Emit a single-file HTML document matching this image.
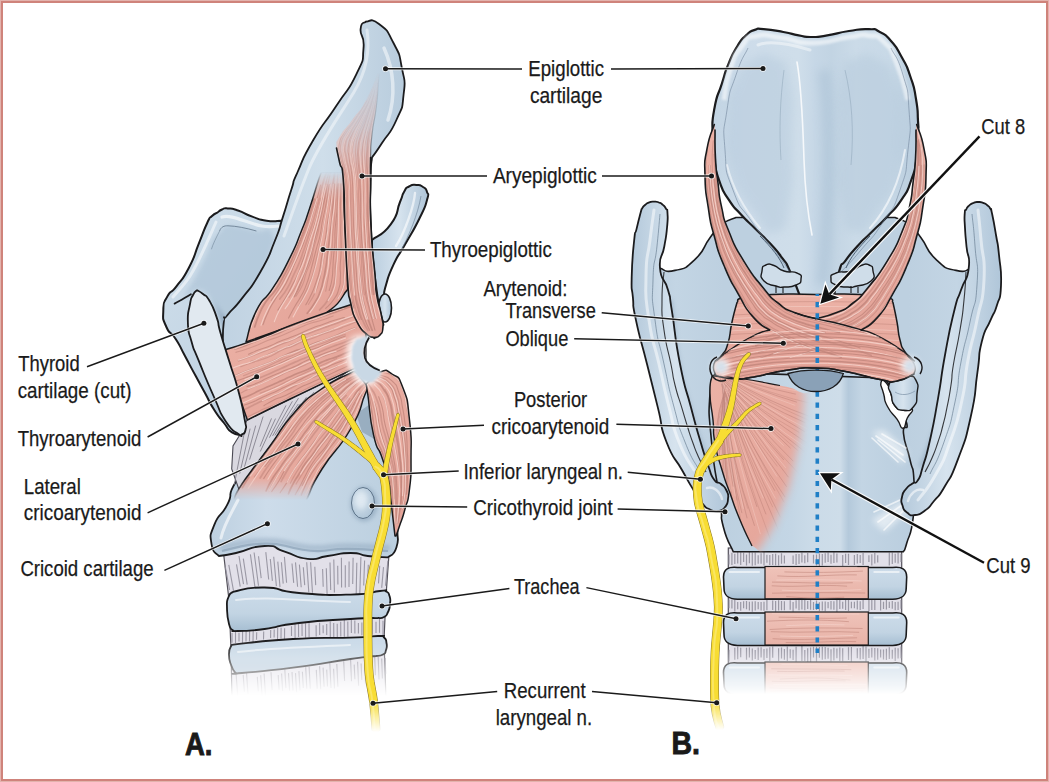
<!DOCTYPE html><html><head><meta charset="utf-8"><title>Larynx</title><style>html,body{margin:0;padding:0;background:#fff}svg{display:block}</style></head><body><svg width="1049" height="782" viewBox="0 0 1049 782">
<defs>
<filter id="blur3" filterUnits="userSpaceOnUse" x="0" y="0" width="1049" height="782"><feGaussianBlur stdDeviation="3"/></filter>
<filter id="blur1" filterUnits="userSpaceOnUse" x="0" y="0" width="1049" height="782"><feGaussianBlur stdDeviation="1"/></filter>
<filter id="blur2" filterUnits="userSpaceOnUse" x="0" y="0" width="1049" height="782"><feGaussianBlur stdDeviation="2"/></filter>
<filter id="blur5" filterUnits="userSpaceOnUse" x="0" y="0" width="1049" height="782"><feGaussianBlur stdDeviation="5"/></filter>
<linearGradient id="gBlue" x1="0" y1="0" x2="1" y2="1"><stop offset="0" stop-color="#cfdeea"/><stop offset="1" stop-color="#b7cbdd"/></linearGradient>
<linearGradient id="gBlueH" x1="0" y1="0" x2="1" y2="0"><stop offset="0" stop-color="#b9cdde"/><stop offset=".5" stop-color="#d6e3ee"/><stop offset="1" stop-color="#afc5d8"/></linearGradient>
<linearGradient id="gRing" x1="0" y1="0" x2="0" y2="1"><stop offset="0" stop-color="#cddcea"/><stop offset=".6" stop-color="#c2d4e3"/><stop offset="1" stop-color="#a6bed2"/></linearGradient>
<linearGradient id="gThyA" x1="0" y1="0" x2="1" y2="1"><stop offset="0" stop-color="#d0dfeb"/><stop offset=".5" stop-color="#c3d5e4"/><stop offset="1" stop-color="#b4c9db"/></linearGradient>
<linearGradient id="gCriA" x1="0" y1="0" x2="1" y2="0"><stop offset="0" stop-color="#bdd0e0"/><stop offset=".3" stop-color="#cddcea"/><stop offset="1" stop-color="#bbcfdf"/></linearGradient>
<linearGradient id="gEpiA" x1="0" y1="0" x2="1" y2="0"><stop offset="0" stop-color="#c0d2e2"/><stop offset=".55" stop-color="#cfdeea"/><stop offset="1" stop-color="#b8ccdd"/></linearGradient>
<radialGradient id="gJoint" cx=".4" cy=".4" r=".7"><stop offset="0" stop-color="#d8e4ee"/><stop offset="1" stop-color="#abc2d5"/></radialGradient>
<linearGradient id="gPink" x1="0" y1="0" x2="1" y2="1"><stop offset="0" stop-color="#ecb2a6"/><stop offset="1" stop-color="#e3a297"/></linearGradient>
<linearGradient id="lgFadeA" x1="0" y1="640" x2="0" y2="696" gradientUnits="userSpaceOnUse"><stop offset="0" stop-color="#fff"/><stop offset="1" stop-color="#000"/></linearGradient>
<mask id="fadeA" maskUnits="userSpaceOnUse" x="150" y="500" width="320" height="260"><rect x="150" y="500" width="320" height="260" fill="url(#lgFadeA)"/></mask>
<linearGradient id="lgFadeTE" x1="0" y1="172" x2="0" y2="200" gradientUnits="userSpaceOnUse"><stop offset="0" stop-color="#000"/><stop offset="1" stop-color="#fff"/></linearGradient>
<mask id="fadeTE" maskUnits="userSpaceOnUse" x="200" y="150" width="220" height="230"><rect x="200" y="150" width="220" height="230" fill="url(#lgFadeTE)"/></mask>
<linearGradient id="lgFadeLC" x1="0" y1="478" x2="0" y2="500" gradientUnits="userSpaceOnUse"><stop offset="0" stop-color="#fff"/><stop offset="1" stop-color="#000"/></linearGradient>
<mask id="fadeLC" maskUnits="userSpaceOnUse" x="200" y="350" width="220" height="200"><rect x="200" y="350" width="220" height="200" fill="url(#lgFadeLC)"/></mask>
<linearGradient id="lgFadeAE" x1="0" y1="72" x2="0" y2="185" gradientUnits="userSpaceOnUse"><stop offset="0" stop-color="#000"/><stop offset=".5" stop-color="#4a4a4a"/><stop offset=".78" stop-color="#b0b0b0"/><stop offset="1" stop-color="#fff"/></linearGradient>
<mask id="fadeAE" maskUnits="userSpaceOnUse" x="300" y="50" width="120" height="320"><rect x="300" y="50" width="120" height="320" fill="url(#lgFadeAE)"/></mask>
<linearGradient id="lgFadeNA" x1="0" y1="700" x2="0" y2="732" gradientUnits="userSpaceOnUse"><stop offset="0" stop-color="#fff"/><stop offset="1" stop-color="#000"/></linearGradient>
<mask id="fadeNA" maskUnits="userSpaceOnUse" x="250" y="300" width="200" height="460"><rect x="250" y="300" width="200" height="460" fill="url(#lgFadeNA)"/></mask>

<linearGradient id="gEpiB" x1="713" y1="0" x2="917" y2="0" gradientUnits="userSpaceOnUse"><stop offset="0" stop-color="#c2d4e3"/><stop offset=".15" stop-color="#cddcea"/><stop offset=".42" stop-color="#cfdeea"/><stop offset=".5" stop-color="#c6d7e6"/><stop offset=".58" stop-color="#c2d4e3"/><stop offset=".7" stop-color="#cbdbe8"/><stop offset=".87" stop-color="#c8d9e7"/><stop offset="1" stop-color="#b8ccdd"/></linearGradient>
<linearGradient id="gLamB" x1="631" y1="0" x2="1001" y2="0" gradientUnits="userSpaceOnUse"><stop offset="0" stop-color="#b3c8da"/><stop offset=".12" stop-color="#c3d5e4"/><stop offset=".25" stop-color="#bdd0e0"/><stop offset=".75" stop-color="#bdd0e0"/><stop offset=".88" stop-color="#c3d5e4"/><stop offset="1" stop-color="#b3c8da"/></linearGradient>
<linearGradient id="gCriB" x1="710" y1="0" x2="915" y2="0" gradientUnits="userSpaceOnUse"><stop offset="0" stop-color="#bbcfdf"/><stop offset=".4" stop-color="#c4d6e5"/><stop offset=".5" stop-color="#cbdbe8"/><stop offset=".635" stop-color="#cedde9"/><stop offset=".675" stop-color="#b4c9db"/><stop offset=".74" stop-color="#c3d5e4"/><stop offset="1" stop-color="#b9cdde"/></linearGradient>
<linearGradient id="gStripL" x1="0" y1="0" x2="1" y2="0"><stop offset="0" stop-color="#b4c9db"/><stop offset=".45" stop-color="#d6e3ee"/><stop offset="1" stop-color="#b0c6d9"/></linearGradient>
<linearGradient id="lgFadeB" x1="0" y1="648" x2="0" y2="694" gradientUnits="userSpaceOnUse"><stop offset="0" stop-color="#fff"/><stop offset="1" stop-color="#000"/></linearGradient>
<mask id="fadeB" maskUnits="userSpaceOnUse" x="650" y="500" width="330" height="260"><rect x="650" y="500" width="330" height="260" fill="url(#lgFadeB)"/></mask>
<linearGradient id="lgFadePC" x1="760" y1="436" x2="800" y2="448" gradientUnits="userSpaceOnUse"><stop offset="0" stop-color="#fff"/><stop offset="1" stop-color="#000"/></linearGradient>
<mask id="fadePC" maskUnits="userSpaceOnUse" x="650" y="340" width="330" height="260"><rect x="650" y="340" width="330" height="260" fill="url(#lgFadePC)"/></mask>
<linearGradient id="lgFadeNB" x1="0" y1="700" x2="0" y2="730" gradientUnits="userSpaceOnUse"><stop offset="0" stop-color="#fff"/><stop offset="1" stop-color="#000"/></linearGradient>
<mask id="fadeNB" maskUnits="userSpaceOnUse" x="650" y="300" width="200" height="460"><rect x="650" y="300" width="200" height="460" fill="url(#lgFadeNB)"/></mask>
<linearGradient id="gPinkT" x1="0" y1="0" x2="0" y2="1"><stop offset="0" stop-color="#efc3b9"/><stop offset="1" stop-color="#e8b2a7"/></linearGradient>
<linearGradient id="gPinkH" x1="0" y1="0" x2="0" y2="1"><stop offset="0" stop-color="#ecb2a6"/><stop offset="1" stop-color="#e3a297"/></linearGradient>

</defs>
<rect x="0" y="0" width="1049" height="782" fill="#fff"/><g mask="url(#fadeA)"><path d="M222 540L390 540L386 596L384 640L386 700L232 700L231 650L229 600Z" fill="#e2e0e9" stroke="#55535c" stroke-width="1.2"/><path d="M225.1 565.9L229.6 590M228.8 564.9L233.5 590.7M236.5 564.3L240.2 586.7M239 556L243.5 584.2M243.3 558.7L247.2 584.7M250.4 554.4L255 587.4M254.1 552.5L258.5 585.8M258.5 556.2L261.2 578.1M265.8 552.1L268.7 579.5M270.3 559L272.4 580.9M273.7 556.7L276.4 586.1M277.8 561.6L280 587.1M281.4 562.3L283.2 583.6M284.4 556.9L286.6 582.8M292 563.5L293.7 582.9M295.5 562.4L297.6 586.8M299.4 564.6L301.2 587.3M303.3 567.3L304.7 585.1M306.7 562.2L308.8 592.2M310.6 562.2L312.5 592.7M314.8 566.7L315.7 585.1M322.6 569L323.2 586.8M326.3 568.2L327.1 594.6M330 562.4L330.7 590.1M333.8 559.4L334.4 592.4M337.7 565.7L337.9 584.4M341.4 557.8L341.6 587.6M345.3 565.3L345.3 587.4M349.1 561.4L349 587M353.1 557.7L352.7 584.1M356.8 562.8L356.2 594.6M360.9 556.9L359.8 594.2M364.6 560.6L363.7 585.5M368.3 564.7L367.3 587.6M372.5 558.2L370.7 592.2M379.7 565.8L378.5 583.4M383.5 567.1L381.7 587.9M387.9 560.8L385.5 585.7" fill="none" stroke="#8e8c99" stroke-width="1.1" opacity="0.85"/><path d="M232 633.1L232 642.7M235.5 630L235.5 643.2M239 632.7L239 641.6M242.6 630.9L242.5 643M246.1 631.3L246 641.6M249.6 630.4L249.5 641.3M253.2 630.6L253 641.9M256.7 632.2L256.5 639.8M263.7 631.6L263.5 639.5M270.7 630.1L270.6 638.1M274.2 629.4L274.1 637.4M277.7 627.9L277.5 639.9M281.1 627.8L281 638.4M284.6 628.2L284.5 639.5M291.5 626.3L291.5 636M295 623.9L295.1 638.3M298.5 623.5L298.6 637.1M302 623.4L302.1 636.1M305.5 623.2L305.6 637.8M309 622L309.1 637.3M316.1 625.2L316.2 636.4M319.6 622.7L319.7 635.1M323.1 625.2L323.2 633.3M326.7 623.9L326.7 635.1M330.2 621.5L330.3 638.1M333.7 623.1L333.8 637.6M337.2 623.7L337.3 637.1M340.7 621.8L340.8 636.5M344.3 619.8L344.3 636.7M347.8 621.5L347.9 636.8M351.3 619L351.4 632.9M354.8 620.4L354.9 633.5M358.4 622.9L358.4 633.4M361.9 622.4L361.9 635.2M365.4 620.3L365.4 634.2M368.9 619.6L368.9 633M372.4 619.1L372.5 634.8M376 621.8L376 632.9M379.5 618.7L379.5 632.8M383 620.8L383 635.6" fill="none" stroke="#8e8c99" stroke-width="1.1" opacity="0.85"/><path d="M236.1 674L237.8 697.2M243.2 674.9L244.4 691.8M246.5 672.4L248 694.5M257.3 676.9L258.3 691.2M260.7 675.3L262.2 697.5M264.1 673.5L265.6 697.4M271 672.2L272.1 690.1M278.2 675.1L279.1 689.8M281.6 673.5L282.6 691M284.8 669.3L285.9 688.1M288.5 673.1L289.6 690.7M292 672.1L293 690.6M295.5 673.1L296.6 692.2M298.9 671.1L300 690.4M302.4 671.7L303.3 688M305.7 667.1L306.8 688.7M309.1 666.8L310.3 688.8M316.3 669.9L317.2 688.7M319.6 666.3L320.7 689.3M323.1 667.6L324.1 686.8M326.7 669.6L327.5 686.5M329.8 662.8L331 688M333.6 668.8L334.5 688.6M336.8 664L337.9 686.8M343.7 661.3L344.6 681.1M350.6 659.8L351.5 681.2M354.2 664.6L354.9 679.3M357.6 661.7L358.6 685.7M361.1 663.4L361.8 679.9M364.4 659.2L365.5 684.6M367.8 657.1L368.6 677.9M371.3 657.1L372.2 679.9M374.7 656.7L375.4 675.2M378.2 656.9L379 679.4M381.7 658.6L382.4 678.4M385.2 657.9L385.7 673.8" fill="none" stroke="#8e8c99" stroke-width="1.1" opacity="0.85"/><path d="M233 591.8C243.5 590.4 242.6 587.1 264.6 587.5C286.6 587.9 270.3 590.6 299 593C327.7 595.4 323.6 595.3 350.6 594.6C377.6 593.9 368.2 592 380 591C391.8 590 382.8 589.8 386 591.5C389.2 593.2 388.2 591.8 389.5 596C390.8 600.2 390.5 598.7 390 604C389.5 609.3 390 607.7 388 612C386 616.3 387.3 615 384 617C380.7 619 380 617.7 378 618C368.9 618.3 376.9 617.3 350.6 619C324.3 620.7 327.7 619.7 299 623C270.3 626.3 284.9 626.3 264.6 629C244.3 631.7 248.5 630.5 238 631C227.5 631.5 234.7 630.7 233 630.5C231.7 628.3 231 631.5 229 624C227 616.5 227.2 617 227 608C226.8 599 226.5 602.4 228.5 597C230.5 591.6 231.5 593.5 233 591.8Z" fill="url(#gRing)" stroke="#1b1b1d" stroke-width="1.8" stroke-linejoin="round" /><path d="M236 600C270 596 300 601 350 602" stroke="#fff" stroke-width="2" opacity=".55" fill="none" stroke-linecap="round"/><path d="M231.7 644.8C252.1 642.9 253.4 641.4 293 639C332.6 636.6 322.3 638.6 350.6 637.6C378.9 636.6 366.9 636 378 636C389.1 636 381.2 635.2 384 637.5C386.8 639.8 385.8 638.8 386.5 643C387.2 647.2 387.2 646.2 386 650C384.8 653.8 386.3 652.5 383 654.5C379.7 656.5 378.3 655.5 376 656C367.5 657 378.3 655.1 350.6 659C322.9 662.9 329.2 663 293 667.7C256.8 672.4 261 671.1 242 673C223 674.9 238 673.3 236 673.4C234.5 670.9 233.8 672.5 231.5 666C229.2 659.5 228.9 661.1 229 654C229.1 646.9 230.8 647.9 231.7 644.8Z" fill="url(#gRing)" stroke="#1b1b1d" stroke-width="1.8" stroke-linejoin="round" /><path d="M238 652C270 648 300 647 350 645" stroke="#fff" stroke-width="2" opacity=".55" fill="none" stroke-linecap="round"/></g><path d="M217.5 212.5C219 211.5 218.6 210.9 222 209.5C225.4 208.1 222.4 208.1 227.7 208.4C233 208.7 229.8 207.8 238 210.5C246.2 213.2 242.8 213.2 252.3 216.6C261.8 220 257 219.3 266.6 220.7C276.2 222.1 276.2 220.7 281 220.7C287.3 227.1 283.7 213.6 300 240C316.3 266.4 330 260 330 300C330 340 326.7 320 300 360C273.3 400 269.4 395.1 250 420C230.6 444.9 244.5 429.7 241.7 434.6C238.5 433.9 237.9 436.3 232 432.4C226.1 428.5 230 430.6 224 423C218 415.4 220.3 419.5 214 409.5C207.7 399.5 211.1 404.2 205 393C198.9 381.8 202.3 388.1 195.6 375.8C188.9 363.5 191.6 368.3 185 356C178.4 343.7 181.9 348.7 175.7 339C169.5 329.3 170.5 336.4 166.4 327C162.3 317.6 163 320.9 163.3 310.7C163.6 300.5 163 304.6 167.4 296.4C171.8 288.2 169.4 295.8 176.6 286.2C183.8 276.6 181.4 282 188.9 267.7C196.4 253.4 192.9 258.2 199 243.2C205.1 228.2 203 231.8 207.3 222.7C211.6 213.6 208.6 219.4 212 216C215.4 212.6 215.7 213.7 217.5 212.5Z" fill="url(#gThyA)" stroke="#1b1b1d" stroke-width="2" stroke-linejoin="round" /><path d="M221 231C225.3 226.3 219.7 227.3 226 226C232.3 224.7 230 225.3 240 227C250 228.7 245.3 229 256 231C266.7 233 268 224 272 233C276 242 274.7 239 268 258C261.3 277 262.7 272 252 290C241.3 308 244.7 300.7 236 312C227.3 323.3 233.3 326.7 226 324C218.7 321.3 222.7 315.3 214 304C205.3 292.7 209.3 292.7 200 290C190.7 287.3 187.3 300.7 186 296C184.7 291.3 189.3 289.3 196 276C202.7 262.7 200.3 268 206 256C211.7 244 208 248.3 213 240C218 231.7 216.7 235.7 221 231Z" fill="#afc5d8" opacity=".7" filter="url(#blur2)"/><path d="M219.6 231C221 227 224 225.6 228 225.8C236 226 246 228 256.4 231" fill="none" stroke="#5f7386" stroke-width=".9" opacity=".85"/><path d="M219.6 231C216 238 213 244 211.4 249.3" fill="none" stroke="#5f7386" stroke-width=".8" opacity=".6"/><path d="M222 217C232 214 246 223 262 226C268 227 274 226.5 279 226" fill="none" stroke="#fff" stroke-width="3.2" opacity=".6" stroke-linecap="round"/><path d="M216 222C208 240 200 260 190 276C185 284 178 291 173 297" fill="none" stroke="#fff" stroke-width="3" opacity=".5" stroke-linecap="round"/><path d="M174.6 303.6C180 301 186 297 190.9 294.3" fill="none" stroke="#1b1b1d" stroke-width="1.8" stroke-linecap="round"/><path d="M212 300C220 316 226 336 232 356L246 340L226 318Z" fill="#8ba2b8" opacity=".8" filter="url(#blur2)"/><path d="M372 240C378.2 234.8 381.4 237.1 390.7 224.4C400 211.7 395.6 212.8 400 202C404.4 191.2 401 197.2 404 192C407 186.8 404.8 188.8 409 186.5C413.2 184.2 411.8 184.8 416.5 185C421.2 185.2 419.5 184.7 423 187C426.5 189.3 425.7 187.7 427 192C428.3 196.3 429.6 191.1 427 200C424.4 208.9 426.6 203.9 419.3 218.7C412 233.5 413.6 229.2 405 244.5C396.4 259.8 399.8 251.1 393.5 264.6C387.2 278.1 389.2 274.5 386 285C382.8 295.5 384.7 292.3 384 296C380 296 376 314.7 372 296C368 277.3 372 258.7 372 240Z" fill="url(#gBlueH)" stroke="#1b1b1d" stroke-width="2" stroke-linejoin="round" /><path d="M415 193C414 206 405 232 396 246" fill="none" stroke="#fff" stroke-width="2.4" opacity=".6" stroke-linecap="round"/><path d="M421 196C418 214 409 236 400 252" fill="none" stroke="#6d8196" stroke-width=".8" opacity=".8"/><ellipse cx="385" cy="308" rx="6.5" ry="14" fill="url(#gBlueH)" stroke="#1b1b1d" stroke-width="1.6"/><path d="M300 400C286.7 416.7 281.3 422.8 260 450C238.7 477.2 246.9 463.4 236 481.5C225.1 499.6 234.6 490.1 227.4 504.4C220.2 518.7 219.8 511 214.5 524.4C209.2 537.8 210.2 534 211.6 544.5C213 555 216.4 552.2 218.8 556C224.5 555 220.7 556.3 236 553C251.3 549.7 248.4 546.4 264.6 546C280.8 545.6 270.4 547.4 284.7 551.7C299 556 293.3 557.4 307.6 558.8C321.9 560.2 313.4 557.9 327.7 556C342 554.1 337.2 553 350.6 553C364 553 355.4 554.5 367.8 556C380.2 557.5 381.1 556.9 387.8 557.4C390.7 554.1 393.2 557.4 396.4 547.4C399.6 537.4 397 543.1 397.5 527.3C398 511.5 398.8 522.4 398 500C397.2 477.6 401 486.7 395 460C389 433.3 390 443.3 380 420C370 396.7 391.7 396.7 365 390C338.3 383.3 321.7 396.7 300 400Z" fill="url(#gCriA)" stroke="#1b1b1d" stroke-width="1.8" stroke-linejoin="round" /><path d="M222 551C238 547 262 540 286 546C300 550 314 553 330 550C348 547 366 550 388 551" fill="none" stroke="#7e95ab" stroke-width="2.2" opacity=".55"/><path d="M238 500C232 512 224 524 221 538" fill="none" stroke="#fff" stroke-width="3" opacity=".6" stroke-linecap="round"/><path d="M220 548C238 544 262 537 286 543C300 547 314 550 330 547C348 544 366 547 390 548" fill="none" stroke="#8aa2b9" stroke-width="5" opacity=".55" filter="url(#blur2)"/><ellipse cx="364" cy="504" rx="13.5" ry="17.5" fill="#8ea6bc" opacity=".7" filter="url(#blur2)"/><ellipse cx="363" cy="503" rx="11.5" ry="15.5" fill="url(#gJoint)" stroke="#5d7389" stroke-width="1"/><ellipse cx="361" cy="500" rx="6" ry="9" fill="#e4edf4" opacity=".7" filter="url(#blur2)"/><path d="M356 414L373 402L376 440L362 432Z" fill="#8fa5b8" opacity=".8"/><path d="M247 420L347.7 371.6L300 405L270 446L238.8 489L231.7 469L233 446L241 433Z" fill="#d9d8e0" stroke="#4a4953" stroke-width="1.1"/><path d="M244.3 432.7L234.3 484.6M250.1 428.7L239.7 473.7M255.7 425.6L243.7 469.8M263.1 416.5L249.6 459.6M271.5 418.4L260 446.6M275.5 418.6L260.3 451.5M286 405.4L269.4 437.7M292.4 401.3L272.6 435.9M298.5 398.1L274.9 435.4M298.3 404L278.9 431.7M306.5 397.2L282 429.1M314.1 392L283 428.6M314.9 394.3L290.3 420.6M326.1 385.7L299.3 411.7M336 381.2L301.8 408.5" fill="none" stroke="#85838e" stroke-width="1" opacity="0.9"/><path d="M366 21.5C370.3 22.3 369.8 16.8 379 24C388.2 31.2 385.8 28.1 393.5 43C401.2 57.9 398.6 51.5 402 68.7C405.4 85.9 405.5 77.4 403.6 94.5C401.7 111.6 403.6 103.8 396.4 120C389.2 136.2 390.1 130.5 382 143C373.9 155.5 375.3 152.7 372 157.5C371.5 165 370.9 156.8 370.6 180C370.3 203.2 369.2 192 371 227C372.8 262 371.8 252.3 376 285C380.2 317.7 381 311.7 383.5 325C355.7 331.7 353.5 336.3 300 345C246.5 353.7 248.7 349 223 351C223.2 341.7 222.1 335.1 223.7 323C225.3 310.9 221.6 323 227.7 314.8C233.8 306.6 231.1 312.7 242 298.4C252.9 284.1 249.6 290.9 260.5 271.8C271.4 252.7 267.3 259.4 274.8 241C282.3 222.6 277.5 233.6 283 216.6C288.5 199.6 286.3 204.9 291.2 190C296.1 175.1 290.2 188.7 297.6 172C305 155.3 300.4 162 313.3 140C326.2 118 321.9 127.9 336.2 106C350.5 84.1 347.2 93.5 356.3 74.4C365.4 55.3 362.1 63.7 363.5 48.6C364.9 33.5 359.8 38 360.6 29C361.4 20 364.2 24 366 21.5Z" fill="url(#gEpiA)" stroke="#1b1b1d" stroke-width="1.8" stroke-linejoin="round" /><path d="M367 30C370 50 366 72 354 92C338 118 322 140 310 166C300 190 292 214 284 236" fill="none" stroke="#fff" stroke-width="3" opacity=".45" stroke-linecap="round"/><path d="M384 48C394 70 396 96 388 120" fill="none" stroke="#fff" stroke-width="3.5" opacity=".5" stroke-linecap="round"/><clipPath id="cTE"><path d="M322 172C321 174.2 323.1 166.5 319 178.6C314.9 190.7 315.5 190.9 309.6 208.4C303.7 225.9 308.3 213.9 301.4 231C294.5 248.1 298.5 240.5 289 259.6C279.5 278.7 283.7 271.2 272.8 288.2C261.9 305.2 265.3 292.8 256.4 310.7C247.5 328.6 249.5 331.6 246 342L325 314C331 308 335.5 309 343 296C350.5 283 346.8 298 347.5 275C348.2 252 346.4 258.5 345 227C343.6 195.5 344.1 198.8 343.4 180.5C342.7 162.2 343.1 174.8 343 172Z"/></clipPath><path d="M322 172C321 174.2 323.1 166.5 319 178.6C314.9 190.7 315.5 190.9 309.6 208.4C303.7 225.9 308.3 213.9 301.4 231C294.5 248.1 298.5 240.5 289 259.6C279.5 278.7 283.7 271.2 272.8 288.2C261.9 305.2 265.3 292.8 256.4 310.7C247.5 328.6 249.5 331.6 246 342L325 314C331 308 335.5 309 343 296C350.5 283 346.8 298 347.5 275C348.2 252 346.4 258.5 345 227C343.6 195.5 344.1 198.8 343.4 180.5C342.7 162.2 343.1 174.8 343 172Z" fill="url(#gPink)" mask="url(#fadeTE)"/><g clip-path="url(#cTE)" fill="none" stroke-linecap="round" mask="url(#fadeTE)"><path d="M314.1 199C312.9 203.5 313.2 203.5 310.3 212.5C307.5 221.5 309 217.1 305.7 226C302.5 234.9 304.2 230.4 300.6 239.3C297.1 248.1 298.8 243.8 295 252.5C291.2 261.1 293.4 256.8 289.3 265.3C285.2 273.7 287.3 269.5 282.7 277.8C278.1 286 280.9 282.1 275.5 290C270 297.8 271.6 293.5 266.3 301.3C261 309.2 263.5 305 259.6 313.6C255.7 322.1 256.3 322.5 254.7 326.9" stroke="#c0847a" stroke-width="1.7" opacity="0.8"/><path d="M315.8 198.8C314.4 203.3 314.6 203.3 311.8 212.3C308.9 221.2 310.4 216.8 307.3 225.7C304.1 234.5 305.7 230.1 302.3 238.9C299 247.7 300.7 243.4 297.2 252C293.7 260.6 295.8 256.3 291.9 264.7C288 273.1 289.9 269 285.5 277.2C281.1 285.4 283.5 281.6 278.7 289.4C273.9 297.1 273.7 296.8 271.2 300.5" stroke="#c0847a" stroke-width="1.1" opacity="0.55"/><path d="M320.6 185.1C319.4 189.6 319.6 189.6 317.1 198.6C314.7 207.6 315.9 203.1 313.3 212C310.7 220.9 312.1 216.5 309.4 225.2C306.7 234 308.3 229.6 305.2 238.3C302.2 247 303.9 242.7 300.3 251.3C296.7 259.9 298.1 255.8 294.5 264.1C290.8 272.5 293.2 268.3 289.3 276.4C285.4 284.6 287.6 280.8 282.8 288.6C278 296.4 279.7 292.1 274.9 299.9C270 307.7 272.2 303.6 268.2 311.9C264.2 320.2 264.7 320.5 262.9 324.8" stroke="#c0847a" stroke-width="1.1" opacity="0.8"/><path d="M326.6 172C325.2 176.3 324.8 176.3 322.4 185C319.9 193.8 321.5 189.5 319.4 198.3C317.2 207.2 318.4 202.8 315.9 211.6C313.5 220.4 314.7 216 312 224.7C309.3 233.4 310.7 229.1 307.9 237.7C305.1 246.3 306.5 242.1 303.6 250.6C300.6 259.1 302.5 254.8 299.1 263.1C295.7 271.5 297.1 267.4 293.3 275.6C289.5 283.8 292.2 279.8 287.7 287.6C283.2 295.4 282.4 295.2 279.8 299" stroke="#c0847a" stroke-width="1.7" opacity="0.55"/><path d="M321.1 198.1C320.1 202.4 320.3 202.5 318.1 211.2C316 219.9 317.1 215.6 314.6 224.2C312.1 232.9 313.3 228.6 310.6 237.1C307.9 245.7 309.3 241.5 306.4 250C303.6 258.4 305 254.3 302 262.5C299 270.8 301 266.6 297.5 274.7C293.9 282.9 295.3 279.1 291.3 286.9C287.3 294.7 289.9 290.3 285.4 298.1C281 305.8 280.4 306.1 277.9 310.1" stroke="#c0847a" stroke-width="1.1" opacity="0.8"/><path d="M328.9 172C327.8 176.3 327.6 176.2 325.5 184.8C323.5 193.4 324.6 189.2 322.8 197.9C320.9 206.6 322 202.2 320 210.9C318 219.5 319.1 215.2 316.8 223.8C314.5 232.4 315.6 228.1 313.1 236.6C310.6 245.1 311.9 241 309.4 249.3C306.9 257.7 308.2 253.6 305.6 261.8C303 269.9 304.7 265.8 301.5 273.9C298.4 282 300.3 278.1 296.1 286C291.9 293.8 291.3 293.6 289 297.5" stroke="#c0847a" stroke-width="1.1" opacity="0.55"/><path d="M326.7 184.7C326 189 326.2 189 324.5 197.6C322.7 206.3 323.3 202 321.5 210.6C319.6 219.2 320.9 214.9 318.9 223.4C316.9 231.9 317.7 227.7 315.5 236.1C313.2 244.6 314.3 240.4 312.1 248.7C310 257 311.7 252.8 309 261C306.3 269.2 307.2 265.3 304.1 273.4C301 281.5 303.1 277.5 299.8 285.3C296.6 293 296.1 292.8 294.3 296.5" stroke="#c0847a" stroke-width="1.7" opacity="0.8"/><path d="M330.6 172C329.7 176.2 329.6 176.1 327.8 184.6C326 193.2 326.8 189 325.1 197.6C323.5 206.1 324.5 201.8 322.8 210.4C321.1 218.9 321.8 214.7 319.9 223.2C318.1 231.6 319.4 227.3 317.3 235.7C315.2 244.1 315.8 240.1 313.7 248.4C311.7 256.7 313.6 252.4 311.1 260.6C308.6 268.8 309.1 264.9 306.2 272.9C303.4 281 306 277 302.6 284.7C299.1 292.5 298.1 292.4 295.9 296.3" stroke="#c0847a" stroke-width="1.1" opacity="0.55"/><path d="M329.1 184.6C328.4 188.8 328.6 188.8 327.2 197.3C325.7 205.8 326.5 201.6 324.8 210C323.1 218.5 323.7 214.4 322.1 222.7C320.6 231.1 321.9 226.8 320.1 235.1C318.3 243.5 318.9 239.4 316.7 247.7C314.5 256 315.6 251.9 313.5 260C311.4 268.2 312.6 264.1 310.3 272.1C308 280.1 309.5 276.2 306.6 284C303.7 291.7 305.5 287.6 301.5 295.3C297.4 303 298.8 299.4 294.5 307C290.2 314.6 290.6 314.4 288.6 318.1" stroke="#c0847a" stroke-width="1.1" opacity="0.8"/><path d="M330.5 184.5C329.9 188.7 330 188.7 328.7 197.1C327.4 205.5 328 201.3 326.6 209.7C325.3 218.1 326.1 213.9 324.5 222.2C323 230.6 323.8 226.4 322.1 234.7C320.4 243 321.3 238.9 319.5 247.1C317.6 255.4 318.3 251.3 316.5 259.4C314.6 267.5 316.1 263.4 313.8 271.4C311.6 279.4 312.8 275.6 309.7 283.4C306.6 291.2 308.1 287.2 304.5 294.8C300.9 302.4 300.8 302.3 298.9 306.1" stroke="#c0847a" stroke-width="1.7" opacity="0.55"/><path d="M334.5 172C333.9 176.1 333.9 176 332.7 184.3C331.6 192.6 332 188.5 331 196.8C330.1 205.1 331 200.9 329.9 209.2C328.8 217.4 329 213.4 327.7 221.6C326.4 229.9 327.3 225.7 326.1 233.9C324.8 242 325.6 238 324 246.1C322.5 254.3 323 250.3 321.5 258.3C320 266.3 321.4 262.3 319.6 270.2C317.8 278.1 318.7 274.3 316.1 282.1C313.4 289.9 315.1 286 311.7 293.5C308.3 301.1 307.8 301 305.8 304.8" stroke="#c0847a" stroke-width="1.1" opacity="0.8"/><path d="M335.1 172C334.6 176.1 334.6 176 333.6 184.2C332.7 192.5 333.2 188.4 332.3 196.6C331.3 204.9 332 200.7 330.9 209C329.7 217.2 330 213.2 328.8 221.4C327.6 229.6 328.4 225.5 327.2 233.6C326.1 241.8 326.5 237.8 325.3 245.9C324.2 253.9 325 249.9 323.7 257.9C322.5 265.8 323.1 261.9 321.5 269.8C319.9 277.7 321.2 273.8 319 281.6C316.7 289.3 318.3 285.4 314.9 293C311.4 300.6 310.6 300.5 308.5 304.3" stroke="#c0847a" stroke-width="1.1" opacity="0.55"/><path d="M334.9 184.2C334.6 188.2 334.8 188.2 334 196.4C333.3 204.6 333.4 200.5 332.7 208.7C331.9 216.8 332.7 212.7 331.8 220.8C330.9 228.9 331.2 224.9 330.1 233C329.1 241.1 329.6 237.1 328.7 245.1C327.7 253.2 328.3 249.2 327.2 257.1C326.2 265 326.9 261.1 325.5 269C324.1 276.9 325 273 323.1 280.8C321.3 288.5 322.9 284.6 320 292.1C317.1 299.6 318.6 296.1 314.4 303.2C310.1 310.2 309.6 309.9 307.2 313.3" stroke="#c0847a" stroke-width="1.7" opacity="0.8"/><path d="M337.9 172C337.6 176 337.5 176 336.9 184C336.3 192.1 336.6 188.1 336 196.2C335.4 204.2 335.7 200.2 335.2 208.3C334.6 216.3 335 212.3 334.3 220.3C333.5 228.4 333.6 224.4 332.9 232.4C332.2 240.4 332.8 236.4 332.3 244.3C331.8 252.3 332.2 248.3 331.4 256.2C330.5 264.1 330.9 260.2 329.7 268.1C328.5 276 329.1 272.2 327.8 279.9C326.4 287.5 326.4 287.4 325.7 291.1" stroke="#c0847a" stroke-width="1.1" opacity="0.55"/><path d="M338 183.9C337.8 188 337.6 188 337.3 196C336.9 204 337.5 199.9 337 207.9C336.6 215.9 336.7 212 336 220C335.3 228 335.3 224.1 335 232C334.6 239.9 335.3 235.9 334.9 243.8C334.4 251.7 334.3 247.8 333.6 255.7C333 263.6 333.4 259.7 332.9 267.5C332.3 275.2 333.2 271.3 332 279C330.8 286.7 330.1 286.7 329.2 290.5" stroke="#c0847a" stroke-width="1.1" opacity="0.8"/><path d="M339.1 183.9C338.9 187.9 338.8 187.9 338.5 195.8C338.2 203.8 338.6 199.8 338.3 207.7C337.9 215.7 337.9 211.7 337.5 219.7C337.1 227.6 337.3 223.6 337.1 231.5C336.9 239.4 336.8 235.5 336.8 243.4C336.7 251.2 337.4 247.2 336.9 255C336.5 262.9 336 259.1 335.4 266.9C334.8 274.7 336.2 270.7 335 278.5C333.9 286.2 334.6 282.6 332 290.1C329.4 297.5 331.4 294.1 327.3 300.7C323.2 307.4 322.2 306.9 319.6 310" stroke="#c0847a" stroke-width="1.7" opacity="0.55"/><path d="M340.8 183.7C340.8 187.7 340.8 187.7 340.7 195.5C340.6 203.4 340.5 199.5 340.5 207.3C340.6 215.2 340.9 211.2 340.9 219C341 226.8 340.7 223 340.7 230.8C340.8 238.6 341 234.6 341.1 242.4C341.2 250.2 341.3 246.3 341 254.1C340.7 262 340.5 258.2 340.2 265.9C340 273.7 340.8 269.8 340.4 277.4C339.9 285.1 341 281.5 338.8 288.9C336.6 296.2 338 293 333.7 299.5C329.3 306 328.4 305.5 325.7 308.4" stroke="#c0847a" stroke-width="1.1" opacity="0.8"/><path d="M342.2 183.7C342.3 187.5 342.3 187.5 342.5 195.3C342.6 203.1 342.4 199.2 342.6 207C342.8 214.7 342.9 210.8 343.1 218.6C343.3 226.3 343 222.5 343.2 230.2C343.5 238 343.5 234.1 343.8 241.8C344.1 249.6 344.1 245.7 344.2 253.4C344.3 261.2 344.2 257.4 344 265.2C343.8 272.9 344.1 269.1 343.7 276.8C343.2 284.5 344.7 280.9 342.6 288.2C340.5 295.6 339.1 295.3 337.4 298.8" stroke="#c0847a" stroke-width="1.1" opacity="0.55"/><path d="M322.2 172C320.5 176.5 320.3 176.3 317.2 185.4C314.1 194.4 315.7 190 312.7 199.2C309.8 208.3 311.5 203.8 308.4 212.8C305.3 221.9 306.7 217.5 303.5 226.4C300.2 235.4 302.3 230.8 298.7 239.7C295.1 248.5 296.9 244.2 292.7 253C288.5 261.7 290.7 257.4 286.2 265.9C281.7 274.4 284 270.3 279.3 278.5C274.7 286.7 277.8 282.8 272.3 290.6C266.7 298.4 268.1 294.1 262.7 302C257.4 309.8 260.1 305.6 256.1 314.2C252.2 322.9 252.6 323.4 250.9 327.9" stroke="#f6d6ce" stroke-width="1.1" opacity="0.8"/><path d="M317 198.6C315.6 203.1 315.6 203.2 312.9 212.1C310.2 221 311.9 216.5 309 225.3C306.1 234.1 307.5 229.8 304.2 238.5C300.9 247.3 302.6 243 299 251.6C295.5 260.2 297.4 255.9 293.5 264.3C289.7 272.7 291.7 268.6 287.5 276.8C283.3 285 285.7 281.1 280.9 288.9C276.1 296.7 277.9 292.4 273 300.2C268.1 308 270.2 304 266.2 312.3C262.2 320.7 262.7 321 261 325.3" stroke="#f6d6ce" stroke-width="1.1" opacity="0.8"/><path d="M324.3 184.9C323.4 189.3 323.5 189.3 321.6 198C319.7 206.8 320.5 202.4 318.5 211.1C316.4 219.8 317.8 215.4 315.3 224.1C312.9 232.7 313.8 228.5 311.1 237C308.4 245.6 309.7 241.4 307.2 249.8C304.7 258.2 306.6 253.9 303.5 262.2C300.5 270.5 301.4 266.5 298 274.6C294.7 282.7 297.1 278.8 293.4 286.5C289.6 294.2 291.4 290.1 286.8 297.8C282.2 305.6 283.8 301.8 279.6 309.8C275.4 317.8 276 317.8 274.3 321.8" stroke="#f6d6ce" stroke-width="1.1" opacity="0.8"/><path d="M326.4 184.7C325.4 189.1 325.3 189.1 323.5 197.8C321.8 206.4 322.9 202.1 321.1 210.7C319.3 219.3 320.2 215 318 223.5C315.9 232.1 316.7 227.9 314.6 236.3C312.5 244.7 313.9 240.5 311.7 248.8C309.4 257.2 310.7 253 307.9 261.2C305.2 269.5 306.8 265.4 303.5 273.5C300.1 281.6 301.4 277.9 297.9 285.6C294.3 293.4 297.1 289.1 292.8 296.8C288.6 304.5 287.7 304.8 285.1 308.7" stroke="#f6d6ce" stroke-width="1.1" opacity="0.8"/><path d="M330.6 184.5C329.9 188.7 329.9 188.7 328.6 197.1C327.3 205.5 328.1 201.3 326.7 209.7C325.3 218.1 325.9 214 324.5 222.3C323.1 230.6 324 226.4 322.5 234.6C321 242.9 321.6 238.8 320 247C318.3 255.2 319.3 251.1 317.5 259.2C315.6 267.3 316.7 263.3 314.4 271.3C312.1 279.3 313.4 275.4 310.5 283.2C307.6 291 309.6 286.9 305.7 294.6C301.9 302.2 303.3 298.6 299.1 306.1C294.9 313.5 295.1 313.3 293.1 316.9" stroke="#f6d6ce" stroke-width="1.1" opacity="0.8"/><path d="M333.2 184.3C332.8 188.4 332.9 188.4 332 196.7C331.1 204.9 331.6 200.8 330.4 209.1C329.3 217.3 329.7 213.3 328.7 221.4C327.6 229.6 328.5 225.4 327.4 233.6C326.2 241.8 326.6 237.8 325.2 245.9C323.8 254 324.4 250 323.2 258C321.9 265.9 323.1 261.9 321.4 269.8C319.7 277.7 320.2 274 318 281.7C315.8 289.5 315.9 289.2 314.9 293" stroke="#f6d6ce" stroke-width="1.1" opacity="0.8"/><path d="M336.9 172C336.6 176 336.4 176 335.8 184.1C335.1 192.2 335.5 188.2 334.9 196.3C334.4 204.4 334.9 200.3 334.1 208.4C333.2 216.6 333.2 212.6 332.3 220.7C331.4 228.8 332 224.7 331.3 232.8C330.7 240.8 331.3 236.7 330.5 244.7C329.6 252.7 329.7 248.8 328.8 256.8C327.9 264.7 329.1 260.6 327.9 268.5C326.6 276.4 327.1 272.6 325.1 280.4C323.1 288.1 324.7 284.3 321.8 291.8C319 299.3 320.5 295.9 316.5 302.8C312.5 309.7 312.1 309.3 309.9 312.6" stroke="#f6d6ce" stroke-width="1.1" opacity="0.8"/><path d="M339.9 172C339.7 176 339.6 175.9 339.3 183.9C339 191.8 339.2 187.8 338.9 195.8C338.6 203.7 338.6 199.8 338.5 207.7C338.3 215.6 338.5 211.6 338.4 219.5C338.3 227.4 338.4 223.4 338.1 231.3C337.8 239.2 337.7 235.3 337.6 243.2C337.4 251 338 247 337.6 254.9C337.3 262.7 337.2 258.9 336.6 266.7C335.9 274.5 336.7 270.6 335.8 278.3C334.8 286 336.3 282.3 333.8 289.7C331.3 297.2 330.1 296.9 328.2 300.5" stroke="#f6d6ce" stroke-width="1.1" opacity="0.8"/><path d="M342.3 172C342.4 175.9 342.4 175.9 342.6 183.6C342.8 191.4 342.8 187.5 342.8 195.3C342.9 203 342.5 199.2 342.7 207C342.8 214.7 343 210.8 343.3 218.5C343.5 226.3 343.1 222.5 343.4 230.2C343.6 237.9 343.7 234 344 241.8C344.4 249.5 344.1 245.7 344.5 253.4C345 261.1 345.3 257.1 345.3 264.9C345.3 272.6 345.2 268.9 344.5 276.6C343.8 284.4 345.3 280.8 343.1 288.1C340.9 295.5 339.6 295.2 337.9 298.7" stroke="#f6d6ce" stroke-width="1.1" opacity="0.8"/></g><path d="M322 172C321 174.2 323.1 166.5 319 178.6C314.9 190.7 315.5 190.9 309.6 208.4C303.7 225.9 308.3 213.9 301.4 231C294.5 248.1 298.5 240.5 289 259.6C279.5 278.7 283.7 271.2 272.8 288.2C261.9 305.2 265.3 292.8 256.4 310.7C247.5 328.6 249.5 331.6 246 342L325 314C331 308 335.5 309 343 296C350.5 283 346.8 298 347.5 275C348.2 252 346.4 258.5 345 227C343.6 195.5 344.1 198.8 343.4 180.5C342.7 162.2 343.1 174.8 343 172Z" fill="none" stroke="#1b1b1d" stroke-width="1.5" stroke-linejoin="round" mask="url(#fadeTE)"/><clipPath id="cTA"><path d="M223 350.5C235.3 346.3 234.3 347.5 260 338C285.7 328.5 269.8 333.1 300 322C330.2 310.9 328.6 312 350.6 304.7C372.6 297.4 360.9 301.6 366 300L366 364C359.9 366.5 373 359.9 347.7 371.6C322.4 383.3 323.4 382.9 290 399C256.6 415.1 261.6 413 247.4 420Z"/></clipPath><path d="M223 350.5C235.3 346.3 234.3 347.5 260 338C285.7 328.5 269.8 333.1 300 322C330.2 310.9 328.6 312 350.6 304.7C372.6 297.4 360.9 301.6 366 300L366 364C359.9 366.5 373 359.9 347.7 371.6C322.4 383.3 323.4 382.9 290 399C256.6 415.1 261.6 413 247.4 420Z" fill="url(#gPink)" /><g clip-path="url(#cTA)" fill="none" stroke-linecap="round" ><path d="M234.8 349C238.5 347.8 238.5 348.1 245.8 345.4C253.1 342.7 249.4 343.8 256.6 340.9C263.8 338.1 260.2 339.3 267.5 336.7C274.8 334.2 271.2 336.1 278.4 333.2C285.6 330.3 281.9 331.2 289 328.1C296.2 325 292.6 326.3 299.9 323.9C307.2 321.4 303.6 323.3 310.9 320.7C318.2 318.2 314.5 319 321.8 316.4C329.1 313.8 325.5 315.5 332.9 313C340.2 310.5 336.5 311.4 343.8 308.9C351.2 306.4 351.2 306.6 354.9 305.4" stroke="#c0847a" stroke-width="1.7" opacity="0.8"/><path d="M235.9 352.4C239.6 351.3 239.6 351.4 246.9 348.9C254.2 346.5 250.6 347.9 257.7 345C264.9 342.1 261.2 343 268.3 340.2C275.5 337.4 272 339.3 279.2 336.5C286.3 333.7 282.7 334.9 289.8 331.9C296.9 328.8 293.3 330.3 300.5 327.3C307.6 324.4 304 325.5 311.3 323.1C318.5 320.7 315 322.5 322.3 320.1C329.5 317.7 329.5 317.3 333.1 315.9" stroke="#c0847a" stroke-width="1.1" opacity="0.55"/><path d="M248.5 354.3C252 352.8 251.9 352.5 259 349.8C266.1 347 262.7 348.9 269.8 346C276.8 343.2 273.2 344.1 280.2 341.2C287.2 338.3 283.8 340.1 290.8 337.3C297.9 334.6 294.4 336.1 301.4 333C308.5 330 304.9 331.1 312 328.2C319.1 325.3 315.6 326.9 322.7 324.4C329.9 321.8 326.3 322.9 333.5 320.6C340.7 318.4 340.7 318.6 344.3 317.6" stroke="#c0847a" stroke-width="1.1" opacity="0.8"/><path d="M238.6 360.6C242.1 359.3 242.1 359.3 249.2 356.6C256.3 354 252.7 355.3 259.8 352.7C266.9 350 263.4 351.5 270.4 348.7C277.5 345.9 273.9 347.1 280.9 344.3C287.9 341.4 284.4 343 291.4 340.2C298.4 337.3 294.8 338.5 301.9 335.7C308.9 333 305.4 334.5 312.5 332C319.6 329.4 316 330.5 323.1 328C330.2 325.4 326.7 326.9 333.8 324.3C340.9 321.6 337.4 322.9 344.5 320.1C351.6 317.3 351.6 317.3 355.2 315.8" stroke="#c0847a" stroke-width="1.7" opacity="0.55"/><path d="M250.7 361.6C254.2 360.3 254.3 360.6 261.2 357.8C268.1 354.9 264.6 355.8 271.5 353C278.4 350.2 275.1 352.1 282 349.2C288.9 346.4 285.4 347.6 292.2 344.5C299.1 341.5 295.7 342.9 302.6 340C309.5 337 306 338.2 313 335.7C320.1 333.2 316.6 334.9 323.7 332.6C330.7 330.3 330.7 330.1 334.2 328.8" stroke="#c0847a" stroke-width="1.1" opacity="0.8"/><path d="M240.6 366.7C244.1 365.5 244.1 365.4 251.1 363C258.1 360.6 254.7 362 261.7 359.5C268.7 357 265.2 358.5 272.1 355.4C278.9 352.2 275.3 353.1 282.2 350.1C289 347 285.7 349.1 292.6 346.2C299.5 343.4 295.9 344.1 302.8 341.4C309.8 338.7 306.4 340.6 313.4 338.1C320.4 335.5 316.8 336.2 323.8 333.7C330.8 331.1 327.3 332.7 334.3 330.4C341.4 328 337.8 329.3 344.8 326.6C351.8 323.9 351.8 323.7 355.3 322.3" stroke="#c0847a" stroke-width="1.1" opacity="0.55"/><path d="M232.4 377.3C235.8 375.7 235.7 375.5 242.5 372.7C249.3 369.9 246 371.4 252.9 368.9C259.8 366.3 256.3 367.7 263.2 365C270.1 362.4 266.7 364 273.5 361C280.2 358 276.8 359.3 283.5 356.1C290.2 353 286.8 354.2 293.6 351.6C300.4 348.9 297.1 350.9 304 348.2C310.8 345.5 307.3 346.2 314.2 343.5C321 340.8 317.6 342.6 324.5 340.2C331.4 337.7 328 339 334.8 336.2C341.7 333.3 338.2 334.4 345.1 331.7C352 329 352 329.2 355.5 328" stroke="#c0847a" stroke-width="1.7" opacity="0.8"/><path d="M243.5 375.7C246.9 374.4 246.9 374.3 253.7 371.8C260.6 369.2 257.3 370.9 264 368C270.8 365.2 267.3 366.4 274 363.3C280.7 360.2 277.4 361.7 284.1 358.8C290.8 355.9 287.5 357.7 294.2 354.7C301 351.7 297.5 352.9 304.3 349.9C311 347 307.6 348.3 314.5 345.9C321.3 343.4 318 345.2 324.8 342.6C331.6 340 328.2 340.9 335 338.1C341.8 335.3 341.8 335.5 345.3 334.2" stroke="#c0847a" stroke-width="1.1" opacity="0.55"/><path d="M233.9 381.5C237.4 380.4 237.4 380.6 244.3 378.2C251.1 375.7 247.7 377.1 254.4 374.2C261.1 371.2 257.7 372.2 264.4 369.4C271.1 366.6 267.9 368.5 274.6 365.8C281.4 363 277.9 364.1 284.6 361.2C291.3 358.3 288 359.9 294.7 357C301.4 354.1 298 355.2 304.7 352.4C311.4 349.6 308.1 351.2 314.9 348.6C321.7 346 318.3 347.5 325 344.6C331.8 341.7 328.4 342.8 335.1 339.9C341.9 337 342 337.3 345.4 336" stroke="#c0847a" stroke-width="1.1" opacity="0.8"/><path d="M256 379.3C259.3 378 259.4 378.2 266 375.3C272.6 372.5 269.3 373.7 275.9 370.7C282.4 367.8 279.2 369.3 285.8 366.4C292.3 363.4 289 364.8 295.6 361.9C302.2 359 298.9 360.4 305.6 357.7C312.2 355 308.9 356.5 315.6 353.8C322.3 351 318.9 352.2 325.6 349.4C332.3 346.6 328.9 347.9 335.6 345.4C342.3 342.9 339 344.6 345.7 341.8C352.4 339.1 352.4 338.7 355.7 337.2" stroke="#c0847a" stroke-width="1.7" opacity="0.55"/><path d="M247 386.6C250.4 385.5 250.5 385.9 257.1 383.1C263.7 380.3 260.3 381.4 266.8 378.3C273.3 375.3 270.1 376.8 276.6 374C283.2 371.1 279.9 372.6 286.5 369.8C293.1 367 289.8 368.7 296.4 365.7C302.9 362.7 299.5 363.7 306.1 360.7C312.7 357.8 309.4 359.5 316 356.8C322.7 354.1 319.3 355.3 326 352.7C332.6 350.2 329.3 351.8 335.9 349.2C342.6 346.5 339.2 347.4 345.9 344.7C352.5 342.1 352.5 342.4 355.9 341.2" stroke="#c0847a" stroke-width="1.1" opacity="0.8"/><path d="M238.3 394.2C241.6 392.7 241.5 392.6 248 389.6C254.5 386.5 251.2 388.1 257.7 385.1C264.2 382.2 260.9 383.5 267.5 380.8C274.1 378.1 270.9 379.8 277.4 376.9C283.9 374 280.5 375 287 372.1C293.5 369.3 290.4 371.1 296.9 368.4C303.4 365.7 300.2 367.2 306.7 364.1C313.2 361.1 309.9 362.2 316.4 359.3C322.9 356.3 319.7 357.7 326.2 355.2C332.8 352.7 329.6 354.3 336.2 351.7C342.7 349.1 342.7 348.9 346 347.5" stroke="#c0847a" stroke-width="1.1" opacity="0.55"/><path d="M240 399C243.3 397.8 243.4 398.1 249.9 395.3C256.3 392.5 253 393.5 259.3 390.5C265.7 387.5 262.6 389.1 269 386.3C275.4 383.5 272.2 384.9 278.6 382C285.1 379.1 281.8 380.6 288.2 377.6C294.6 374.7 291.4 375.9 297.8 373.2C304.3 370.5 301.1 372.4 307.6 369.5C314 366.5 310.7 367.5 317.1 364.4C323.5 361.3 320.3 362.6 326.8 360.1C333.3 357.6 330.1 359.4 336.6 356.9C343.1 354.5 339.8 355.5 346.3 352.8C352.8 350.1 352.8 350.2 356.1 348.9" stroke="#c0847a" stroke-width="1.7" opacity="0.8"/><path d="M260.1 393.2C263.4 391.9 263.4 392.1 269.9 389.4C276.3 386.8 273.1 388.1 279.4 385.2C285.8 382.2 282.6 383.6 288.9 380.6C295.2 377.5 292 379.1 298.4 376C304.7 373 301.5 374.4 307.9 371.5C314.3 368.5 311.1 370.1 317.5 367.3C323.9 364.4 320.7 365.8 327.1 363C333.5 360.1 333.5 360.1 336.7 358.6" stroke="#c0847a" stroke-width="1.1" opacity="0.55"/><path d="M242.4 405.7C245.6 404.5 245.8 404.9 252.1 402.3C258.5 399.7 255.2 400.6 261.5 397.7C267.8 394.9 264.7 396.5 271 393.6C277.3 390.8 274.1 392.2 280.4 389.2C286.7 386.3 283.6 387.9 289.8 384.8C296.1 381.8 292.9 383.3 299.2 380.1C305.4 376.9 302.2 378 308.5 375.2C314.9 372.4 311.8 374.5 318.1 371.7C324.5 368.9 321.2 369.8 327.6 366.9C333.9 363.9 330.7 365.4 337.1 362.8C343.5 360.2 343.5 360.3 346.7 359" stroke="#c0847a" stroke-width="1.1" opacity="0.8"/><path d="M243.8 409.9C246.9 408.3 246.9 408.3 253.1 405.2C259.3 402.2 256.1 403.5 262.4 400.8C268.7 398 265.7 399.9 271.9 397C278.2 394.2 274.9 395.2 281.2 392.2C287.4 389.3 284.3 391.1 290.6 388.2C296.8 385.2 293.6 386.4 299.8 383.3C306 380.2 302.9 381.6 309.2 378.8C315.4 376 312.3 377.5 318.6 374.9C324.9 372.3 321.8 373.9 328 370.9C334.3 368 334.3 367.7 337.4 366" stroke="#c0847a" stroke-width="1.7" opacity="0.55"/><path d="M263.9 405.7C266.9 404 266.7 403.5 272.9 400.4C279 397.4 276 399.3 282.3 396.7C288.5 394.1 285.4 395.7 291.5 392.5C297.6 389.4 294.5 390.4 300.6 387.3C306.7 384.2 303.7 386 309.9 383.2C316.1 380.4 313 381.7 319.2 378.9C325.4 376.1 322.3 377.7 328.5 374.9C334.7 372.1 331.6 373.4 337.8 370.5C344 367.7 344 367.7 347.1 366.3" stroke="#c0847a" stroke-width="1.1" opacity="0.8"/><path d="M246.5 417.5C249.6 416 249.6 416.1 255.6 413.1C261.7 410.1 258.6 411.2 264.7 408.6C270.9 405.9 268 407.8 274.1 405.1C280.3 402.4 277.2 403.8 283.2 400.5C289.2 397.3 286.1 398.3 292.1 395.3C298.2 392.2 295.3 394.2 301.4 391.4C307.5 388.5 304.4 389.8 310.5 386.8C316.6 383.9 313.6 385.4 319.7 382.5C325.8 379.6 322.7 381 328.9 378.2C335 375.5 331.9 377 338.1 374.2C344.2 371.5 341.1 372.8 347.3 369.9C353.4 367.1 353.4 367.1 356.5 365.6" stroke="#c0847a" stroke-width="1.1" opacity="0.55"/><path d="M234.7 348.8C238.3 347.4 238.3 347.2 245.6 344.5C252.9 341.9 249.3 343.5 256.6 340.9C263.9 338.2 260.2 339.4 267.4 336.6C274.7 333.7 271 335.1 278.2 332.3C285.4 329.5 281.8 330.9 289.1 328.2C296.3 325.5 292.7 326.8 299.9 324.1C307.2 321.4 303.5 322.7 310.8 320.1C318.1 317.5 314.5 319.1 321.8 316.3C329.1 313.5 325.4 314.4 332.7 311.6C340.1 308.9 340.1 309.3 343.8 308.1" stroke="#f6d6ce" stroke-width="1.1" opacity="0.8"/><path d="M238.4 360.1C242 358.9 242.1 359.3 249.2 356.6C256.3 353.9 252.6 354.8 259.6 351.9C266.6 349 263.2 350.8 270.2 347.9C277.2 345 273.6 346 280.7 343.2C287.7 340.5 284.3 342.5 291.3 339.7C298.3 336.8 294.7 337.6 301.7 334.6C308.7 331.6 305.2 333.3 312.3 330.6C319.4 328 315.9 329.2 323 326.6C330.1 323.9 326.6 325.3 333.7 322.7C340.8 320.2 337.2 321.4 344.4 318.8C351.5 316.3 351.6 316.3 355.1 315.1" stroke="#f6d6ce" stroke-width="1.1" opacity="0.8"/><path d="M229.7 369.5C233.2 368.1 233.1 367.9 240.1 365.3C247.1 362.8 243.8 364.6 250.8 361.9C257.8 359.3 254.2 360.2 261.1 357.4C268.1 354.6 264.7 356.3 271.6 353.4C278.5 350.6 275 351.8 281.9 348.9C288.8 346 285.4 347.7 292.3 344.9C299.2 342 295.7 343.2 302.6 340.3C309.6 337.4 306.1 338.6 313.1 336.1C320.1 333.6 316.7 335.2 323.7 332.8C330.7 330.4 327.2 331.5 334.2 328.8C341.2 326 337.7 327 344.7 324.5C351.7 321.9 351.8 322.2 355.3 321" stroke="#f6d6ce" stroke-width="1.1" opacity="0.8"/><path d="M232.5 377.5C235.8 375.9 235.7 375.7 242.5 372.8C249.3 369.9 246 371.4 252.8 368.8C259.7 366.2 256.3 367.6 263.2 365C270.1 362.4 266.7 364 273.5 361C280.2 358 276.7 358.8 283.5 356.1C290.3 353.3 287 355.2 293.8 352.7C300.7 350.1 297.2 351.3 304 348.4C310.8 345.6 307.4 346.9 314.2 344.1C321.1 341.4 317.7 342.8 324.5 340.2C331.4 337.6 328 338.9 334.8 336.3C341.7 333.7 338.3 335.1 345.2 332.3C352 329.5 352 329.4 355.5 328" stroke="#f6d6ce" stroke-width="1.1" opacity="0.8"/><path d="M244.8 379.7C248.1 378.3 248.2 378.5 254.8 375.5C261.5 372.5 258.1 373.7 264.7 370.7C271.4 367.6 268.1 369.2 274.8 366.5C281.5 363.7 278.2 365.2 284.9 362.3C291.5 359.4 288.1 360.7 294.8 357.8C301.5 354.8 298.1 356.2 304.9 353.6C311.6 350.9 308.3 352.6 315.1 349.9C321.8 347.3 318.4 348.3 325.1 345.6C331.9 342.9 328.5 344.2 335.3 341.7C342.1 339.2 342.1 339.3 345.5 338.1" stroke="#f6d6ce" stroke-width="1.1" opacity="0.8"/><path d="M247.8 388.9C251.1 387.6 251.1 387.8 257.7 385C264.3 382.3 261 383.8 267.5 380.8C274 377.8 270.7 379.2 277.2 376.1C283.6 373 280.4 374.4 286.9 371.5C293.4 368.6 290.2 370.3 296.7 367.4C303.2 364.5 299.9 365.7 306.5 362.8C313 359.9 309.8 361.6 316.3 358.8C322.9 355.9 319.5 356.8 326.1 354.2C332.7 351.7 332.8 352.2 336.1 351.2" stroke="#f6d6ce" stroke-width="1.1" opacity="0.8"/><path d="M241.6 403.5C244.8 402.1 244.8 402.1 251.2 399.3C257.5 396.4 254.3 397.8 260.7 395C267 392.1 263.8 393.5 270.2 390.7C276.6 387.9 273.5 389.6 279.8 386.6C286.1 383.6 282.9 384.8 289.1 381.7C295.4 378.6 292.3 380 298.6 377.3C305 374.6 301.9 376.4 308.3 373.6C314.6 370.8 311.4 371.6 317.7 368.8C324.1 366 321 368 327.4 365.2C333.8 362.4 330.5 363.1 336.9 360.4C343.3 357.7 340.1 359.9 346.6 357.1C353 354.4 353 353.9 356.2 352.2" stroke="#f6d6ce" stroke-width="1.1" opacity="0.8"/><path d="M262.4 400.6C265.5 399.2 265.5 399.1 271.7 396.2C277.9 393.3 274.9 395.1 281.1 392C287.3 388.9 284 389.8 290.3 386.8C296.5 383.9 293.5 385.8 299.8 383.2C306.1 380.5 303 382.1 309.2 378.9C315.4 375.8 312.2 376.7 318.4 373.7C324.7 370.8 321.6 372.6 327.9 370C334.2 367.5 331.1 368.8 337.4 366.1C343.7 363.4 343.7 363.3 346.8 361.9" stroke="#f6d6ce" stroke-width="1.1" opacity="0.8"/><path d="M247.1 419.1C250.1 417.6 250.1 417.4 256.2 414.6C262.3 411.9 259.4 413.8 265.4 410.8C271.4 407.8 268.3 408.8 274.3 405.6C280.3 402.4 277.3 404 283.4 401.3C289.5 398.5 286.5 400.2 292.6 397.4C298.7 394.6 295.6 395.8 301.7 392.8C307.7 389.8 304.7 391.2 310.8 388.4C316.9 385.5 313.8 387 319.9 384.3C326 381.6 323 383.2 329.1 380.2C335.2 377.2 332.1 378.3 338.2 375.3C344.2 372.3 344.3 372.6 347.3 371.2" stroke="#f6d6ce" stroke-width="1.1" opacity="0.8"/></g><path d="M223 350.5C235.3 346.3 234.3 347.5 260 338C285.7 328.5 269.8 333.1 300 322C330.2 310.9 328.6 312 350.6 304.7C372.6 297.4 360.9 301.6 366 300L366 364C359.9 366.5 373 359.9 347.7 371.6C322.4 383.3 323.4 382.9 290 399C256.6 415.1 261.6 413 247.4 420Z" fill="none" stroke="#1b1b1d" stroke-width="1.5" stroke-linejoin="round" /><clipPath id="cLC"><path d="M356 372C353.2 372.8 359.7 368.4 347.7 374.4C335.7 380.4 337.6 377.5 320 390C302.4 402.5 311.7 393.3 295 412C278.3 430.7 284.3 426.7 270 446C255.7 465.3 262.4 455.7 252 470C241.6 484.3 244.8 479 238.8 489C232.8 499 235.6 496.3 234 500L304 506C305.2 503.2 301.6 509.9 307.6 497.6C313.6 485.3 307.7 491.9 322 469C336.3 446.1 336.3 453.8 350.6 429C364.9 404.2 358.9 408.2 365 394.5C371.1 380.8 367.7 390.2 369 388Z"/></clipPath><path d="M356 372C353.2 372.8 359.7 368.4 347.7 374.4C335.7 380.4 337.6 377.5 320 390C302.4 402.5 311.7 393.3 295 412C278.3 430.7 284.3 426.7 270 446C255.7 465.3 262.4 455.7 252 470C241.6 484.3 244.8 479 238.8 489C232.8 499 235.6 496.3 234 500L304 506C305.2 503.2 301.6 509.9 307.6 497.6C313.6 485.3 307.7 491.9 322 469C336.3 446.1 336.3 453.8 350.6 429C364.9 404.2 358.9 408.2 365 394.5C371.1 380.8 367.7 390.2 369 388Z" fill="url(#gPink)" mask="url(#fadeLC)"/><g clip-path="url(#cLC)" fill="none" stroke-linecap="round" mask="url(#fadeLC)"><path d="M356.3 372.4C352.1 374 351.8 373.4 343.5 377.2C335.3 381.1 339.3 379.1 331.6 384C323.8 388.8 327.7 386.3 320.3 391.7C313 397.1 316.4 394.2 309.5 400.3C302.6 406.3 306 403.2 299.5 409.8C293.1 416.4 295.9 412.9 290.2 420.2C284.4 427.4 287.7 424 282.3 431.5C277 439 279.6 435.3 274.1 442.8C268.6 450.2 271.4 446.5 265.8 453.9C260.2 461.3 262.9 457.5 257.4 464.9C251.9 472.4 254.4 468.6 249.4 476.2C244.4 483.8 244.7 483.9 242.3 487.7" stroke="#c0847a" stroke-width="1.7" opacity="0.8"/><path d="M345.2 378.8C341.4 381.1 341.2 380.8 333.8 385.7C326.4 390.6 330 388 323 393.6C316.1 399.1 319.4 396.2 312.8 402.3C306.3 408.4 309.4 405.2 303.3 411.8C297.3 418.5 300.5 415.2 294.7 422.2C288.9 429.3 291.4 425.6 286 432.9C280.7 440.3 283.8 436.8 278.7 444.2C273.6 451.6 276.1 447.9 270.7 455.2C265.3 462.4 268 458.7 262.5 466C257 473.3 257 473.3 254.3 477" stroke="#c0847a" stroke-width="1.1" opacity="0.55"/><path d="M358 374.4C354 376.2 353.8 375.7 346.1 379.7C338.5 383.8 342.1 381.7 335 386.7C327.9 391.7 331.6 389.2 324.7 394.7C317.9 400.3 321 397.2 314.5 403.3C308.1 409.3 311.3 406.3 305.4 412.9C299.4 419.5 302.4 416.2 296.8 423.2C291.2 430.2 293.9 426.7 288.6 433.9C283.3 441.2 286 437.6 280.8 444.9C275.6 452.2 278.3 448.5 273 455.7C267.7 463 267.6 462.9 264.9 466.5" stroke="#c0847a" stroke-width="1.1" opacity="0.8"/><path d="M358.4 374.9C354.5 376.8 354.2 376.1 346.8 380.4C339.5 384.7 343.4 382.8 336.4 387.8C329.4 392.8 332.6 390 326 395.5C319.3 401.1 322.7 398.3 316.4 404.4C310.1 410.5 313 407.3 307.1 413.8C301.2 420.4 303.8 417 298.6 424C293.3 431.1 296.5 427.8 291.3 435C286.1 442.2 288.3 438.5 282.9 445.6C277.6 452.7 280.5 449.2 275.3 456.3C270 463.5 272.3 459.8 267.3 467C262.2 474.2 262.5 474.3 260.1 478" stroke="#c0847a" stroke-width="1.7" opacity="0.55"/><path d="M359.2 375.9C355.5 377.9 355.2 377.3 348.2 381.8C341.3 386.2 345 384.2 338.3 389.3C331.5 394.3 334.6 391.5 328.1 397C321.5 402.5 324.7 399.7 318.6 405.7C312.5 411.8 315.3 408.6 309.8 415.3C304.2 421.9 307.2 418.6 301.9 425.6C296.7 432.5 299.4 429.1 294.1 436.1C288.9 443.1 291.4 439.6 286.2 446.6C281 453.7 283.7 450.1 278.6 457.2C273.4 464.3 275.7 460.6 270.8 467.8C265.9 474.9 266.1 475 263.7 478.6" stroke="#c0847a" stroke-width="1.1" opacity="0.8"/><path d="M349.3 382.8C346.1 385.3 345.9 385 339.5 390.3C333.2 395.5 336.6 392.9 330.3 398.5C324 404.1 326.7 401 320.6 406.9C314.5 412.9 317.4 409.9 312.1 416.5C306.7 423.1 309.6 419.9 304.5 426.7C299.3 433.6 301.9 430.2 296.7 437.1C291.5 444 293.9 440.5 288.9 447.5C283.9 454.5 286.7 451 281.8 458C276.8 465 276.6 465 274 468.5" stroke="#c0847a" stroke-width="1.1" opacity="0.55"/><path d="M360.9 378C357.5 380.1 357.1 379.6 350.8 384.3C344.4 389 347.6 386.6 341.8 392.1C336.1 397.6 339.2 394.9 333.4 400.7C327.7 406.4 330.4 403.3 324.5 409.3C318.7 415.2 321.4 412.1 315.9 418.5C310.4 424.9 313.1 421.7 308 428.4C303 435.1 305.4 431.7 300.7 438.6C295.9 445.5 298.7 442.2 293.9 449.1C289 455.9 291.1 452.3 286.1 459.1C281 466 283.6 462.5 278.8 469.5C274 476.4 275.9 472.9 271.7 480C267.5 487.1 268 487.2 266.1 490.9" stroke="#c0847a" stroke-width="1.7" opacity="0.8"/><path d="M361.3 378.5C358.1 380.7 357.7 380.2 351.6 385.1C345.6 389.9 348.9 387.7 343.1 393.1C337.4 398.6 340.1 395.6 334.4 401.3C328.7 407 331.4 404.1 326.1 410.2C320.7 416.3 323.5 413.3 318.2 419.7C313 426.1 315.2 422.7 310.2 429.4C305.3 436 308.4 433 303.5 439.7C298.6 446.4 300.5 442.9 295.4 449.6C290.4 456.3 293.1 452.9 288.5 459.8C283.9 466.6 286.3 463.2 281.6 470.1C277 477 278.9 473.4 274.6 480.5C270.3 487.5 270.7 487.6 268.8 491.2" stroke="#c0847a" stroke-width="1.1" opacity="0.55"/><path d="M362 379.4C359 381.7 358.7 381.3 352.9 386.3C347.1 391.2 349.9 388.7 344.6 394.3C339.3 399.9 342.1 397.2 337 403.1C331.8 409 334.4 406 329.1 412.1C323.8 418.1 326.4 415 321 421.2C315.6 427.4 318 424.2 313 430.6C308 437.1 310.6 434 305.9 440.6C301.1 447.3 303.5 443.9 298.7 450.6C293.9 457.2 296.2 453.8 291.4 460.5C286.7 467.2 288.8 463.8 284.5 470.7C280.3 477.6 283 474.2 278.7 481.2C274.4 488.1 274 488.1 271.7 491.6" stroke="#c0847a" stroke-width="1.1" opacity="0.8"/><path d="M346.1 395.5C343.4 398.3 343.2 398 338.1 403.9C333 409.7 335.9 407 330.8 413.1C325.8 419.2 328 416 323 422.2C317.9 428.5 320.5 425.4 315.6 431.8C310.7 438.3 313.2 435.1 308.3 441.6C303.5 448.1 305.9 444.8 301 451.3C296.1 457.8 298.3 454.5 293.5 461.1C288.8 467.7 291 464.3 286.8 471.2C282.7 478 283 478.1 281.1 481.6" stroke="#c0847a" stroke-width="1.7" opacity="0.55"/><path d="M348.5 397.4C346.2 400.3 346.3 400.3 341.6 406.2C336.9 412.2 339.2 409.2 334.5 415.3C329.7 421.4 332.2 418.4 327.3 424.5C322.5 430.7 324.7 427.5 319.9 433.8C315.1 440 317.5 437 312.9 443.3C308.3 449.7 310.7 446.6 306 452.9C301.2 459.3 303.1 455.9 298.7 462.4C294.3 468.9 296.8 465.7 292.8 472.4C288.8 479.2 291 475.8 286.8 482.6C282.6 489.3 282.3 489.3 280.1 492.7" stroke="#c0847a" stroke-width="1.1" opacity="0.8"/><path d="M349.9 398.5C347.9 401.6 348.2 401.7 343.8 407.8C339.4 413.8 341.1 410.5 336.6 416.6C332.1 422.7 334.8 419.9 330.2 426.1C325.7 432.3 327.8 429.1 322.9 435.2C318 441.3 320.2 438.1 315.5 444.3C310.7 450.5 313 447.4 308.7 453.8C304.3 460.1 306.6 456.9 302.3 463.4C298.1 469.8 300 466.5 295.9 473.1C291.9 479.7 292.2 479.8 290.3 483.2" stroke="#c0847a" stroke-width="1.1" opacity="0.55"/><path d="M365.3 383.4C362.7 385.9 362.1 385.3 357.6 390.9C353.2 396.4 355.9 394.1 351.8 400C347.7 406 349.4 402.7 345.3 408.8C341.2 414.9 343.6 412.1 339.4 418.3C335.2 424.5 337.2 421.3 332.7 427.4C328.1 433.5 330.5 430.5 325.8 436.5C321.2 442.6 323.2 439.5 318.7 445.6C314.2 451.7 316.8 448.7 312.2 454.9C307.6 461.1 309.3 457.8 305 464.1C300.6 470.4 303.1 467.3 299.2 473.8C295.3 480.3 296.8 477 293.2 483.7C289.6 490.3 290 490.4 288.5 493.8" stroke="#c0847a" stroke-width="1.7" opacity="0.8"/><path d="M358.7 391.9C356.7 394.9 356.6 394.7 352.9 400.8C349.1 407 351.3 404 347.4 410.2C343.6 416.4 345.4 413.3 341.3 419.4C337.2 425.6 339.5 422.6 335.1 428.7C330.7 434.7 332.8 431.6 328.1 437.6C323.4 443.5 325.5 440.4 321 446.5C316.4 452.5 318.7 449.5 314.4 455.6C310.2 461.8 312.4 458.7 308.3 464.9C304.1 471.2 306.1 468 302 474.4C298 480.8 298 480.9 296 484.1" stroke="#c0847a" stroke-width="1.1" opacity="0.55"/><path d="M360 393.2C358.2 396.2 358.2 396.1 354.7 402.3C351.3 408.5 353.3 405.6 349.7 411.8C346 417.9 347.8 414.8 343.7 420.8C339.6 426.9 341.6 423.9 337.4 429.9C333.1 435.9 335.2 432.9 331 438.9C326.7 444.9 329.2 442 324.7 447.9C320.2 453.8 321.9 450.6 317.3 456.5C312.8 462.4 314.9 459.4 310.9 465.6C307 471.8 309 468.7 305.6 475.2C302.1 481.6 304 478.4 300.6 484.9C297.1 491.4 297 491.5 295.2 494.7" stroke="#c0847a" stroke-width="1.1" opacity="0.8"/><path d="M355.7 403.1C354.2 406.3 354.6 406.6 351.2 412.8C347.7 419 349.3 415.8 345.4 421.8C341.4 427.9 343.4 424.9 339.3 430.9C335.3 436.9 337.6 434.1 333.3 439.9C328.9 445.8 330.7 442.7 326.3 448.5C322 454.4 324.5 451.5 320.1 457.4C315.8 463.3 317.2 460.1 313.2 466.2C309.3 472.3 311.8 469.4 308.2 475.7C304.6 482.1 304.3 482.1 302.4 485.2" stroke="#c0847a" stroke-width="1.7" opacity="0.55"/><path d="M361.7 394.8C360.3 398 360.4 398.1 357.4 404.4C354.4 410.8 356.1 407.7 352.7 413.8C349.3 420 350.9 416.8 347.1 422.9C343.4 429 345.4 426.1 341.5 432C337.5 438 339.5 435 335.3 440.9C331 446.7 333 443.7 328.7 449.5C324.5 455.2 326.7 452.3 322.5 458.2C318.2 464 320.2 461 316 467C311.9 472.9 313.7 469.9 310.1 476.1C306.5 482.4 308.2 479.2 305.2 485.7C302.3 492.2 302.5 492.3 301.2 495.5" stroke="#c0847a" stroke-width="1.1" opacity="0.8"/><path d="M363.1 396.1C361.7 399.4 361.8 399.4 359.1 405.8C356.4 412.2 358 409.1 355 415.4C352 421.7 353.4 418.5 350.1 424.7C346.8 430.9 348.9 428 345 433.9C341.1 439.8 342.6 436.6 338.4 442.3C334.2 448 336.7 445.3 332.4 450.9C328.1 456.5 329.7 453.5 325.5 459.2C321.4 464.9 323.6 462 320 468C316.3 473.9 316.4 474 314.6 477.1" stroke="#c0847a" stroke-width="1.1" opacity="0.55"/><path d="M343.8 377.5C339.9 379.8 339.9 379.7 332.1 384.4C324.2 389.1 327.7 386.3 320.3 391.7C312.8 397 316.5 394.2 309.7 400.4C303 406.5 306.3 403.4 300 410.1C293.8 416.8 296.6 413.3 291 420.6C285.4 427.8 288.6 424.4 283.2 431.8C277.8 439.3 280.3 435.5 274.7 443C269.2 450.4 272.1 446.7 266.6 454.1C261.1 461.5 263.8 457.7 258.2 465.1C252.7 472.5 252.7 472.6 250 476.3" stroke="#f6d6ce" stroke-width="1.1" opacity="0.8"/><path d="M345.6 379.2C341.9 381.6 341.8 381.3 334.5 386.3C327.3 391.3 330.8 388.6 323.8 394.1C316.8 399.5 320.2 396.7 313.5 402.7C306.8 408.6 309.8 405.4 303.6 412C297.5 418.6 300.4 415.2 295 422.4C289.6 429.6 292.8 426.2 287.5 433.5C282.2 440.8 284.4 437.1 279.2 444.4C273.9 451.7 277 448.1 271.7 455.4C266.3 462.7 268.5 458.9 263.1 466.1C257.7 473.4 260.5 469.8 255.5 477.2C250.5 484.7 250.6 484.7 248.1 488.5" stroke="#f6d6ce" stroke-width="1.1" opacity="0.8"/><path d="M349.4 382.9C346.2 385.4 346 385.1 339.8 390.4C333.5 395.8 336.8 393.1 330.7 398.8C324.7 404.5 327.5 401.5 321.6 407.5C315.7 413.6 318.8 410.6 313.1 417C307.3 423.4 309.9 420 304.5 426.7C299 433.4 301.8 430.1 296.8 437.1C291.9 444.1 294.6 440.7 289.7 447.7C284.7 454.7 287 451.1 282 458.1C276.9 465 279.2 461.5 274.5 468.6C269.8 475.6 270.1 475.7 267.9 479.3" stroke="#f6d6ce" stroke-width="1.1" opacity="0.8"/><path d="M361.4 378.6C358.2 380.8 357.7 380.3 351.7 385.1C345.6 390 348.9 387.8 343.3 393.2C337.6 398.7 340.1 395.7 334.7 401.5C329.2 407.3 332.4 404.7 326.8 410.7C321.3 416.7 323.4 413.3 318 419.6C312.6 425.9 315.7 422.9 310.6 429.6C305.6 436.2 307.7 432.7 302.9 439.5C298.1 446.2 301.1 443 296.3 449.8C291.5 456.6 293.5 453.1 288.5 459.8C283.5 466.5 285.8 463.1 281.3 470C276.8 476.9 279.1 473.5 274.9 480.5C270.8 487.6 270.9 487.7 268.8 491.2" stroke="#f6d6ce" stroke-width="1.1" opacity="0.8"/><path d="M362 379.4C358.8 381.6 358.3 381 352.5 386C346.8 390.9 349.9 388.7 344.6 394.3C339.3 399.9 342 397.1 336.6 402.8C331.2 408.6 333.8 405.6 328.3 411.6C322.9 417.6 325.5 414.5 320.2 420.8C314.9 427 317.2 423.8 312.4 430.4C307.6 437 310.3 433.8 305.7 440.6C301.1 447.3 303.3 443.9 298.5 450.5C293.7 457.2 296 453.8 291.3 460.5C286.5 467.2 286.6 467.3 284.3 470.6" stroke="#f6d6ce" stroke-width="1.1" opacity="0.8"/><path d="M363.9 381.7C361.2 384.1 360.7 383.7 355.6 389C350.6 394.2 353.3 391.7 348.6 397.5C343.9 403.2 346.2 400.2 341.6 406.3C337 412.3 339.5 409.4 334.9 415.5C330.3 421.7 332.7 418.7 327.8 424.8C322.8 430.9 324.7 427.6 320 433.9C315.3 440.1 318.1 437.2 313.5 443.6C309 450 311.2 446.7 306.5 453.1C301.7 459.4 303.8 456.1 299.2 462.6C294.6 469 296.7 465.7 292.6 472.4C288.5 479.1 288.8 479.2 287 482.6" stroke="#f6d6ce" stroke-width="1.1" opacity="0.8"/><path d="M358.5 391.8C356.6 394.7 356.6 394.6 352.6 400.6C348.6 406.6 350.7 403.6 346.6 409.7C342.5 415.7 344.6 412.7 340.2 418.7C335.8 424.8 337.8 421.7 333.5 427.8C329.1 433.9 331.7 431.1 327.2 437.2C322.7 443.2 324.5 440 320 446.1C315.4 452.1 318 449.2 313.6 455.3C309.2 461.5 311 458.3 306.7 464.5C302.3 470.8 302.5 470.9 300.5 474.1" stroke="#f6d6ce" stroke-width="1.1" opacity="0.8"/><path d="M367.3 385.9C365.2 388.6 364.7 388.3 361 394.1C357.3 400 359.3 397.2 356.2 403.5C353 409.8 355 406.8 351.5 413C348.1 419.3 349.6 416 345.8 422.1C342.1 428.2 344.4 425.4 340.2 431.4C336.1 437.3 337.7 434.1 333.3 440C328.9 445.8 331.4 443 327.2 448.9C322.9 454.7 325.1 451.8 320.7 457.6C316.2 463.4 317.9 460.3 313.8 466.4C309.7 472.4 311.7 469.4 308.4 475.8C305 482.1 307 479 303.7 485.5C300.5 491.9 300.3 491.9 298.6 495.2" stroke="#f6d6ce" stroke-width="1.1" opacity="0.8"/><path d="M368.5 387.4C366.7 390.3 366.3 390.1 363.2 396.2C360 402.4 361.8 399.3 359 405.7C356.3 412.1 358 409.1 355 415.4C352 421.7 353.3 418.5 350 424.6C346.6 430.8 348.8 428 345 433.9C341.2 439.8 342.8 436.7 338.6 442.4C334.3 448 336.4 445.2 332.3 450.8C328.1 456.5 330.3 453.6 326 459.3C321.7 465 323.3 461.9 319.4 467.8C315.6 473.7 317.8 470.8 314.5 477C311.2 483.3 312.7 480.1 309.5 486.4C306.3 492.8 306.4 492.8 304.8 496" stroke="#f6d6ce" stroke-width="1.1" opacity="0.8"/></g><path d="M356 372C353.2 372.8 359.7 368.4 347.7 374.4C335.7 380.4 337.6 377.5 320 390C302.4 402.5 311.7 393.3 295 412C278.3 430.7 284.3 426.7 270 446C255.7 465.3 262.4 455.7 252 470C241.6 484.3 244.8 479 238.8 489C232.8 499 235.6 496.3 234 500L304 506C305.2 503.2 301.6 509.9 307.6 497.6C313.6 485.3 307.7 491.9 322 469C336.3 446.1 336.3 453.8 350.6 429C364.9 404.2 358.9 408.2 365 394.5C371.1 380.8 367.7 390.2 369 388Z" fill="none" stroke="#1b1b1d" stroke-width="1.5" stroke-linejoin="round" mask="url(#fadeLC)"/><clipPath id="cPC"><path d="M366 384C366.6 387.5 365.3 377.6 367.8 394.5C370.3 411.4 368.8 413.6 373.5 434.6C378.2 455.6 377.2 443 382 457.5C386.8 472 385.1 464.5 388 478C390.9 491.5 389 485.3 390.6 498C392.2 510.7 391.2 503.3 392.7 516C394.2 528.7 394.2 529.3 395 536L396 536C397.2 532.7 396.5 535 399.5 526C402.5 517 401.7 521.3 405 509C408.3 496.7 407.5 506.2 409.5 489C411.5 471.8 411 480.5 411 457.5C411 434.5 412.2 443.2 409.5 420C406.8 396.8 408.8 403.3 403 388C397.2 372.7 399.7 379.3 392 374C384.3 368.7 387.3 370 380 372C372.7 374 373.3 377.3 370 380Z"/></clipPath><path d="M366 384C366.6 387.5 365.3 377.6 367.8 394.5C370.3 411.4 368.8 413.6 373.5 434.6C378.2 455.6 377.2 443 382 457.5C386.8 472 385.1 464.5 388 478C390.9 491.5 389 485.3 390.6 498C392.2 510.7 391.2 503.3 392.7 516C394.2 528.7 394.2 529.3 395 536L396 536C397.2 532.7 396.5 535 399.5 526C402.5 517 401.7 521.3 405 509C408.3 496.7 407.5 506.2 409.5 489C411.5 471.8 411 480.5 411 457.5C411 434.5 412.2 443.2 409.5 420C406.8 396.8 408.8 403.3 403 388C397.2 372.7 399.7 379.3 392 374C384.3 368.7 387.3 370 380 372C372.7 374 373.3 377.3 370 380Z" fill="url(#gPink)" /><g clip-path="url(#cPC)" fill="none" stroke-linecap="round" ><path d="M368.7 394.5C369.4 398.3 369.5 398.3 370.8 406.1C372.1 413.9 371.6 409.8 372.7 417.9C373.9 425.9 372.6 422.3 374.2 430.2C375.8 438.2 374.8 434.2 377.5 441.7C380.2 449.2 379.5 445.2 382.2 452.7C385 460.3 383.6 456.6 385.8 464.3C388.1 472.1 387.4 468 389 476C390.5 483.9 389.5 480 390.4 488.1C391.4 496.1 390.9 492 391.7 500C392.5 508 392.5 508 392.8 512" stroke="#c0847a" stroke-width="1.7" opacity="0.8"/><path d="M369.7 392.8C370.7 396.5 370.8 396.3 372.7 403.9C374.5 411.4 373.8 407.5 375.3 415.5C376.8 423.4 375.7 419.6 377.3 427.7C378.9 435.9 377.6 432.1 380 439.9C382.4 447.7 382 443.4 384.5 451.2C387.1 458.9 385.6 455.2 387.7 463.1C389.7 471.1 389.2 466.9 390.7 475C392.1 483 391.3 479.1 392.1 487.2C392.9 495.4 392.4 491.4 393 499.5C393.7 507.6 393.5 503.5 394 511.6C394.5 519.7 394.3 519.8 394.5 523.8" stroke="#c0847a" stroke-width="1.1" opacity="0.55"/><path d="M374.3 401.9C375.4 405.7 375.7 405.5 377.4 413.5C379.1 421.6 377.7 417.8 379.4 426C381 434.3 380.1 430.1 382.4 438.1C384.7 446.1 383.7 442.2 386.2 450C388.6 457.9 387.7 453.8 389.7 461.8C391.7 469.8 390.9 465.9 392.2 474.1C393.5 482.3 393 478.2 393.7 486.4C394.4 494.7 394.2 494.8 394.4 498.9" stroke="#c0847a" stroke-width="1.1" opacity="0.8"/><path d="M367.1 382.9C368.7 385 368.6 383.8 371.8 389.2C375 394.6 373.9 391.9 376.7 399.1C379.4 406.4 378.3 402.8 380.1 411C381.9 419.2 380.4 415.5 382.1 423.8C383.9 432.2 383.1 427.9 385.4 436C387.6 444.1 386.7 440 388.9 448.2C391 456.4 390 452.3 391.8 460.5C393.6 468.7 393.1 464.5 394.3 472.9C395.5 481.2 394.9 477.1 395.4 485.6C395.9 494.1 395.7 489.9 395.9 498.4C396 506.8 396 502.6 395.9 511C395.9 519.3 395.8 519.3 395.7 523.5" stroke="#c0847a" stroke-width="1.7" opacity="0.55"/><path d="M378.6 396.7C379.9 400.8 380.5 400.4 382.5 408.8C384.4 417.2 382.8 413.4 384.5 421.9C386.3 430.4 385.6 426 387.7 434.2C389.9 442.5 389 438.4 391 446.8C393 455.1 392.2 450.8 393.8 459.3C395.3 467.7 394.7 463.5 395.6 472.1C396.6 480.7 396.2 476.4 396.7 485C397.2 493.6 397 489.3 397.1 497.9C397.2 506.4 397.3 502.1 396.9 510.6C396.6 519.1 396.4 519.1 396.1 523.3" stroke="#c0847a" stroke-width="1.1" opacity="0.8"/><path d="M381.7 393.1C383.2 397.1 383.8 396.9 386.3 405.2C388.7 413.6 387.2 409.6 389 418.2C390.9 426.9 390 422.5 391.9 431.2C393.7 439.9 392.8 435.7 394.6 444.3C396.3 452.9 395.7 448.5 397.1 457.1C398.5 465.8 398 461.5 398.8 470.3C399.6 479.1 399.4 474.7 399.6 483.6C399.7 492.5 399.4 492.5 399.3 497" stroke="#c0847a" stroke-width="1.1" opacity="0.55"/><path d="M368.3 381.7C370.9 381.8 370.7 379.1 376 381.9C381.3 384.7 379.6 383.4 384.2 390.2C388.7 396.9 386.9 393.6 389.6 402.1C392.3 410.6 390.6 406.6 392.3 415.6C394 424.6 393.1 420.2 394.8 429.1C396.5 438 396 433.4 397.5 442.3C399.1 451.2 398.3 446.7 399.4 455.7C400.5 464.6 400.1 460.1 400.8 469.2C401.4 478.2 401.2 473.7 401.3 482.7C401.4 491.7 401.7 487.3 401.2 496.2C400.7 505.2 401 500.7 399.8 509.6C398.7 518.5 398.4 518.4 397.7 522.9" stroke="#c0847a" stroke-width="1.7" opacity="0.8"/><path d="M385 389.2C386.8 393.3 387.5 393 390.3 401.5C393.1 410 391.4 405.9 393.4 414.7C395.3 423.6 394.4 419.2 396.1 428.1C397.8 437.1 397.1 432.6 398.5 441.6C399.9 450.6 399.3 446 400.3 455.1C401.3 464.1 400.8 459.7 401.5 468.7C402.1 477.8 402.2 473.2 402.2 482.3C402.2 491.4 402.3 487 401.6 496.1C400.9 505.1 400.6 505 400.1 509.5" stroke="#c0847a" stroke-width="1.1" opacity="0.55"/><path d="M368.9 381.1C372 380.1 371.7 376.8 378.2 378.1C384.8 379.4 383.2 378.5 388.6 385C394 391.5 391.4 388.9 394.4 397.6C397.5 406.4 395.9 402 397.7 411.2C399.6 420.4 398.5 416 400.1 425.2C401.7 434.4 401.4 429.6 402.6 438.8C403.8 448.1 403 443.6 403.7 452.9C404.4 462.3 404.2 457.6 404.6 466.9C405 476.2 405.1 471.5 404.9 480.9C404.8 490.3 405.1 485.7 404.1 495C403.1 504.3 402.7 504.2 401.9 508.8" stroke="#c0847a" stroke-width="1.1" opacity="0.8"/><path d="M379 376.7C382.7 378.9 384.1 377 389.9 383.3C395.8 389.6 393.3 386.8 396.6 395.6C399.8 404.4 397.8 400.3 399.7 409.7C401.6 419 400.6 414.4 402.2 423.6C403.8 432.9 403.4 428.2 404.5 437.5C405.6 446.9 405 442.2 405.6 451.7C406.1 461.2 406 456.5 406.1 466.1C406.3 475.6 406.4 470.8 406 480.4C405.7 489.9 406.3 485.2 405.1 494.6C403.9 504.1 403.4 504 402.5 508.6" stroke="#c0847a" stroke-width="1.7" opacity="0.55"/><path d="M380 375C384 376.9 385.7 374.7 392 380.8C398.4 386.9 395.7 384.4 399.1 393.2C402.6 402.1 400.6 397.9 402.5 407.4C404.4 416.9 403.5 412.2 404.8 421.7C406.2 431.3 405.7 426.5 406.6 436.1C407.4 445.7 406.8 441 407.3 450.7C407.7 460.3 407.8 455.4 407.8 465.1C407.9 474.7 408 470 407.5 479.7C407 489.3 406.8 489.3 406.4 494.1" stroke="#c0847a" stroke-width="1.1" opacity="0.8"/><path d="M381.8 372C386.1 373.8 387.9 371.4 394.9 377.4C401.9 383.4 399 380.8 402.7 389.9C406.4 399 404 394.9 406 404.6C407.9 414.3 407.3 409.3 408.5 419C409.8 428.8 409.1 424.1 409.7 434C410.3 443.8 410.2 438.8 410.4 448.7C410.6 458.6 410.5 453.7 410.4 463.6C410.3 473.5 410.6 468.5 410 478.4C409.4 488.3 410.2 483.5 408.5 493.2C406.9 503 407.7 498.1 405.1 507.7C402.5 517.3 402.2 517.2 400.7 521.9" stroke="#c0847a" stroke-width="1.1" opacity="0.55"/><path d="M368.2 395.4C368.8 399.3 368.8 399.3 369.9 407.2C370.9 415.1 370.3 411.1 371.5 419.1C372.6 427 371.7 423.1 373.3 431C374.8 438.9 373.5 435.2 376.1 442.7C378.7 450.3 378.2 446.1 381.1 453.5C384 460.9 382.5 457.3 384.7 465C387 472.7 386.3 468.7 388 476.5C389.6 484.3 388.6 480.5 389.7 488.4C390.7 496.4 390.1 492.4 391 500.3C392 508.2 392 508.2 392.5 512.2" stroke="#f6d6ce" stroke-width="1.1" opacity="0.8"/><path d="M366.7 383.3C367.9 386.1 368 385.2 370.4 391.5C372.9 397.9 372 394.6 374 402.2C376.1 409.8 375 406.2 376.5 414.3C378 422.5 376.8 418.6 378.6 426.7C380.3 434.8 379.3 430.8 381.7 438.6C384.1 446.5 383.3 442.5 385.8 450.3C388.3 458.2 387.2 454.2 389.2 462.2C391.2 470.2 390.4 466.2 391.8 474.3C393.2 482.5 392.6 478.4 393.3 486.6C394.1 494.9 393.6 490.8 394 499.1C394.5 507.4 394.2 503.2 394.5 511.4C394.8 519.6 394.8 519.6 394.9 523.7" stroke="#f6d6ce" stroke-width="1.1" opacity="0.8"/><path d="M374.4 384.7C376.8 387.6 377.7 386.3 381.6 393.2C385.6 400.1 383.9 396.8 386.2 405.3C388.4 413.8 386.8 409.9 388.5 418.7C390.1 427.5 389.3 423.1 391.2 431.7C393 440.4 392.4 436 394.2 444.6C395.9 453.2 395.2 448.8 396.5 457.5C397.9 466.2 397.3 461.9 398.3 470.6C399.2 479.3 399 474.9 399.3 483.7C399.7 492.5 399.7 488.1 399.3 497C399 505.8 399.1 501.4 398.3 510.1C397.5 518.8 397.4 518.8 396.9 523.1" stroke="#f6d6ce" stroke-width="1.1" opacity="0.8"/><path d="M377 380.3C380.1 382.7 381.4 381 386.4 387.5C391.5 394 389.2 391.2 392.1 399.8C395 408.4 393.2 404.3 395 413.4C396.9 422.5 395.9 418 397.6 427C399.2 436.1 398.7 431.5 400 440.6C401.4 449.7 400.6 445.2 401.6 454.3C402.5 463.4 402.4 458.7 402.9 467.9C403.3 477.1 403 472.7 402.9 481.9C402.8 491.2 402.6 491.1 402.5 495.7" stroke="#f6d6ce" stroke-width="1.1" opacity="0.8"/><path d="M378.5 377.6C382.1 379.8 383.5 377.9 389.2 384.2C394.9 390.5 392.4 387.8 395.6 396.5C398.8 405.3 396.8 401.1 398.8 410.4C400.7 419.7 399.8 415 401.3 424.3C402.9 433.6 402.3 428.9 403.4 438.2C404.5 447.6 404 442.9 404.6 452.3C405.3 461.8 405.1 457 405.4 466.5C405.6 476 405.6 471.3 405.4 480.7C405.1 490.1 405.7 485.5 404.7 494.8C403.7 504.1 403.1 504.1 402.3 508.7" stroke="#f6d6ce" stroke-width="1.1" opacity="0.8"/><path d="M369.9 380.1C373.8 377.4 373.3 373.1 381.7 372.2C390 371.3 387.9 371.5 395 377.3C402 383.2 399 380.8 402.8 389.8C406.5 398.8 404.2 394.7 406.2 404.4C408.3 414 407.6 409 408.9 418.8C410.2 428.6 409.7 423.7 410.2 433.6C410.7 443.6 410.3 438.7 410.4 448.7C410.4 458.7 410.5 453.7 410.4 463.6C410.3 473.5 410.5 468.6 409.9 478.5C409.4 488.3 410.3 483.4 408.6 493.2C407 503 407.7 498.1 405.1 507.7C402.5 517.3 402.2 517.2 400.8 521.9" stroke="#f6d6ce" stroke-width="1.1" opacity="0.8"/></g><path d="M366 384C366.6 387.5 365.3 377.6 367.8 394.5C370.3 411.4 368.8 413.6 373.5 434.6C378.2 455.6 377.2 443 382 457.5C386.8 472 385.1 464.5 388 478C390.9 491.5 389 485.3 390.6 498C392.2 510.7 391.2 503.3 392.7 516C394.2 528.7 394.2 529.3 395 536L396 536C397.2 532.7 396.5 535 399.5 526C402.5 517 401.7 521.3 405 509C408.3 496.7 407.5 506.2 409.5 489C411.5 471.8 411 480.5 411 457.5C411 434.5 412.2 443.2 409.5 420C406.8 396.8 408.8 403.3 403 388C397.2 372.7 399.7 379.3 392 374C384.3 368.7 387.3 370 380 372C372.7 374 373.3 377.3 370 380Z" fill="none" stroke="#1b1b1d" stroke-width="1.5" stroke-linejoin="round" /><clipPath id="cAE"><path d="M380 66C375.7 76.7 376.3 80 367 98C357.7 116 361 107.3 352 120C343 132.7 345.2 126.7 340 136C334.8 145.3 336.7 139.3 336.5 148C336.3 156.7 337.2 151.2 339.5 162C341.8 172.8 341.6 158.8 343.4 180.5C345.2 202.2 343.6 193.8 345 227C346.4 260.2 345.7 254.7 347.6 280C349.5 305.3 347.6 289.2 350.7 303C353.8 316.8 351.7 311.2 356.8 321.4C361.9 331.6 360.4 328.3 366 333.7C371.6 339.1 371.1 336.2 373.7 337.5L374.5 337.6C376.3 336.8 377 338.5 379.8 335.2C382.6 331.9 382.4 334.2 382.9 327.6C383.4 321 383.4 326.1 381.4 315.3C379.4 304.5 378.9 308.7 376.8 295.3C374.7 281.9 376.9 297.8 375 275C373.1 252.2 372.5 258.5 371 227C369.5 195.5 370.7 203.7 370.6 180.5C370.5 157.3 370.1 172.8 370.6 157.5C371.1 142.2 370.1 151.8 372 134.6C373.9 117.4 374.1 125.2 376.4 106C378.7 86.8 377.5 90.3 379 77C380.5 63.7 380.3 69.7 381 66Z"/></clipPath><path d="M380 66C375.7 76.7 376.3 80 367 98C357.7 116 361 107.3 352 120C343 132.7 345.2 126.7 340 136C334.8 145.3 336.7 139.3 336.5 148C336.3 156.7 337.2 151.2 339.5 162C341.8 172.8 341.6 158.8 343.4 180.5C345.2 202.2 343.6 193.8 345 227C346.4 260.2 345.7 254.7 347.6 280C349.5 305.3 347.6 289.2 350.7 303C353.8 316.8 351.7 311.2 356.8 321.4C361.9 331.6 360.4 328.3 366 333.7C371.6 339.1 371.1 336.2 373.7 337.5L374.5 337.6C376.3 336.8 377 338.5 379.8 335.2C382.6 331.9 382.4 334.2 382.9 327.6C383.4 321 383.4 326.1 381.4 315.3C379.4 304.5 378.9 308.7 376.8 295.3C374.7 281.9 376.9 297.8 375 275C373.1 252.2 372.5 258.5 371 227C369.5 195.5 370.7 203.7 370.6 180.5C370.5 157.3 370.1 172.8 370.6 157.5C371.1 142.2 370.1 151.8 372 134.6C373.9 117.4 374.1 125.2 376.4 106C378.7 86.8 377.5 90.3 379 77C380.5 63.7 380.3 69.7 381 66Z" fill="url(#gPink)" mask="url(#fadeAE)"/><g clip-path="url(#cAE)" fill="none" stroke-linecap="round" mask="url(#fadeAE)"><path d="M365.8 101.3C363.5 104.9 363.5 104.9 358.9 111.9C354.2 118.9 356.7 115.5 351.8 122.3C346.9 129.1 348.4 125.2 344.1 132.4C339.9 139.6 340.5 135.9 339 143.9C337.5 151.8 338.3 148.1 339.7 156.4C341 164.6 341.3 160.4 343 168.7C344.7 177 343.9 172.8 344.8 181.2C345.7 189.6 345.3 185.5 345.6 193.9C346 202.4 345.8 198.2 345.9 206.7C346.1 215.1 345.9 210.9 346.1 219.4C346.4 227.8 346.3 223.6 346.7 232.1C347 240.6 346.9 236.3 347.3 244.8C347.6 253.3 347.3 249 347.7 257.5C348.1 266 347.9 261.7 348.5 270.2C349.1 278.7 348.8 274.4 349.5 282.9C350.2 291.3 349.3 287.2 350.6 295.6C352 303.9 352.6 303.8 353.6 308" stroke="#c0847a" stroke-width="1.7" opacity="0.8"/><path d="M366.5 101.3C364.4 104.9 364.6 105 360.2 112.1C355.8 119.2 358 115.7 353.3 122.6C348.6 129.4 350.2 125.6 346 132.8C341.9 140 342.3 136.2 340.8 144.2C339.4 152.2 340.3 148.4 341.7 156.7C343 165 343.2 160.8 344.9 169C346.5 177.3 345.7 173.1 346.6 181.5C347.5 189.9 347.1 185.8 347.4 194.2C347.8 202.7 347.5 198.4 347.6 206.9C347.7 215.3 347.4 211.1 347.7 219.5C348 228 348 223.8 348.4 232.2C348.8 240.7 348.4 236.4 348.9 244.9C349.3 253.3 349.2 249.1 349.8 257.6C350.3 266 350 261.8 350.5 270.2C350.9 278.6 350.5 274.4 351.2 282.9C351.9 291.3 351.2 287.1 352.6 295.5C354 303.8 353 299.7 355.3 307.8C357.6 316 358 315.8 359.4 319.8" stroke="#c0847a" stroke-width="1.1" opacity="0.55"/><path d="M380.2 66C378.9 70 378.8 70 376.2 77.9C373.5 85.9 375.1 82 372.2 89.8C369.3 97.6 371 93.9 367.5 101.4C364 108.9 365.8 105.1 361.7 112.3C357.6 119.4 359.6 115.9 355.1 122.9C350.7 129.8 352.1 125.9 348.4 133.2C344.6 140.5 345.3 136.8 344 144.8C342.7 152.8 343.5 149 344.5 157.2C345.6 165.5 345.7 161.2 347.2 169.5C348.6 177.7 348.3 173.6 349 182C349.7 190.3 349.1 186.1 349.3 194.5C349.6 202.9 349.4 198.7 349.6 207.2C349.9 215.6 349.9 211.4 350.2 219.8C350.6 228.2 350.4 224 350.7 232.4C350.9 240.8 350.6 236.6 351 245C351.4 253.4 351.5 249.2 352 257.6C352.5 266 351.9 261.8 352.4 270.2C352.9 278.6 352.6 274.4 353.4 282.8C354.3 291.2 353.6 287 355 295.3C356.4 303.6 355.5 299.6 357.6 307.7C359.7 315.8 360.1 315.7 361.4 319.6" stroke="#c0847a" stroke-width="1.1" opacity="0.8"/><path d="M376.3 77.9C375 81.9 375.2 82 372.5 89.8C369.7 97.7 371.4 93.9 368.1 101.4C364.7 108.9 366.4 105.2 362.4 112.4C358.4 119.5 360.2 115.9 356 123C351.9 130.1 353.6 126.2 350 133.5C346.3 140.9 346.4 137 345.2 145C343.9 153 345 149.3 346.2 157.5C347.4 165.8 347.4 161.5 348.7 169.8C350 178 349.5 173.8 350.2 182.2C350.9 190.5 350.5 186.4 350.8 194.8C351 203.2 350.6 198.9 350.8 207.3C351 215.7 351 211.5 351.3 219.9C351.6 228.3 351.4 224.1 351.8 232.5C352.1 240.9 351.9 236.7 352.3 245.1C352.7 253.5 352.5 249.3 353 257.6C353.5 266 353.3 261.8 353.9 270.2C354.4 278.6 354 274.4 354.6 282.8C355.3 291.1 354.4 287 355.8 295.3C357.2 303.6 356.6 299.5 358.8 307.6C361 315.7 359.4 311.9 362.4 319.6C365.5 327.2 366.1 326.8 367.9 330.5" stroke="#c0847a" stroke-width="1.7" opacity="0.55"/><path d="M380.3 66C379.1 70 379 70 376.6 77.9C374.2 85.9 375.7 82 373.1 89.8C370.6 97.7 372.2 93.9 369.1 101.5C366 109.1 367.4 105.2 363.9 112.5C360.3 119.8 362.2 116.2 358.3 123.4C354.4 130.5 355.6 126.6 352.3 134C348.9 141.4 349.4 137.6 348.4 145.6C347.3 153.6 348.2 149.8 349.1 158C350.1 166.3 350.1 162.1 351.2 170.2C352.3 178.4 351.9 174.3 352.5 182.6C353.1 190.9 352.7 186.8 353 195.1C353.2 203.5 353.1 199.3 353.2 207.7C353.3 216 353.1 211.8 353.4 220.2C353.6 228.5 353.6 224.4 354 232.7C354.4 241 354.1 236.9 354.6 245.2C355.2 253.5 355.1 249.4 355.6 257.7C356.1 266.1 355.7 261.9 356.2 270.2C356.8 278.5 356.4 274.4 357.2 282.7C358.1 291 357.3 286.9 358.7 295.2C360 303.4 359.3 299.3 361.3 307.4C363.4 315.4 362 311.7 364.8 319.3C367.6 327 368.1 326.7 369.7 330.4" stroke="#c0847a" stroke-width="1.1" opacity="0.8"/><path d="M376.8 77.9C375.7 81.9 375.9 82 373.6 89.8C371.2 97.7 372.6 93.9 369.6 101.5C366.6 109.1 368 105.3 364.6 112.6C361.1 119.9 362.9 116.3 359.2 123.5C355.6 130.7 356.7 126.8 353.6 134.2C350.4 141.7 350.7 137.8 349.8 145.9C348.8 153.9 349.8 150.1 350.6 158.3C351.5 166.5 351.3 162.3 352.4 170.5C353.5 178.7 353.4 174.6 354 182.9C354.6 191.2 354 187 354.2 195.3C354.4 203.7 354.4 199.5 354.7 207.9C354.9 216.2 354.8 212 354.9 220.3C355.1 228.7 354.8 224.5 355.1 232.8C355.4 241.1 355.2 237 355.9 245.3C356.5 253.6 356.4 249.4 357 257.8C357.6 266.1 357.1 261.9 357.6 270.2C358.2 278.5 357.7 274.4 358.5 282.7C359.2 291 358.5 286.9 359.9 295.1C361.3 303.3 361.7 303.2 362.6 307.3" stroke="#c0847a" stroke-width="1.1" opacity="0.55"/><path d="M377.1 77.9C376 81.9 376.2 82 374 89.8C371.9 97.7 373.3 93.9 370.6 101.6C368 109.2 369.3 105.4 366.1 112.8C362.8 120.2 364.2 116.5 360.9 123.8C357.6 131.1 358.9 127.2 356.1 134.7C353.3 142.3 353.6 138.4 352.5 146.4C351.4 154.3 352 150.5 352.9 158.7C353.7 166.9 353.9 162.8 354.9 170.9C356 179.1 355.5 175 356 183.3C356.6 191.5 356.3 187.4 356.5 195.7C356.7 204 356.5 199.8 356.6 208.1C356.7 216.4 356.7 212.3 356.9 220.6C357.1 228.8 356.8 224.7 357.2 233C357.7 241.3 357.7 237.1 358.2 245.4C358.7 253.7 358.2 249.5 358.7 257.8C359.3 266.1 359.1 261.9 359.8 270.2C360.6 278.5 360.1 274.4 360.9 282.6C361.6 290.9 360.8 286.8 362.1 295C363.4 303.2 362.8 299.1 364.8 307.1C366.7 315.1 365.6 311.3 368.1 319C370.6 326.8 370.8 326.5 372.2 330.3" stroke="#c0847a" stroke-width="1.7" opacity="0.8"/><path d="M380.6 66C379.5 70 379.3 69.9 377.4 77.9C375.4 85.8 376.6 81.9 374.7 89.8C372.8 97.8 374 93.9 371.6 101.6C369.2 109.3 370.3 105.5 367.5 113C364.6 120.5 366.1 116.7 363.1 124.1C360 131.5 360.8 127.5 358.4 135.2C355.9 142.8 356.5 138.9 355.8 147C355 155 355.6 151.1 356.1 159.3C356.6 167.4 356.5 163.2 357.3 171.4C358.1 179.5 358.2 175.5 358.6 183.7C359 191.9 358.3 187.8 358.5 196C358.6 204.3 358.8 200.2 358.9 208.5C359.1 216.7 358.7 212.6 359 220.8C359.3 229 359.4 224.9 359.8 233.2C360.3 241.4 359.8 237.3 360.3 245.5C360.9 253.8 360.9 249.6 361.4 257.9C361.9 266.1 361.4 262 361.9 270.2C362.4 278.4 362.1 274.3 362.9 282.6C363.7 290.8 363.9 290.8 364.4 294.9" stroke="#c0847a" stroke-width="1.1" opacity="0.55"/><path d="M375.1 89.9C374.2 93.8 374.5 93.9 372.3 101.7C370.1 109.4 371.1 105.5 368.5 113.1C365.9 120.6 367.3 116.9 364.6 124.4C362 131.9 362.7 127.9 360.5 135.6C358.3 143.2 358.8 139.4 358 147.4C357.2 155.4 357.6 151.5 358 159.6C358.4 167.7 358.5 163.6 359.2 171.7C359.8 179.9 359.5 175.8 359.9 184C360.3 192.2 360.3 188.1 360.4 196.3C360.5 204.6 360.2 200.4 360.3 208.6C360.4 216.9 360.4 212.8 360.7 221C361.1 229.2 360.8 225.1 361.3 233.3C361.7 241.5 361.5 237.4 362 245.6C362.5 253.8 362.2 249.7 362.8 257.9C363.3 266.1 363 262 363.7 270.2C364.4 278.4 364.1 274.3 364.8 282.5C365.5 290.7 364.6 286.7 365.8 294.8C367.1 302.9 366.7 298.9 368.7 306.8C370.6 314.8 369.7 310.9 371.8 318.7C373.9 326.5 373.9 326.3 375 330.1" stroke="#c0847a" stroke-width="1.1" opacity="0.8"/><path d="M375.4 89.9C374.6 93.8 374.8 93.9 372.8 101.7C370.8 109.5 371.8 105.6 369.4 113.2C367 120.8 368.2 117 365.7 124.5C363.1 132.1 363.9 128.1 361.7 135.8C359.6 143.5 359.9 139.6 359.1 147.6C358.3 155.6 358.9 151.7 359.3 159.8C359.8 168 359.8 163.8 360.5 172C361.2 180.1 361 176 361.4 184.2C361.8 192.4 361.6 188.4 361.7 196.5C361.8 204.7 361.7 200.6 361.7 208.8C361.7 217 361.6 212.9 361.8 221.1C362 229.3 361.9 225.2 362.4 233.4C362.9 241.6 362.7 237.5 363.2 245.7C363.8 253.9 363.5 249.8 364.2 258C364.8 266.1 364.4 262 365.1 270.2C365.9 278.4 365.6 274.3 366.3 282.5C367.1 290.6 366.1 286.6 367.3 294.7C368.5 302.8 368 298.8 370 306.7C371.9 314.7 372.1 314.6 373.2 318.6" stroke="#c0847a" stroke-width="1.7" opacity="0.55"/><path d="M374 101.8C373.1 105.6 373.3 105.7 371.2 113.4C369 121.1 369.8 117.2 367.6 124.8C365.4 132.5 366.3 128.6 364.6 136.4C362.9 144.1 363.3 140.2 362.5 148.2C361.7 156.2 362.1 152.3 362.3 160.4C362.5 168.5 362.6 164.4 363.2 172.5C363.7 180.6 363.8 176.6 364.1 184.7C364.3 192.9 363.8 188.8 363.9 196.9C364 205.1 364.1 201 364.3 209.2C364.4 217.3 364 213.2 364.2 221.4C364.5 229.5 364.5 225.5 364.9 233.6C365.4 241.8 365 237.7 365.6 245.8C366.2 254 366 249.9 366.8 258C367.6 266.2 367.3 262.1 367.9 270.2C368.5 278.3 368 274.3 368.6 282.4C369.3 290.5 368.6 286.6 369.9 294.6C371.3 302.6 370.8 298.6 372.7 306.5C374.5 314.5 374.6 314.4 375.5 318.4" stroke="#c0847a" stroke-width="1.1" opacity="0.8"/><path d="M376.5 89.9C375.9 93.8 376.3 93.9 374.7 101.8C373.2 109.7 373.9 105.7 372 113.5C370.1 121.2 370.8 117.3 369 125.1C367.1 132.8 368.1 128.9 366.6 136.7C365.1 144.6 365 140.5 364.4 148.6C363.8 156.6 364.5 152.7 364.8 160.8C365.1 168.9 365 164.8 365.3 172.9C365.6 181 365.5 176.9 365.7 185C365.9 193.1 365.8 189.1 365.8 197.2C365.9 205.3 365.8 201.3 365.9 209.4C365.9 217.5 365.7 213.5 365.9 221.6C366.2 229.7 366.1 225.7 366.6 233.8C367.1 241.9 366.7 237.8 367.3 245.9C368 254 367.9 250 368.6 258.1C369.4 266.2 369 262.1 369.6 270.2C370.3 278.3 370 274.3 370.6 282.4C371.2 290.5 371.2 290.5 371.5 294.5" stroke="#c0847a" stroke-width="1.1" opacity="0.55"/><path d="M378.6 77.9C378.1 81.9 378.2 81.9 377.2 89.9C376.2 97.9 376.9 93.9 375.7 101.8C374.4 109.8 375.1 105.8 373.5 113.7C371.9 121.5 372.6 117.6 370.9 125.4C369.2 133.2 369.6 129.2 368.4 137.1C367.2 145 367.8 141.1 367.3 149.1C366.8 157.1 366.8 153.1 366.8 161.2C366.8 169.2 367.1 165.2 367.4 173.3C367.6 181.3 367.4 177.3 367.6 185.4C367.7 193.5 367.9 189.5 367.9 197.6C368 205.7 367.5 201.6 367.6 209.7C367.7 217.7 367.8 213.7 368.2 221.8C368.6 229.9 368.4 225.9 368.8 234C369.2 242 368.9 238 369.5 246C370.1 254.1 370 250.1 370.7 258.1C371.3 266.2 370.9 262.2 371.4 270.2C372 278.3 371.8 274.3 372.4 282.3C373.1 290.4 373.2 290.4 373.5 294.4" stroke="#c0847a" stroke-width="1.7" opacity="0.8"/><path d="M380.9 66C380.2 70 379.9 69.9 378.7 77.9C377.5 85.8 378.3 81.9 377.4 89.9C376.5 97.9 377.1 93.9 376.1 101.9C375 109.8 375.6 105.9 374.2 113.7C372.8 121.6 373.1 117.6 371.8 125.5C370.4 133.4 371.1 129.5 370.1 137.4C369.1 145.4 369.2 141.3 368.7 149.4C368.2 157.4 368.5 153.4 368.6 161.5C368.6 169.5 368.6 165.5 368.8 173.5C368.9 181.6 368.9 177.6 369 185.6C369 193.7 369 189.7 368.9 197.7C368.9 205.8 368.8 201.8 368.9 209.8C368.9 217.9 368.7 213.9 369.1 221.9C369.4 230 369.5 226 370 234C370.5 242.1 370 238.1 370.6 246.1C371.2 254.1 370.9 250.1 371.7 258.2C372.6 266.2 372.3 262.2 373 270.2C373.7 278.3 373.2 274.3 373.9 282.3C374.6 290.3 374.7 290.3 375.2 294.3" stroke="#c0847a" stroke-width="1.1" opacity="0.55"/><path d="M365.6 101.3C363.3 104.8 363.4 104.9 358.6 111.9C353.9 118.9 356.4 115.5 351.4 122.3C346.4 129 348 125.2 343.6 132.3C339.2 139.5 339.6 135.7 338.2 143.7C336.8 151.7 338.1 148 339.4 156.3C340.7 164.6 340.6 160.3 342.2 168.6C343.9 176.8 343.4 172.7 344.4 181.1C345.3 189.5 344.6 185.3 345 193.8C345.4 202.3 345.3 198.1 345.6 206.6C345.8 215.1 345.5 210.8 345.7 219.3C346 227.8 345.9 223.6 346.3 232C346.7 240.5 346.6 236.3 347 244.8C347.3 253.3 346.9 249 347.3 257.5C347.6 266 347.5 261.7 348 270.2C348.5 278.7 348 274.5 348.8 282.9C349.6 291.4 349.1 287.2 350.4 295.6C351.8 303.9 350.5 299.9 352.8 308C355.1 316.2 353.6 312.5 357.3 320C361 327.6 361.7 327.1 363.9 330.7" stroke="#f6d6ce" stroke-width="1.1" opacity="0.8"/><path d="M380.2 66C378.9 70 378.8 70 376.2 77.9C373.5 85.9 375.1 82 372.2 89.8C369.4 97.6 371.1 93.9 367.6 101.4C364 108.9 365.7 105.1 361.5 112.3C357.3 119.4 359.2 115.8 355 122.8C350.7 129.8 352.3 126 348.6 133.3C344.9 140.6 345.3 136.8 343.9 144.8C342.6 152.8 343.5 149 344.6 157.2C345.7 165.5 345.7 161.2 347.2 169.5C348.7 177.7 348.4 173.6 349.1 182C349.8 190.3 349.1 186.1 349.2 194.5C349.4 202.9 349.3 198.7 349.6 207.2C349.9 215.6 349.8 211.4 350.1 219.8C350.4 228.2 350.2 224 350.5 232.4C350.9 240.8 350.7 236.6 351.2 245C351.6 253.4 351.4 249.2 351.8 257.6C352.3 266 352 261.8 352.5 270.2C353 278.6 352.7 274.4 353.4 282.8C354.2 291.2 354.3 291.2 354.7 295.3" stroke="#f6d6ce" stroke-width="1.1" opacity="0.8"/><path d="M376.8 77.9C375.7 81.9 375.9 82 373.5 89.8C371.2 97.7 372.7 93.9 369.8 101.5C366.9 109.1 368.4 105.3 364.9 112.6C361.4 120 363 116.3 359.3 123.5C355.7 130.7 356.9 126.8 353.9 134.3C351 141.8 351.6 138 350.6 146C349.5 154 349.9 150.1 350.7 158.3C351.5 166.5 351.8 162.4 352.9 170.6C354.1 178.8 353.6 174.6 354.1 182.9C354.6 191.2 354.1 187 354.4 195.4C354.6 203.7 354.7 199.6 354.9 207.9C355.2 216.2 354.9 212.1 355.1 220.4C355.2 228.7 355 224.5 355.4 232.8C355.8 241.1 355.8 237 356.3 245.3C356.8 253.6 356.4 249.4 356.9 257.8C357.5 266.1 357.5 261.9 358 270.2C358.5 278.5 357.9 274.4 358.6 282.7C359.2 291 358.6 286.9 360 295.1C361.4 303.3 360.6 299.2 362.8 307.3C364.9 315.3 365.2 315.2 366.4 319.2" stroke="#f6d6ce" stroke-width="1.1" opacity="0.8"/><path d="M380.5 66C379.3 70 379.2 70 377 77.9C374.9 85.8 376.2 82 374 89.8C371.8 97.7 373.1 93.9 370.5 101.6C367.8 109.2 369.2 105.4 366 112.8C362.8 120.2 364.2 116.5 360.9 123.8C357.6 131.1 359 127.2 356.1 134.7C353.2 142.2 353.3 138.3 352.2 146.3C351.2 154.3 352.1 150.5 352.9 158.7C353.7 166.9 353.7 162.7 354.7 170.9C355.7 179.1 355.4 175 355.8 183.2C356.3 191.5 355.8 187.3 356 195.6C356.2 203.9 356.1 199.8 356.3 208.1C356.5 216.4 356.3 212.2 356.6 220.5C356.8 228.8 356.6 224.7 357.1 233C357.5 241.2 357.6 237.1 358.1 245.4C358.6 253.7 358.1 249.5 358.5 257.8C359 266.1 358.7 261.9 359.4 270.2C360.1 278.5 359.8 274.4 360.7 282.6C361.5 290.9 360.7 286.8 362 295C363.2 303.2 362.5 299.1 364.5 307.1C366.5 315.2 366.8 315.1 367.9 319.1" stroke="#f6d6ce" stroke-width="1.1" opacity="0.8"/><path d="M380.7 66C379.7 70 379.5 69.9 377.8 77.9C376.1 85.8 377.2 81.9 375.6 89.9C374.1 97.8 375.1 93.9 373.1 101.7C371.1 109.5 372 105.6 369.6 113.2C367.2 120.8 368.3 117 365.9 124.6C363.5 132.2 364.4 128.2 362.4 135.9C360.4 143.7 360.7 139.7 360 147.7C359.2 155.8 359.8 151.9 360.2 160C360.6 168.1 360.7 164 361.2 172.1C361.8 180.2 361.5 176.1 361.8 184.3C362.1 192.5 362 188.4 362.2 196.6C362.3 204.8 362.2 200.7 362.3 208.9C362.3 217.1 362.1 213 362.3 221.2C362.5 229.3 362.4 225.3 362.8 233.4C363.2 241.6 362.9 237.5 363.6 245.7C364.2 253.9 364 249.8 364.7 258C365.5 266.1 365.2 262.1 365.8 270.2C366.4 278.4 365.9 274.3 366.6 282.5C367.3 290.6 366.7 286.6 368 294.7C369.2 302.8 368.5 298.8 370.3 306.7C372.1 314.7 372.4 314.6 373.4 318.6" stroke="#f6d6ce" stroke-width="1.1" opacity="0.8"/><path d="M376.4 89.9C375.8 93.8 375.9 93.9 374.4 101.8C372.8 109.6 373.7 105.7 371.8 113.5C369.8 121.2 370.6 117.3 368.6 125C366.5 132.7 367.1 128.7 365.6 136.5C364.1 144.4 364.6 140.5 364 148.5C363.4 156.5 363.6 152.5 363.8 160.6C364 168.7 364.2 164.7 364.6 172.8C365.1 180.9 365 176.8 365.1 184.9C365.3 193 365.1 189 365.1 197.1C365.1 205.2 365 201.2 365.1 209.3C365.1 217.4 364.9 213.4 365.3 221.5C365.6 229.6 365.6 225.6 366.1 233.7C366.6 241.9 366.1 237.8 366.7 245.9C367.3 254 367.3 249.9 368 258.1C368.6 266.2 368.1 262.1 368.7 270.2C369.3 278.3 368.8 274.3 369.6 282.4C370.4 290.5 369.8 286.5 371.1 294.5C372.4 302.6 371.8 298.5 373.6 306.5C375.3 314.4 375.4 314.4 376.4 318.3" stroke="#f6d6ce" stroke-width="1.1" opacity="0.8"/><path d="M381 66C380.2 70 379.9 69.9 378.8 77.9C377.6 85.8 378.4 81.9 377.6 89.9C376.8 97.9 377.5 93.9 376.4 101.9C375.4 109.8 375.9 105.9 374.5 113.8C373 121.7 373.5 117.7 372.2 125.6C370.9 133.5 371.5 129.5 370.6 137.5C369.7 145.5 369.8 141.5 369.4 149.5C368.9 157.5 369.3 153.5 369.2 161.6C369.1 169.6 369 165.6 369.1 173.6C369.1 181.6 369.2 177.6 369.3 185.7C369.3 193.8 369.2 189.7 369.3 197.8C369.3 205.9 369.3 201.8 369.4 209.9C369.5 218 369.3 213.9 369.6 222C370 230.1 369.9 226 370.4 234.1C370.9 242.1 370.7 238.1 371.3 246.1C371.9 254.2 371.5 250.2 372.2 258.2C373 266.2 372.8 262.2 373.5 270.2C374.3 278.3 373.8 274.2 374.5 282.3C375.2 290.3 374.5 286.3 375.6 294.3C376.7 302.3 376.2 298.3 377.8 306.1C379.5 314 379.7 314 380.7 317.9" stroke="#f6d6ce" stroke-width="1.1" opacity="0.8"/></g><path d="M336.5 148C337.5 152.7 337.2 151.2 339.5 162C341.8 172.8 341.6 158.8 343.4 180.5C345.2 202.2 343.6 193.8 345 227C346.4 260.2 345.7 254.7 347.6 280C349.5 305.3 347.6 289.2 350.7 303C353.8 316.8 351.7 311.2 356.8 321.4C361.9 331.6 360.4 328.3 366 333.7C371.6 339.1 370.9 336.2 373.7 337.5C376.5 338.8 372.5 338.4 374.5 337.6C376.5 336.8 377 338.5 379.8 335.2C382.6 331.9 382.4 334.2 382.9 327.6C383.4 321 383.4 326.1 381.4 315.3C379.4 304.5 378.9 308.7 376.8 295.3C374.7 281.9 376.9 297.8 375 275C373.1 252.2 372.5 258.5 371 227C369.5 195.5 370.7 203.7 370.6 180.5C370.5 157.3 370.6 165.2 370.6 157.5" fill="none" stroke="#1b1b1d" stroke-width="1.6" stroke-linejoin="round" stroke-linecap="round"/><path d="M381 66C380.3 69.7 380.5 63.7 379 77C377.5 90.3 378.7 86.8 376.4 106C374.1 125.2 373.9 117.4 372 134.6C370.1 151.8 371.1 142.2 370.6 157.5C370.1 172.8 370.6 172.8 370.6 180.5" fill="none" stroke="#1b1b1d" stroke-width="1.2" opacity=".8" mask="url(#fadeAE)"/><path d="M358 336C364 335.2 366.9 333.7 369.1 337.5C371.3 341.3 366 341.1 364.5 347.5C363 353.9 363 351.1 364.5 356.7C366 362.3 364 359.8 369.1 364.4C374.2 369 377.2 365.3 379.8 370.5C382.4 375.7 381.1 375.2 377 380C372.9 384.8 374.8 385.3 367.6 385C360.4 384.7 361.7 385.3 355.3 379C348.9 372.7 351.3 375 348.5 366C345.7 357 346.2 360.7 347 352C347.8 343.3 347.3 345.3 351 340C354.7 334.7 352 336.8 358 336Z" fill="#fff" opacity=".9" filter="url(#blur3)"/><path d="M360 338.5C364.7 337 367.6 334.5 369.1 337.5C370.6 340.5 366 341.1 364.5 347.5C363 353.9 363 351.1 364.5 356.7C366 362.3 364 359.8 369.1 364.4C374.2 369 377.3 365.8 379.8 370.5C382.3 375.2 380.6 374.7 376.5 378.5C372.4 382.3 373.8 382.8 367.6 382C361.4 381.2 362.9 381.7 358 376C353.1 370.3 355 373 353 365C351 357 351.3 359.7 352 352C352.7 344.3 352.3 346.5 355 342C357.7 337.5 355.3 340 360 338.5Z" fill="#c9d8e5" filter="url(#blur1)"/><path d="M369.1 337.5C365 344 363.6 352 365 358C367 365 373 368 379.8 370.5" fill="none" stroke="#1b1b1d" stroke-width="1.8"/><path d="M197 290.3C199 291.5 198.9 290.6 203 294C207.1 297.4 204.8 292.9 209.3 300.5C213.8 308.1 212.7 306 216.5 316.9C220.3 327.8 216.4 318.6 220.6 333.2C224.8 347.8 223.1 341.3 229 360.6C234.9 379.9 233.2 371.7 238.4 391C243.6 410.3 242.1 405.6 244.5 418.6C246.9 431.6 246.4 424.7 245.5 430C244.6 435.3 243 433.1 241.7 434.6C240.6 434.4 243.6 438.3 238.4 434C233.2 429.7 234.1 434 226 421.7C217.9 409.4 223.1 417.4 214 397C204.9 376.6 206.2 379.1 198.7 360.6C191.2 342.1 195.1 353.9 191.5 341.4C187.9 328.9 188.4 335.3 187.9 323C187.4 310.7 188.2 313.9 189.9 304.6C191.6 295.3 190.6 299.8 193 295C195.4 290.2 195.7 291.9 197 290.3Z" fill="#e1e9f0" stroke="#1b1b1d" stroke-width="1.8" stroke-linejoin="round" /><g mask="url(#fadeNA)"><path d="M379.9 729.7L379.4 722.8L378.8 715.9L378.2 709L377.5 702L376.5 695L375.2 688.1L374 681.4L373.1 674.8L372.6 668.1L372.3 661.2L372 654.4L371.9 647.5L371.8 640.6L371.7 633.8L371.7 626.9L371.7 620L371.7 613.1L371.9 606.3L372.2 599.5L372.8 592.8L373.8 586.2L375 579.5L376.5 572.9L378.1 566.2L379.7 559.5L381.3 552.8L383 546.1L384.8 539.5L386.5 532.7L388.1 525.8L389.4 518.8L390.2 511.7L390.4 504.5L390.3 497.4L389.8 490.4L389 483.2L387.6 475.8L384 468.6L378.8 463.2L373.2 463.2L373.2 468.8L377.7 473.2L380.2 478.3L381.3 484.4L382 491L382.5 497.8L382.6 504.5L382.4 511.1L381.7 517.7L380.5 524.3L379 530.8L377.2 537.5L375.5 544.2L373.7 550.9L372.1 557.6L370.5 564.4L368.9 571.1L367.4 578L366.1 584.9L365.1 591.9L364.5 599L364.1 606L363.9 613L363.9 620L363.9 626.9L363.9 633.8L364 640.7L364.1 647.7L364.2 654.6L364.5 661.6L364.8 668.6L365.4 675.6L366.3 682.7L367.6 689.6L368.8 696.3L369.8 702.9L370.5 709.7L371.1 716.5L371.6 723.4L372.1 730.3L376.3 733.9Z" fill="#f8dd33" stroke="#8d7a2a" stroke-width="1.1" stroke-linejoin="round"/><path d="M386 473.6L383.3 470.8L381.1 467.8L378.9 464.4L376.9 460.8L374.8 457.3L372.8 453.6L370.8 450L368.8 446.3L366.8 442.7L364.8 439L362.8 435.4L360.7 431.8L358.6 428.1L356.5 424.5L354.4 420.9L352.2 417.3L349.9 413.8L347.6 410.3L345.2 406.9L342.8 403.4L340.4 400L338 396.6L335.6 393.2L333.2 389.8L330.8 386.4L328.5 383L326.2 379.6L324 376.1L321.8 372.6L319.8 369L317.8 365.4L315.9 361.8L314 358.1L312.2 354.4L310.5 350.6L308.7 346.9L307.1 343.1L305.8 339.3L304.5 335.3L302.5 334.3L301.5 336.3L302.6 340.3L303.9 344.3L305.5 348.3L307.2 352.1L308.9 355.9L310.6 359.7L312.4 363.5L314.3 367.3L316.2 371L318.2 374.7L320.3 378.3L322.5 381.9L324.8 385.5L327.1 389L329.4 392.5L331.7 395.9L334 399.4L336.3 402.8L338.6 406.3L340.9 409.7L343.2 413.2L345.4 416.7L347.5 420.2L349.6 423.7L351.6 427.3L353.6 430.9L355.6 434.6L357.6 438.2L359.5 441.9L361.4 445.6L363.3 449.3L365.3 453L367.2 456.7L369.1 460.4L371.1 464.1L373.2 467.8L375.4 471.5L378 475.2L381 478.4L385.9 478.5Z" fill="#f8dd33" stroke="#8d7a2a" stroke-width="1.1" stroke-linejoin="round"/><path d="M377.2 464.4L376.5 462.2L374.8 460.4L373.2 459.1L371.7 457.9L370.3 456.7L368.8 455.6L367.3 454.4L365.8 453.2L364.3 452L362.8 450.9L361.3 449.7L359.7 448.6L358.2 447.4L356.7 446.3L355.2 445.1L353.6 444L352.1 442.9L350.6 441.8L349 440.6L347.4 439.5L345.9 438.5L344.3 437.4L342.7 436.3L341.1 435.3L339.5 434.3L337.9 433.3L336.2 432.3L334.6 431.3L333 430.3L331.4 429.3L329.7 428.3L328.1 427.4L326.5 426.4L324.8 425.4L323.2 424.5L321.6 423.5L319.9 422.5L318.3 421.6L316.7 420.6L314.9 421L315.3 422.8L316.9 423.8L318.5 424.8L320.1 425.9L321.7 426.9L323.3 427.9L324.9 428.9L326.5 429.9L328.1 430.9L329.7 431.9L331.3 432.9L332.9 434L334.5 435L336.1 436L337.7 437.1L339.2 438.1L340.8 439.2L342.3 440.3L343.9 441.3L345.4 442.5L346.9 443.6L348.4 444.7L349.9 445.9L351.4 447L352.9 448.2L354.3 449.3L355.8 450.5L357.3 451.7L358.8 452.9L360.2 454.1L361.7 455.3L363.1 456.5L364.6 457.7L366.1 458.9L367.5 460.1L368.9 461.3L370.4 462.5L371.7 463.7L372.6 464.6L372.8 465.6L375.6 467.2Z" fill="#f8dd33" stroke="#8d7a2a" stroke-width="1.1" stroke-linejoin="round"/><path d="M386.5 480.3L386.7 478.6L386.9 476.9L387 475.2L387.2 473.5L387.4 471.8L387.7 470.1L387.9 468.5L388.1 466.8L388.4 465.1L388.7 463.4L389 461.7L389.3 460.1L389.6 458.4L389.9 456.7L390.2 455L390.5 453.3L390.8 451.6L391.1 450L391.5 448.3L391.8 446.6L392.2 444.9L392.5 443.3L392.9 441.6L393.2 439.9L393.6 438.3L394 436.6L394.4 434.9L394.8 433.3L395.2 431.6L395.6 429.9L396 428.3L396.4 426.6L396.8 424.9L397.2 423.3L397.6 421.6L398 419.9L398.4 418.3L398.9 416.6L399.3 414.9L398.3 413.3L396.7 414.3L396.3 415.9L395.8 417.6L395.3 419.2L394.9 420.9L394.4 422.5L393.9 424.2L393.5 425.8L393 427.5L392.5 429.1L392.1 430.8L391.6 432.5L391.2 434.1L390.7 435.8L390.3 437.4L389.8 439.1L389.4 440.8L389 442.4L388.5 444.1L388.1 445.8L387.7 447.5L387.3 449.2L386.9 450.8L386.6 452.5L386.2 454.2L385.8 455.9L385.4 457.6L385.1 459.3L384.7 460.9L384.4 462.6L384 464.3L383.7 466L383.4 467.7L383.1 469.4L382.8 471.2L382.5 472.9L382.3 474.6L382 476.3L381.8 478L381.5 479.7L383.7 482.5Z" fill="#f8dd33" stroke="#8d7a2a" stroke-width="1.1" stroke-linejoin="round"/><path d="M379.9 729.7L379.4 722.8L378.8 715.9L378.2 709L377.5 702L376.5 695L375.2 688.1L374 681.4L373.1 674.8L372.6 668.1L372.3 661.2L372 654.4L371.9 647.5L371.8 640.6L371.7 633.8L371.7 626.9L371.7 620L371.7 613.1L371.9 606.3L372.2 599.5L372.8 592.8L373.8 586.2L375 579.5L376.5 572.9L378.1 566.2L379.7 559.5L381.3 552.8L383 546.1L384.8 539.5L386.5 532.7L388.1 525.8L389.4 518.8L390.2 511.7L390.4 504.5L390.3 497.4L389.8 490.4L389 483.2L387.6 475.8L384 468.6L378.8 463.2L373.2 463.2L373.2 468.8L377.7 473.2L380.2 478.3L381.3 484.4L382 491L382.5 497.8L382.6 504.5L382.4 511.1L381.7 517.7L380.5 524.3L379 530.8L377.2 537.5L375.5 544.2L373.7 550.9L372.1 557.6L370.5 564.4L368.9 571.1L367.4 578L366.1 584.9L365.1 591.9L364.5 599L364.1 606L363.9 613L363.9 620L363.9 626.9L363.9 633.8L364 640.7L364.1 647.7L364.2 654.6L364.5 661.6L364.8 668.6L365.4 675.6L366.3 682.7L367.6 689.6L368.8 696.3L369.8 702.9L370.5 709.7L371.1 716.5L371.6 723.4L372.1 730.3L376.3 733.9Z" fill="#f8dd33"/><path d="M386 473.6L383.3 470.8L381.1 467.8L378.9 464.4L376.9 460.8L374.8 457.3L372.8 453.6L370.8 450L368.8 446.3L366.8 442.7L364.8 439L362.8 435.4L360.7 431.8L358.6 428.1L356.5 424.5L354.4 420.9L352.2 417.3L349.9 413.8L347.6 410.3L345.2 406.9L342.8 403.4L340.4 400L338 396.6L335.6 393.2L333.2 389.8L330.8 386.4L328.5 383L326.2 379.6L324 376.1L321.8 372.6L319.8 369L317.8 365.4L315.9 361.8L314 358.1L312.2 354.4L310.5 350.6L308.7 346.9L307.1 343.1L305.8 339.3L304.5 335.3L302.5 334.3L301.5 336.3L302.6 340.3L303.9 344.3L305.5 348.3L307.2 352.1L308.9 355.9L310.6 359.7L312.4 363.5L314.3 367.3L316.2 371L318.2 374.7L320.3 378.3L322.5 381.9L324.8 385.5L327.1 389L329.4 392.5L331.7 395.9L334 399.4L336.3 402.8L338.6 406.3L340.9 409.7L343.2 413.2L345.4 416.7L347.5 420.2L349.6 423.7L351.6 427.3L353.6 430.9L355.6 434.6L357.6 438.2L359.5 441.9L361.4 445.6L363.3 449.3L365.3 453L367.2 456.7L369.1 460.4L371.1 464.1L373.2 467.8L375.4 471.5L378 475.2L381 478.4L385.9 478.5Z" fill="#f8dd33"/><path d="M377.2 464.4L376.5 462.2L374.8 460.4L373.2 459.1L371.7 457.9L370.3 456.7L368.8 455.6L367.3 454.4L365.8 453.2L364.3 452L362.8 450.9L361.3 449.7L359.7 448.6L358.2 447.4L356.7 446.3L355.2 445.1L353.6 444L352.1 442.9L350.6 441.8L349 440.6L347.4 439.5L345.9 438.5L344.3 437.4L342.7 436.3L341.1 435.3L339.5 434.3L337.9 433.3L336.2 432.3L334.6 431.3L333 430.3L331.4 429.3L329.7 428.3L328.1 427.4L326.5 426.4L324.8 425.4L323.2 424.5L321.6 423.5L319.9 422.5L318.3 421.6L316.7 420.6L314.9 421L315.3 422.8L316.9 423.8L318.5 424.8L320.1 425.9L321.7 426.9L323.3 427.9L324.9 428.9L326.5 429.9L328.1 430.9L329.7 431.9L331.3 432.9L332.9 434L334.5 435L336.1 436L337.7 437.1L339.2 438.1L340.8 439.2L342.3 440.3L343.9 441.3L345.4 442.5L346.9 443.6L348.4 444.7L349.9 445.9L351.4 447L352.9 448.2L354.3 449.3L355.8 450.5L357.3 451.7L358.8 452.9L360.2 454.1L361.7 455.3L363.1 456.5L364.6 457.7L366.1 458.9L367.5 460.1L368.9 461.3L370.4 462.5L371.7 463.7L372.6 464.6L372.8 465.6L375.6 467.2Z" fill="#f8dd33"/><path d="M386.5 480.3L386.7 478.6L386.9 476.9L387 475.2L387.2 473.5L387.4 471.8L387.7 470.1L387.9 468.5L388.1 466.8L388.4 465.1L388.7 463.4L389 461.7L389.3 460.1L389.6 458.4L389.9 456.7L390.2 455L390.5 453.3L390.8 451.6L391.1 450L391.5 448.3L391.8 446.6L392.2 444.9L392.5 443.3L392.9 441.6L393.2 439.9L393.6 438.3L394 436.6L394.4 434.9L394.8 433.3L395.2 431.6L395.6 429.9L396 428.3L396.4 426.6L396.8 424.9L397.2 423.3L397.6 421.6L398 419.9L398.4 418.3L398.9 416.6L399.3 414.9L398.3 413.3L396.7 414.3L396.3 415.9L395.8 417.6L395.3 419.2L394.9 420.9L394.4 422.5L393.9 424.2L393.5 425.8L393 427.5L392.5 429.1L392.1 430.8L391.6 432.5L391.2 434.1L390.7 435.8L390.3 437.4L389.8 439.1L389.4 440.8L389 442.4L388.5 444.1L388.1 445.8L387.7 447.5L387.3 449.2L386.9 450.8L386.6 452.5L386.2 454.2L385.8 455.9L385.4 457.6L385.1 459.3L384.7 460.9L384.4 462.6L384 464.3L383.7 466L383.4 467.7L383.1 469.4L382.8 471.2L382.5 472.9L382.3 474.6L382 476.3L381.8 478L381.5 479.7L383.7 482.5Z" fill="#f8dd33"/><path d="M374.8 730C374 720.3 374.6 720.1 372.3 701C370 681.9 369.7 696.4 367.8 672.6C365.9 648.8 366.6 656.5 366.6 629.6C366.6 602.7 365.1 615.9 367.8 592C370.5 568.1 369.5 581.5 374.8 558C380.1 534.5 380.3 541.4 383.8 521.6C387.3 501.8 385.7 514 385.2 498.7C384.7 483.4 385.8 486.6 382.3 475.7C378.8 464.8 377.3 469.2 374.8 466" fill="none" stroke="#fbe978" stroke-width="2" opacity=".7"/></g><g mask="url(#fadeB)"><rect x="728.3" y="548" width="173.4" height="150" fill="#e2e0e9" stroke="#55535c" stroke-width="1.2"/><path d="M729 554.4L729 564.5M731.9 552.8L731.9 565.1M734.8 553.8L734.8 563.9M737.7 552L737.7 563.4M740.7 552.2L740.7 565.1M743.6 552.8L743.6 562M746.5 554.6L746.5 565.5M749.4 552.1L749.4 563.2M752.3 552.4L752.3 565.8M755.2 552.5L755.2 565.2M758.2 555.2L758.2 563.7M761.1 553.2L761.1 563.8M764 552.1L764 565.4M766.9 554.7L766.9 562.7M769.8 555.1L769.8 565M772.7 554L772.7 564.9M775.6 553.7L775.6 565.3M778.6 555.2L778.6 565.5M781.5 553.3L781.5 563.7M784.4 555.5L784.4 563.4M793.1 555.5L793.1 563.9M796.1 553.9L796.1 564.9M799 554.1L799 564.1M801.9 552.6L801.9 562.5M804.8 555.2L804.8 563.3M807.7 553.1L807.7 562.2M813.5 554.7L813.5 563.4M816.5 554.4L816.5 565.6M819.4 553.4L819.4 566M822.3 554.1L822.3 565.5M825.2 553.3L825.2 562.8M828.1 552.6L828.1 562.1M831 554.7L831 563.8M833.9 552.2L833.9 562.9M836.9 553.5L836.9 562.5M842.7 555.1L842.7 565.9M845.6 553.7L845.6 562.9M848.5 553.8L848.5 564.9M854.4 554.9L854.4 565.1M857.3 554.1L857.3 563.6M860.2 555L860.2 563.1M863.1 553L863.1 565M868.9 555.3L868.9 561.9M871.8 554.3L871.8 565.4M874.8 552.9L874.8 563.5M877.7 555.2L877.7 562.4M889.3 552.5L889.3 565.4M892.3 552.4L892.3 564.1M895.2 553.7L895.2 562.7M898.1 552.6L898.1 563.4M901 553.9L901 562" fill="none" stroke="#8e8c99" stroke-width="1.2" opacity="0.85"/><path d="M729 599.5L729 608.2M731.9 599.6L731.9 608.6M734.8 600.1L734.8 611.6M737.7 602.1L737.7 609.3M740.7 602L740.7 610.8M743.6 601.3L743.6 608.3M746.5 600.9L746.5 609.3M749.4 601.8L749.4 610.4M752.3 601.5L752.3 611.8M755.2 601.3L755.2 610.5M758.2 602.1L758.2 609.3M761.1 602.1L761.1 610.6M764 601.7L764 610.7M766.9 599.2L766.9 610.2M772.7 600.6L772.7 610.1M775.6 601.1L775.6 611.7M778.6 600.2L778.6 610.4M781.5 600.9L781.5 610.2M784.4 601.2L784.4 610.2M790.2 600.2L790.2 609.8M793.1 602L793.1 611.8M796.1 600.3L796.1 608.5M799 599.6L799 610.2M801.9 600.1L801.9 609.5M804.8 599.1L804.8 610.2M807.7 601.1L807.7 608.9M810.6 599.2L810.6 609.7M813.5 602L813.5 609.9M816.5 600.6L816.5 610.1M819.4 602.2L819.4 611M822.3 601.4L822.3 610.6M825.2 601.5L825.2 611.3M828.1 602.1L828.1 608.2M831 601.1L831 609.4M833.9 601.2L833.9 609.8M836.9 599.1L836.9 611.9M839.8 599.4L839.8 608.9M842.7 601.8L842.7 608.8M845.6 599.3L845.6 609.9M848.5 600.1L848.5 611M851.4 601.7L851.4 608.2M854.4 601.8L854.4 608.2M857.3 600.6L857.3 609.6M860.2 601.3L860.2 609.9M863.1 599.7L863.1 609.1M868.9 599.5L868.9 611.6M871.8 599.2L871.8 610M874.8 599.1L874.8 610M880.6 599L880.6 610.6M883.5 601.8L883.5 609M886.4 599.5L886.4 609.4M889.3 601.7L889.3 608.1M892.3 601.1L892.3 608.8M895.2 601.9L895.2 610.3M898.1 601.8L898.1 610.1M901 599.9L901 608.7" fill="none" stroke="#8e8c99" stroke-width="1.2" opacity="0.85"/><path d="M729 649.8L729 661.5M734.8 647.7L734.8 659.7M737.7 646.8L737.7 659.3M740.7 647.8L740.7 657.3M746.5 647.7L746.5 659.7M749.4 647.4L749.4 657.5M752.3 648.4L752.3 660.4M755.2 649.9L755.2 658.9M758.2 647.5L758.2 659.9M761.1 647.3L761.1 657.6M764 648.9L764 660M766.9 648.6L766.9 658.1M769.8 647.3L769.8 661.1M772.7 646.5L772.7 657.7M778.6 648.3L778.6 661.1M781.5 647.5L781.5 658.6M784.4 649.1L784.4 659.8M787.3 646.4L787.3 661M790.2 649.3L790.2 658.3M793.1 649.7L793.1 660M796.1 646.7L796.1 661.9M801.9 646.1L801.9 661.1M804.8 649.9L804.8 661.1M807.7 648.2L807.7 661.9M810.6 647.4L810.6 661.9M813.5 646.8L813.5 657.6M816.5 646.8L816.5 661.7M819.4 646.9L819.4 657.7M822.3 646.7L822.3 659.8M825.2 647L825.2 659.2M828.1 647.8L828.1 658.8M831 649.3L831 661.5M833.9 647.7L833.9 660.5M836.9 648.6L836.9 658.3M839.8 647.6L839.8 660.9M842.7 648.2L842.7 661.2M848.5 647.3L848.5 659.9M851.4 647L851.4 661.8M857.3 648.2L857.3 658.3M860.2 647.9L860.2 659.4M863.1 646L863.1 659M866 646.6L866 661.4M868.9 648.7L868.9 658M871.8 647.7L871.8 657.6M874.8 647.9L874.8 660.5M877.7 648.2L877.7 659.7M880.6 649.6L880.6 657.6M883.5 649.5L883.5 659.6M886.4 648.7L886.4 660.1M889.3 647.3L889.3 658.9M892.3 649.8L892.3 658.8M895.2 647.7L895.2 661.1M898.1 648.2L898.1 658.4M901 646.4L901 658.2" fill="none" stroke="#8e8c99" stroke-width="1.2" opacity="0.85"/><path d="M737.5 567.5C728.5 566.5 723.5 569 723.5 577L724 588.3C724 595.3 727.5 598.8 737.5 599.3L892.7 599.3C902.7 598.8 906.2 595.3 906.2 588.3L906.7 577C906.7 569 901.7 566.5 892.7 567.5Z" fill="url(#gRing)" stroke="#1b1b1d" stroke-width="1.6" stroke-linejoin="round" /><rect x="765" y="566.5" width="103.3" height="32.3" fill="url(#gPinkT)" stroke="#1b1b1d" stroke-width="1.2"/><path d="M769.6 568C799.6 568.8 827.3 566.6 857.3 567.2" fill="none" stroke="#f6d6ce" stroke-width=".8" opacity=".7"/><path d="M784.4 571.9C814.4 572.8 832.9 572.5 862.9 571.1" fill="none" stroke="#c0847a" stroke-width=".8" opacity=".7"/><path d="M777.3 575.9C807.3 577.9 826.8 574.3 856.8 574.9" fill="none" stroke="#c0847a" stroke-width=".8" opacity=".7"/><path d="M776.3 580.1C806.3 579.4 831.7 579.6 861.7 581" fill="none" stroke="#f6d6ce" stroke-width=".8" opacity=".7"/><path d="M772 582.1C802 582.3 822.8 583.9 852.8 582.7" fill="none" stroke="#c0847a" stroke-width=".8" opacity=".7"/><path d="M771.7 585.8C801.7 587.7 817.1 583.9 847.1 586.2" fill="none" stroke="#c0847a" stroke-width=".8" opacity=".7"/><path d="M782 590.2C812 591.4 831.3 591.1 861.3 589.6" fill="none" stroke="#f6d6ce" stroke-width=".8" opacity=".7"/><path d="M772 593.2C802 592.5 835.3 592.5 865.3 593" fill="none" stroke="#c0847a" stroke-width=".8" opacity=".7"/><path d="M786.2 596.6C816.2 598.5 814.2 598.6 844.2 597.2" fill="none" stroke="#c0847a" stroke-width=".8" opacity=".7"/><path d="M729.5 572L759 572" stroke="#fff" stroke-width="2" opacity=".6" stroke-linecap="round"/><path d="M874.3 572L898.7 572" stroke="#fff" stroke-width="2" opacity=".6" stroke-linecap="round"/><path d="M737.5 613C728.5 612 723.5 614.5 723.5 622.5L724 634.5C724 641.5 727.5 645 737.5 645.5L892.7 645.5C902.7 645 906.2 641.5 906.2 634.5L906.7 622.5C906.7 614.5 901.7 612 892.7 613Z" fill="url(#gRing)" stroke="#1b1b1d" stroke-width="1.6" stroke-linejoin="round" /><rect x="765" y="612" width="103.3" height="33" fill="url(#gPinkT)" stroke="#1b1b1d" stroke-width="1.2"/><path d="M771.9 613.7C801.9 615.3 829.3 613.6 859.3 614.1" fill="none" stroke="#f6d6ce" stroke-width=".8" opacity=".7"/><path d="M778.7 617.2C808.7 617.3 816.9 619 846.9 618" fill="none" stroke="#c0847a" stroke-width=".8" opacity=".7"/><path d="M767 621.2C797 619.7 818.9 619.3 848.9 621.7" fill="none" stroke="#c0847a" stroke-width=".8" opacity=".7"/><path d="M786.2 625.7C816.2 624.5 814.4 624 844.4 624.9" fill="none" stroke="#f6d6ce" stroke-width=".8" opacity=".7"/><path d="M769.6 629.5C799.6 627.5 832.6 627.7 862.6 628.5" fill="none" stroke="#c0847a" stroke-width=".8" opacity=".7"/><path d="M770.8 631.7C800.8 633.4 829.2 630.4 859.2 632.3" fill="none" stroke="#c0847a" stroke-width=".8" opacity=".7"/><path d="M780.1 636C810.1 637.1 823.1 636.3 853.1 635.4" fill="none" stroke="#f6d6ce" stroke-width=".8" opacity=".7"/><path d="M772.6 638.7C802.6 640.6 827.1 638.4 857.1 637.8" fill="none" stroke="#c0847a" stroke-width=".8" opacity=".7"/><path d="M785.7 642.5C815.7 643.3 826.1 640.8 856.1 641.6" fill="none" stroke="#c0847a" stroke-width=".8" opacity=".7"/><path d="M729.5 617.5L759 617.5" stroke="#fff" stroke-width="2" opacity=".6" stroke-linecap="round"/><path d="M874.3 617.5L898.7 617.5" stroke="#fff" stroke-width="2" opacity=".6" stroke-linecap="round"/><path d="M737.5 663C728.5 662 723.5 664.5 723.5 672.5L724 684C724 691 727.5 694.5 737.5 695L892.7 695C902.7 694.5 906.2 691 906.2 684L906.7 672.5C906.7 664.5 901.7 662 892.7 663Z" fill="url(#gRing)" stroke="#1b1b1d" stroke-width="1.6" stroke-linejoin="round" /><rect x="765" y="662" width="103.3" height="32.5" fill="url(#gPinkT)" stroke="#1b1b1d" stroke-width="1.2"/><path d="M781.5 664.6C811.5 663.7 817.5 665.2 847.5 665.4" fill="none" stroke="#f6d6ce" stroke-width=".8" opacity=".7"/><path d="M771.3 668.8C801.3 669.2 821.3 668.8 851.3 669.7" fill="none" stroke="#c0847a" stroke-width=".8" opacity=".7"/><path d="M777.2 671.4C807.2 672 814.6 670.6 844.6 671.1" fill="none" stroke="#c0847a" stroke-width=".8" opacity=".7"/><path d="M768.2 674.8C798.2 675.7 822.3 674.5 852.3 675.5" fill="none" stroke="#f6d6ce" stroke-width=".8" opacity=".7"/><path d="M779.8 679.1C809.8 677.6 820.6 677.3 850.6 680.1" fill="none" stroke="#c0847a" stroke-width=".8" opacity=".7"/><path d="M771.9 681.3C801.9 682.3 815.7 679.7 845.7 680.9" fill="none" stroke="#c0847a" stroke-width=".8" opacity=".7"/><path d="M773.3 684.6C803.3 684.7 836.2 683.8 866.2 684.4" fill="none" stroke="#f6d6ce" stroke-width=".8" opacity=".7"/><path d="M769.5 687.9C799.5 689.4 835.5 688.9 865.5 688.1" fill="none" stroke="#c0847a" stroke-width=".8" opacity=".7"/><path d="M770.4 691.2C800.4 690.5 833.5 689.5 863.5 690.8" fill="none" stroke="#c0847a" stroke-width=".8" opacity=".7"/><path d="M729.5 667.5L759 667.5" stroke="#fff" stroke-width="2" opacity=".6" stroke-linecap="round"/><path d="M874.3 667.5L898.7 667.5" stroke="#fff" stroke-width="2" opacity=".6" stroke-linecap="round"/></g><path d="M660 268.3C665 269 663.4 273.3 675 270.4C686.6 267.5 683.1 270.5 694.8 259.6C706.5 248.7 701.3 249.4 710 237.8C718.7 226.2 712.3 231.6 721 224.8C729.7 218 731 219.9 736 217.5L895 217.5C900 219.9 901.3 218 910 224.8C918.7 231.6 912.3 226.2 921 237.8C929.7 249.4 924.5 248.7 936.2 259.6C947.9 270.5 944.4 267.5 956 270.4C967.6 273.3 966 269 971 268.3C970.3 282.8 972.6 279.8 969 311.7C965.4 343.6 966.7 332.1 960.1 364C953.5 395.9 956.5 381.4 949.3 407.4C942.1 433.4 945.7 421.8 938.4 442C931.1 462.2 934.6 448.7 927.5 468C920.4 487.3 920.5 489.3 917 500L714 500C710.5 489.3 710.6 487.3 703.5 468C696.4 448.7 699.9 462.2 692.6 442C685.3 421.8 688.9 433.4 681.7 407.4C674.5 381.4 677.5 395.9 670.9 364C664.3 332.1 665.6 343.6 662 311.7C658.4 279.8 660.7 282.8 660 268.3Z" fill="url(#gLamB)" stroke="#1b1b1d" stroke-width="1.6" stroke-linejoin="round" /><path d="M668 300C670.7 321.3 669.7 328.3 676 364C682.3 399.7 679.7 381 687 407C694.3 433 690.7 421.7 698 442C705.3 462.3 705.3 459.3 709 468" fill="none" stroke="#8ea6bb" stroke-width="9" opacity=".5" filter="url(#blur2)"/><path d="M963 300C960.3 321.3 961.3 328.3 955 364C948.7 399.7 951.3 381 944 407C936.7 433 940.3 421.7 933 442C925.7 462.3 925.7 459.3 922 468" fill="none" stroke="#8ea6bb" stroke-width="9" opacity=".5" filter="url(#blur2)"/><path d="M716 372C714 379.1 711.4 369.5 710 393.3C708.6 417.1 708.4 407.7 711.7 443.3C715 478.9 716.1 472.2 720 500C723.9 527.8 718.9 509.5 723.3 526.7C727.7 543.9 730 543.4 733.3 551.7L903.3 551.7C904.4 548.9 903.4 555 906.7 543.3C910 531.6 910.9 537.5 913.3 516.7C915.7 495.9 915.1 500 914 481C912.9 462 913.5 475.4 910 459.6C906.5 443.8 904.6 445.6 903.5 433.5C902.4 421.4 908.9 432.8 906.7 423.3C904.5 413.8 902.6 417.2 897 405C891.4 392.8 894.3 395.7 890 386.7C885.7 377.7 886 380.9 884 378Z" fill="url(#gCriB)" stroke="#1b1b1d" stroke-width="1.6" stroke-linejoin="round" /><path d="M881 382.2C882.1 378.8 883.4 379.2 886.8 383.5C890.2 387.8 888.7 387.8 891.3 395C893.9 402.2 890.4 400.1 894.5 405.2C898.6 410.3 897.5 408.8 903.5 410.3C909.5 411.8 911.1 407 912.4 409.6C913.7 412.2 910.4 411.8 907.3 418C904.2 424.2 906.4 427.8 903 428.2C899.6 428.6 902.2 426.4 897 419.2C891.8 412 892 415 887.5 406.5C883 398 885.8 401.8 883.6 393.7C881.4 385.6 879.9 385.6 881 382.2Z" fill="#fff" stroke="#1b1b1d" stroke-width="1.4" stroke-linejoin="round"/><path d="M872 432L884 430L908 452L902 464Z" fill="#fff" opacity=".55" filter="url(#blur3)"/><path d="M904 500L908 512L884 532L872 520Z" fill="#fff" opacity=".55" filter="url(#blur3)"/><path d="M876 436L903 455" stroke="#fff" stroke-width="1.6" opacity=".65" stroke-linecap="round"/><path d="M878 440L905 462" stroke="#fff" stroke-width="1.6" opacity=".65" stroke-linecap="round"/><path d="M882 434L906 448" stroke="#fff" stroke-width="1.6" opacity=".65" stroke-linecap="round"/><path d="M872 438L898 462" stroke="#fff" stroke-width="1.6" opacity=".65" stroke-linecap="round"/><path d="M902 505L878 522" stroke="#fff" stroke-width="1.6" opacity=".65" stroke-linecap="round"/><path d="M904 510L884 530" stroke="#fff" stroke-width="1.6" opacity=".65" stroke-linecap="round"/><path d="M900 500L874 512" stroke="#fff" stroke-width="1.6" opacity=".65" stroke-linecap="round"/><path d="M889 384.7C890.9 379.4 890.7 381.9 897 379C903.3 376.1 901.6 375.4 908 376C914.4 376.6 913.2 375 916.2 380.9C919.2 386.8 917.8 385.2 917 393.7C916.2 402.2 918.2 401 913.7 406.5C909.2 412 909.9 410.7 903.5 410.3C897.1 409.9 898.6 410.3 894.5 405.2C890.4 400.1 893.1 401.8 891.3 395C889.5 388.2 887.1 390 889 384.7Z" fill="url(#gBlueH)" stroke="#1b1b1d" stroke-width="1.4" stroke-linejoin="round" /><path d="M895 392C901 396 909 395 915 391" fill="none" stroke="#7d93a8" stroke-width="1" opacity=".7"/><path d="M654 201.6C650.9 201.6 652.3 201.4 649.3 202.4C646.4 203.5 647.6 202.8 645.3 204.8C642.9 206.8 643.8 205.7 642.2 208.4C640.7 211.1 642.4 206.2 640.6 212.8C638.8 219.5 638.9 218.7 636.7 228.4C634.5 238.1 635.7 225.8 634 242C632.3 258.2 632.1 258.5 631.7 277C631.3 295.5 631.5 282.9 632.9 297.4C634.3 311.9 631.3 298.2 636 320.4C640.7 342.6 639.7 335 647 364C654.3 393 651.3 381.4 657.8 407.4C664.3 433.4 658.4 421.1 666.5 442C674.6 462.9 673 454 682 470C691 486 686.8 479 693.5 490C700.2 501 696.5 496.5 702 503C707.5 509.5 704.5 506.8 710 509.5C715.5 512.2 713.5 511.8 718.5 511C723.5 510.2 721.8 511 725 507C728.2 503 727.5 504.5 728 499C728.5 493.5 728.8 495.5 726.5 490.5C724.2 485.5 725.2 487.7 721 484C716.8 480.3 718.3 485.8 714 479.5C709.7 473.2 712.7 478.2 708 465C703.3 451.8 705.7 459.2 700 440C694.3 420.8 697.7 432.7 691 407.4C684.3 382.1 686.3 395.9 680 364C673.7 332.1 676 336.4 672 311.7C668 287 672 304.5 668 290C664 275.5 661.2 282.8 660 268.3C658.8 253.8 662 259.9 664.3 246.5C666.6 233.1 665.9 239.1 667 228C668.1 216.9 667.8 219.7 667.5 213.3C667.1 206.9 667.5 211.5 666 208.7C664.4 205.9 665.3 207 662.9 204.9C660.5 202.9 661.7 203.6 658.8 202.5C655.8 201.3 657.1 201.6 654 201.6Z" fill="url(#gStripL)" stroke="#1b1b1d" stroke-width="1.8" stroke-linejoin="round" /><path d="M978.4 202C981.6 202 980.2 201.8 983.1 202.8C986.1 203.9 984.9 203.2 987.3 205.2C989.7 207.3 988.8 206.2 990.4 208.9C991.9 211.6 990.1 204.7 992 213.4C993.9 222.1 993.7 221.1 996 235C998.3 248.9 997.3 238.1 999 255C1000.7 271.9 1001.7 268.9 1001 285.6C1000.3 302.3 1000.5 293.4 997 305C993.5 316.6 995.5 308.1 990.4 320.4C985.3 332.7 986 324.6 981.7 342C977.4 359.4 981 347.9 977.4 372.6C973.8 397.3 977.4 387 970.9 416C964.4 445 966.4 436.3 957.8 459.6C949.2 482.9 952.9 472.2 945 486C937.1 499.8 940.7 492.8 934 501C927.3 509.2 931.3 505.8 925 510.5C918.7 515.2 921 514.3 915 515C909 515.7 911.2 515.7 907 512.5C902.8 509.3 904.2 510.7 902.5 505.5C900.8 500.3 900.8 502.5 902 497C903.2 491.5 902.5 493.5 906 489C909.5 484.5 908.5 486.5 912.5 483.5C916.5 480.5 914.5 485.8 918 480C921.5 474.2 919 479.3 923 466C927 452.7 925 462.4 930 440C935 417.6 933 427 938 398.7C943 370.4 939.7 384 945 355C950.3 326 948.7 333.4 954 311.7C959.3 290 956.1 304.5 961 290C965.9 275.5 966.9 282.8 968.7 268.3C970.5 253.8 967.7 259.9 966.5 246.5C965.3 233.1 965.6 238.9 965 228C964.4 217.1 964.3 220.1 964.7 213.9C965.2 207.6 964.7 212 966.3 209.2C967.8 206.4 966.9 207.5 969.3 205.4C971.8 203.3 970.5 204 973.6 202.9C976.6 201.7 975.2 202 978.4 202Z" fill="url(#gStripL)" stroke="#1b1b1d" stroke-width="1.8" stroke-linejoin="round" /><path d="M707 488C713 486 720 491 722 499" fill="none" stroke="#fff" stroke-width="2.5" opacity=".55" stroke-linecap="round"/><path d="M923 490C916 488 910 494 908 501" fill="none" stroke="#fff" stroke-width="2.5" opacity=".55" stroke-linecap="round"/><path d="M664 272C663.3 281.3 662 280.7 662 300C662 319.3 661 308.7 664 330C667 351.3 667.2 345.7 670.9 364C674.6 382.3 671.4 370.5 675 385C678.6 399.5 677.7 394.1 681.7 407.4C685.7 420.7 683.4 413.5 687 425C690.6 436.5 688.6 431 692.6 442C696.6 453 694.5 448 699 458C703.5 468 703.7 467.3 706 472" fill="none" stroke="#1b1b1d" stroke-width="1.1" opacity=".85"/><path d="M966 272C965.3 281.3 966 280.7 964 300C962 319.3 963.5 308.7 960 330C956.5 351.3 956.5 345.7 953.5 364C950.5 382.3 953.2 370.5 951 385C948.8 399.5 949.7 394.1 947 407.4C944.3 420.7 946 413.5 943 425C940 436.5 941.7 431 938 442C934.3 453 936.3 448 932 458C927.7 468 927.3 467.3 925 472" fill="none" stroke="#1b1b1d" stroke-width="1.1" opacity=".85"/><path d="M654 210C652.7 220 652.7 217.7 650 240C647.3 262.3 646.3 250.3 646 277C645.7 303.7 644.7 291 649 320C653.3 349 652.3 335 659 364C665.7 393 662.3 381 669 407C675.7 433 670.7 421 679 442C687.3 463 689 460.7 694 470" fill="none" stroke="#fff" stroke-width="3" opacity=".5" stroke-linecap="round"/><path d="M978 210C979 220 979 216.7 981 240C983 263.3 985.3 253.3 984 280C982.7 306.7 982.3 293.3 977 320C971.7 346.7 973 333.3 968 360C963 386.7 968 372.7 962 400C956 427.3 958.7 417.3 950 442C941.3 466.7 946.7 454.7 936 474C925.3 493.3 924 491.3 918 500" fill="none" stroke="#fff" stroke-width="3" opacity=".5" stroke-linecap="round"/><path d="M660 214C659 224.7 659.3 224 657 246C654.7 268 653.7 255.3 653 280C652.3 304.7 651.3 292 655 320C658.7 348 657.7 335 664 364C670.3 393 667 381 674 407C681 433 676.7 421 685 442C693.3 463 694.3 460.7 699 470" fill="none" stroke="#61778c" stroke-width=".8" opacity=".8"/><path d="M972 214C973 224.7 973.3 222.3 975 246C976.7 269.7 978.7 259.7 977 285C975.3 310.3 975.3 296.3 970 322C964.7 347.7 966 335.3 961 362C956 388.7 960.7 375.3 955 402C949.3 428.7 952.3 418 944 442C935.7 466 934.7 463.3 930 474" fill="none" stroke="#61778c" stroke-width=".8" opacity=".8"/><path d="M800 296C796.5 287.5 795.5 283 789.6 270.4C783.7 257.8 788.8 267.1 782.3 258.2C775.8 249.3 779.1 253.3 770.2 243.6C761.3 233.9 765.3 238.7 755.6 229C745.9 219.3 749.9 224.2 741 214.5C732.1 204.8 736.2 211.2 728.9 199.9C721.6 188.6 724.1 194.3 719.2 180.5C714.3 166.7 716.5 174 714.3 158.6C712.1 143.2 712.4 151.2 712.5 134.3C712.6 117.4 711.4 124.9 714.5 108C717.6 91.1 717.2 98.3 721.9 83.6C726.6 68.9 723.4 76.3 728.5 63.9C733.6 51.5 731.5 55.8 737.3 46.3C743.1 36.8 740.2 40.9 746 35.4C751.8 29.9 748.9 32 754.8 29.9C760.7 27.8 754.1 28.5 763.6 29.2C773.1 29.9 771.6 29.9 783.3 32C795 34.1 789.2 33.7 798.7 35.4C808.2 37.1 802.3 37 811.8 37C821.3 37 814.8 37.4 827.2 35.4C839.6 33.4 835.1 33.1 849 31C862.9 28.9 858.6 28.9 868.9 29.2C879.2 29.5 872.5 28.1 879.8 32C887.1 35.9 883.5 32.4 890.8 40.8C898.1 49.2 895.2 45.2 901.8 57.3C908.4 69.4 905.8 63.1 910.5 77C915.2 90.9 913.5 84.4 916 99C918.5 113.6 917.3 109.1 918 120.9C918.7 132.7 918.5 121.7 918 134.3C917.5 146.9 918.8 143.2 916.5 158.6C914.2 174 916.1 166.7 911.1 180.5C906.1 194.3 909.5 187.8 901.4 199.9C893.3 212 896.5 206.4 886.8 216.9C877.1 227.4 881.9 221.8 872.2 231.5C862.5 241.2 866.5 236.3 857.6 246C848.7 255.7 851.6 252.5 845.5 260.6C839.4 268.7 843.2 258.6 839.4 270.4C835.6 282.2 835.8 287.5 834 296C822.7 296 811.3 296 800 296Z" fill="url(#gEpiB)" stroke="#1b1b1d" stroke-width="2.2" stroke-linejoin="round" /><path d="M752 60C765 52.7 762.3 51.3 775 58C787.7 64.7 784.3 52.7 790 80C795.7 107.3 792 100 792 140C792 180 795.3 169.3 790 200C784.7 230.7 788.7 228.7 776 232C763.3 235.3 766.7 230.7 752 210C737.3 189.3 740 200 732 170C724 140 726.7 150 728 120C729.3 90 728 100 736 80C744 60 739 67.3 752 60Z" fill="#b3c8da" opacity=".45" filter="url(#blur5)"/><path d="M879 60C866 52.7 868.7 51.3 856 58C843.3 64.7 846.7 52.7 841 80C835.3 107.3 839 100 839 140C839 180 835.7 169.3 841 200C846.3 230.7 842.3 228.7 855 232C867.7 235.3 864.3 230.7 879 210C893.7 189.3 891 200 899 170C907 140 904.3 150 903 120C901.7 90 903 100 895 80C887 60 892 67.3 879 60Z" fill="#b3c8da" opacity=".45" filter="url(#blur5)"/><path d="M824 70C830 120 830 200 822 285" fill="none" stroke="#a3bbd0" stroke-width="12" opacity=".45" filter="url(#blur5)"/><path d="M724 100C726 90 724 88 730 70C736 52 733.3 57.3 742 46C750.7 34.7 742.3 38.7 756 36C769.7 33.3 764.4 35.7 783 38C801.6 40.3 789.8 43.3 811.8 43C833.8 42.7 830.3 39.5 849 37C867.7 34.5 856.3 33.8 868 35.5C879.7 37.2 874.3 32.5 884 42C893.7 51.5 889 44.7 897 64C905 83.3 904.3 88 908 100" fill="none" stroke="#fff" stroke-width="5" opacity=".55" filter="url(#blur1)"/><path d="M748 48C744 57 743 54.3 736 75C729 95.7 730.7 85 727 110C723.3 135 723 123.3 725 150C727 176.7 724 166 733 190C742 214 738.3 202 752 222C765.7 242 761.3 233.3 774 250C786.7 266.7 784.7 264.7 790 272" fill="none" stroke="#6b8096" stroke-width=".8" opacity=".7"/><path d="M891 48C895 57 897 54.3 903 75C909 95.7 907.3 85 909 110C910.7 135 911 123.3 908 150C905 176.7 908.3 166 900 190C891.7 214 896 202 883 222C870 242 875 233.3 861 250C847 266.7 847.7 264.7 841 272" fill="none" stroke="#6b8096" stroke-width=".8" opacity=".7"/><path d="M797 62C802 90 803 130 804 160C805 190 808 215 812 235" fill="none" stroke="#fff" stroke-width="1.6" opacity=".8" stroke-linecap="round"/><path d="M758 45C770 40 790 44 810 50" fill="none" stroke="#fff" stroke-width="3" opacity=".45" stroke-linecap="round"/><path d="M905 150C900 180 888 208 870 228" fill="none" stroke="#fff" stroke-width="2" opacity=".6" stroke-linecap="round"/><path d="M727 165C733 190 745 210 760 228" fill="none" stroke="#fff" stroke-width="2" opacity=".5" stroke-linecap="round"/><path d="M784 70C780 100 779 130 781 160" fill="none" stroke="#8299ae" stroke-width=".7" opacity=".6"/><path d="M845 70C852 100 854 130 851 165" fill="none" stroke="#8299ae" stroke-width=".7" opacity=".6"/><path d="M760 236C772 248 780 258 784 268" fill="none" stroke="#4d6073" stroke-width="1"/><path d="M870 236C858 248 850 258 846 268" fill="none" stroke="#4d6073" stroke-width="1"/><path d="M762 271C762.7 265.7 762 266.8 766 265C770 263.2 768 263.5 774 265.5C780 267.5 776.3 268.5 784 271C791.7 273.5 791.3 270.3 797 273C802.7 275.7 801.3 275 801 279C800.7 283 801.7 282.3 796 285C790.3 287.7 790.7 286.7 784 287C777.3 287.3 782.7 288 776 286C769.3 284 768.7 286 764 281C759.3 276 761.3 276.3 762 271Z" fill="#cfdde9" stroke="#1b1b1d" stroke-width="1.4" stroke-linejoin="round" /><path d="M776 286L776 293M783 287L783 293" stroke="#1b1b1d" stroke-width="1.1"/><path d="M873 271C872.3 265.7 873 266.8 869 265C865 263.2 867 263.5 861 265.5C855 267.5 859.3 268.5 851 271C842.7 273.5 842.7 270.3 836 273C829.3 275.7 831 275 831 279C831 283 830.3 282.3 836 285C841.7 287.7 841 286.7 848 287C855 287.3 849.3 288 857 286C864.7 284 865.7 286 871 281C876.3 276 873.7 276.3 873 271Z" fill="#cfdde9" stroke="#1b1b1d" stroke-width="1.4" stroke-linejoin="round" /><path d="M851 286L851 293M858 287L858 293" stroke="#1b1b1d" stroke-width="1.1"/><clipPath id="cMass"><path d="M737 302.5C739.7 300.7 733.3 299.7 745 297C756.7 294.3 748.5 295.3 772 294.4C795.5 293.5 786 294.4 815.5 294.4C845 294.4 837 293.5 860.5 294.4C884 295.3 875.2 294.3 886 297C896.8 299.7 890.7 300.7 893 302.5C894.3 309 894.7 309.5 897 322C899.3 334.5 897.3 330 900 340C902.7 350 900.3 344 905 352C909.7 360 911 356.7 914 364C917 371.3 914 370.7 914 374C908.3 376.3 908.3 379.1 897 381C885.7 382.9 897.1 382.8 880 379.6C862.9 376.4 867 375.4 845.6 371.5C824.2 367.6 834.9 368.5 815.7 368C796.5 367.5 808.7 367 788 370C767.3 373 771.2 374 753.5 377C735.8 380 747.5 379.3 735 379C722.5 378.7 722.3 377 716 376C715.3 372 712 371 714 364C716 357 717.3 362 722 355C726.7 348 724.7 354 728 343C731.3 332 729 335.5 732 322C735 308.5 735.3 309 737 302.5Z"/></clipPath><path d="M737 302.5C739.7 300.7 733.3 299.7 745 297C756.7 294.3 748.5 295.3 772 294.4C795.5 293.5 786 294.4 815.5 294.4C845 294.4 837 293.5 860.5 294.4C884 295.3 875.2 294.3 886 297C896.8 299.7 890.7 300.7 893 302.5C894.3 309 894.7 309.5 897 322C899.3 334.5 897.3 330 900 340C902.7 350 900.3 344 905 352C909.7 360 911 356.7 914 364C917 371.3 914 370.7 914 374C908.3 376.3 908.3 379.1 897 381C885.7 382.9 897.1 382.8 880 379.6C862.9 376.4 867 375.4 845.6 371.5C824.2 367.6 834.9 368.5 815.7 368C796.5 367.5 808.7 367 788 370C767.3 373 771.2 374 753.5 377C735.8 380 747.5 379.3 735 379C722.5 378.7 722.3 377 716 376C715.3 372 712 371 714 364C716 357 717.3 362 722 355C726.7 348 724.7 354 728 343C731.3 332 729 335.5 732 322C735 308.5 735.3 309 737 302.5Z" fill="url(#gPinkH)"/><g clip-path="url(#cMass)"><path d="M730 298.9C770 295.9 860 295.9 900 298.9" stroke="#f6d6ce" stroke-width=".8" opacity=".6" fill="none"/><path d="M730 303.9C770 300.9 860 300.9 900 303.9" stroke="#c0847a" stroke-width=".8" opacity=".6" fill="none"/><path d="M730 308.7C770 305.7 860 305.7 900 308.7" stroke="#f6d6ce" stroke-width=".8" opacity=".6" fill="none"/><path d="M730 315.3C770 312.3 860 312.3 900 315.3" stroke="#c0847a" stroke-width=".8" opacity=".6" fill="none"/><path d="M730 318.8C770 315.8 860 315.8 900 318.8" stroke="#f6d6ce" stroke-width=".8" opacity=".6" fill="none"/><path d="M730 325C770 322 860 322 900 325" stroke="#c0847a" stroke-width=".8" opacity=".6" fill="none"/><path d="M730 331C770 328 860 328 900 331" stroke="#f6d6ce" stroke-width=".8" opacity=".6" fill="none"/><path d="M730 334.6C770 331.6 860 331.6 900 334.6" stroke="#c0847a" stroke-width=".8" opacity=".6" fill="none"/><path d="M730 340.7C770 337.7 860 337.7 900 340.7" stroke="#f6d6ce" stroke-width=".8" opacity=".6" fill="none"/></g><path d="M737 302.5C739.7 300.7 733.3 299.7 745 297C756.7 294.3 748.5 295.3 772 294.4C795.5 293.5 786 294.4 815.5 294.4C845 294.4 837 293.5 860.5 294.4C884 295.3 875.2 294.3 886 297C896.8 299.7 890.7 300.7 893 302.5C894.3 309 894.7 309.5 897 322C899.3 334.5 897.3 330 900 340C902.7 350 900.3 344 905 352C909.7 360 911 356.7 914 364C917 371.3 914 370.7 914 374C908.3 376.3 908.3 379.1 897 381C885.7 382.9 897.1 382.8 880 379.6C862.9 376.4 867 375.4 845.6 371.5C824.2 367.6 834.9 368.5 815.7 368C796.5 367.5 808.7 367 788 370C767.3 373 771.2 374 753.5 377C735.8 380 747.5 379.3 735 379C722.5 378.7 722.3 377 716 376C715.3 372 712 371 714 364C716 357 717.3 362 722 355C726.7 348 724.7 354 728 343C731.3 332 729 335.5 732 322C735 308.5 735.3 309 737 302.5Z" fill="none" stroke="#1b1b1d" stroke-width="1.5" stroke-linejoin="round"/><clipPath id="cPCB"><path d="M712 376C711.3 381.8 709.7 378.6 710 393.3C710.3 408 711.3 403.3 713 420C714.7 436.7 712 426.6 715 443.3C718 460 717 453.3 722 470C727 486.7 724 476.6 730 493.3C736 510 732.7 502.4 740 520C747.3 537.6 748 537.3 752 546C758 547.3 759 557 770 550C781 543 775 546.3 785 525C795 503.7 791 515.3 800 486C809 456.7 808 465.7 812 437C816 408.3 816 415 812 400C808 385 810.7 396.8 800 392C789.3 387.2 800 390 780 385.5C760 381 762.7 381.7 740 378.5C717.3 375.3 721.3 376.8 712 376Z"/></clipPath><mask id="fadePC2" maskUnits="userSpaceOnUse" x="650" y="340" width="330" height="260"><path d="M690 350L796 350L804 398L800 437L789 486L774 525L760 548L745 562L690 562Z" fill="#fff" filter="url(#blur5)"/><path d="M690 350L776 350L782 398L776 437L761 486L748 520L690 545Z" fill="#fff"/></mask><g mask="url(#fadePC2)"><path d="M712 376C711.3 381.8 709.7 378.6 710 393.3C710.3 408 711.3 403.3 713 420C714.7 436.7 712 426.6 715 443.3C718 460 717 453.3 722 470C727 486.7 724 476.6 730 493.3C736 510 732.7 502.4 740 520C747.3 537.6 748 537.3 752 546C758 547.3 759 557 770 550C781 543 775 546.3 785 525C795 503.7 791 515.3 800 486C809 456.7 808 465.7 812 437C816 408.3 816 415 812 400C808 385 810.7 396.8 800 392C789.3 387.2 800 390 780 385.5C760 381 762.7 381.7 740 378.5C717.3 375.3 721.3 376.8 712 376Z" fill="url(#gPink)"/><g clip-path="url(#cPCB)" fill="none" stroke-linecap="round"><path d="M714.6 370.4Q755.5 384 797.9 391" stroke="#f6d6ce" stroke-width=".7" opacity=".55"/><path d="M714.2 370.5Q753.9 385.5 795.5 394.1" stroke="#c0847a" stroke-width="1" opacity=".55"/><path d="M725.9 374.6Q768.8 394.1 814.9 404.4" stroke="#c0847a" stroke-width=".7" opacity=".55"/><path d="M721.9 373.8Q758.2 390.5 796.6 402.1" stroke="#c0847a" stroke-width="1" opacity=".55"/><path d="M715.5 371.6Q754.1 391 794.9 405.3" stroke="#f6d6ce" stroke-width=".7" opacity=".55"/><path d="M726.7 377Q768 402.1 813.7 417.9" stroke="#c0847a" stroke-width="1" opacity=".55"/><path d="M717.2 372.8Q761.8 400.1 809.9 420.8" stroke="#c0847a" stroke-width=".7" opacity=".55"/><path d="M725.4 377.7Q762.7 404.6 805 422.6" stroke="#c0847a" stroke-width="1" opacity=".55"/><path d="M715.9 372.6Q760.6 406 810.6 430.6" stroke="#f6d6ce" stroke-width=".7" opacity=".55"/><path d="M722.3 376.9Q761.8 406.8 804.6 431.6" stroke="#c0847a" stroke-width="1" opacity=".55"/><path d="M716.4 373.1Q754.2 407.5 799 432.3" stroke="#c0847a" stroke-width=".7" opacity=".55"/><path d="M723.1 378.5Q762.9 413.9 807.4 443.4" stroke="#c0847a" stroke-width="1" opacity=".55"/><path d="M723.5 379.3Q761.6 418.6 807.3 448.5" stroke="#f6d6ce" stroke-width=".7" opacity=".55"/><path d="M722.7 379.1Q760.9 418.6 804.7 451.6" stroke="#c0847a" stroke-width="1" opacity=".55"/><path d="M721.8 378.7Q757.6 416.9 797.9 450.5" stroke="#c0847a" stroke-width=".7" opacity=".55"/><path d="M727 384.3Q756.9 417.8 790.2 447.9" stroke="#c0847a" stroke-width="1" opacity=".55"/><path d="M724.6 382.4Q751.8 416 783.4 445.4" stroke="#f6d6ce" stroke-width=".7" opacity=".55"/><path d="M722.6 380.7Q754.8 423.4 793 460.9" stroke="#c0847a" stroke-width="1" opacity=".55"/><path d="M719.2 377Q756.5 430.1 801.6 476.6" stroke="#c0847a" stroke-width=".7" opacity=".55"/><path d="M724.8 384.4Q751.6 424.1 783.6 459.7" stroke="#c0847a" stroke-width="1" opacity=".55"/><path d="M726.3 386.9Q753 429.3 785.5 467.5" stroke="#f6d6ce" stroke-width=".7" opacity=".55"/><path d="M728.1 390.3Q755.7 435.3 788.3 477" stroke="#c0847a" stroke-width="1" opacity=".55"/><path d="M720.2 379Q744.2 425.4 777.1 466" stroke="#c0847a" stroke-width=".7" opacity=".55"/><path d="M720.5 379.5Q749.5 435.3 786.4 486.4" stroke="#c0847a" stroke-width="1" opacity=".55"/><path d="M723.1 384.1Q747.5 431.6 776.8 476.3" stroke="#f6d6ce" stroke-width=".7" opacity=".55"/><path d="M727.9 393.2Q750.3 448.3 784.9 496.8" stroke="#c0847a" stroke-width="1" opacity=".55"/><path d="M728.5 395.2Q753.5 450.1 784 502" stroke="#c0847a" stroke-width=".7" opacity=".55"/><path d="M728.5 396.2Q746.7 445.7 774.7 490.5" stroke="#c0847a" stroke-width="1" opacity=".55"/><path d="M728.2 396.5Q747 449.6 775.3 498.3" stroke="#f6d6ce" stroke-width=".7" opacity=".55"/><path d="M721.8 382.9Q746.8 451.8 780.3 516.9" stroke="#c0847a" stroke-width="1" opacity=".55"/><path d="M720.5 379.8Q741.7 445.3 772.6 506.8" stroke="#c0847a" stroke-width=".7" opacity=".55"/><path d="M722.4 384.6Q746.8 458.9 778.6 530.4" stroke="#c0847a" stroke-width="1" opacity=".55"/><path d="M721.1 381.1Q736 441.8 763.3 498" stroke="#f6d6ce" stroke-width=".7" opacity=".55"/><path d="M722.2 384.4Q740.3 450.4 765.8 513.9" stroke="#c0847a" stroke-width="1" opacity=".55"/><path d="M723.3 388.1Q742.4 466.9 771.5 542.6" stroke="#c0847a" stroke-width=".7" opacity=".55"/><path d="M720.6 379.2Q734.8 444 756.9 506.6" stroke="#c0847a" stroke-width="1" opacity=".55"/><path d="M721.4 381.8Q736.8 458.8 760.3 533.8" stroke="#f6d6ce" stroke-width=".7" opacity=".55"/><path d="M722.1 384.5Q729.8 456.9 754.4 525.4" stroke="#c0847a" stroke-width="1" opacity=".55"/><path d="M723.6 391.7Q729.5 451.2 747.6 508.3" stroke="#c0847a" stroke-width=".7" opacity=".55"/><path d="M725.6 402.9Q731.5 461.3 747 517.9" stroke="#c0847a" stroke-width="1" opacity=".55"/><path d="M722.9 388.7Q729.9 449.1 743.2 508.5" stroke="#f6d6ce" stroke-width=".7" opacity=".55"/><path d="M722.3 384.9Q724.9 449.9 741.8 512.7" stroke="#c0847a" stroke-width="1" opacity=".55"/><path d="M723.2 390.7Q729 458.4 741.7 525.2" stroke="#c0847a" stroke-width=".7" opacity=".55"/><path d="M722.5 384.9Q726 442.9 736.9 500" stroke="#c0847a" stroke-width="1" opacity=".55"/><path d="M724.2 398.5Q726.8 447.5 735.2 495.9" stroke="#f6d6ce" stroke-width=".7" opacity=".55"/><path d="M724.3 399.4Q724.8 443.2 733.1 486.3" stroke="#c0847a" stroke-width="1" opacity=".55"/><path d="M723.2 388.4Q721.8 452.2 734.7 514.7" stroke="#c0847a" stroke-width=".7" opacity=".55"/><path d="M723.9 395.9Q722.8 448.1 732.2 499.5" stroke="#c0847a" stroke-width="1" opacity=".55"/><path d="M723 382.4Q723.2 436.7 730.4 490.6" stroke="#f6d6ce" stroke-width=".7" opacity=".55"/><path d="M724 397.3Q721.1 448.1 729.8 498.3" stroke="#c0847a" stroke-width="1" opacity=".55"/><path d="M723.8 392.6Q721.2 435.7 727.7 478.4" stroke="#c0847a" stroke-width=".7" opacity=".55"/><path d="M724 395Q721.5 439.3 726.8 483.4" stroke="#c0847a" stroke-width="1" opacity=".55"/><path d="M723.9 392.6Q721.7 436.3 725.5 479.8" stroke="#f6d6ce" stroke-width=".7" opacity=".55"/><path d="M724 396.5Q721.8 439.6 724.4 482.7" stroke="#c0847a" stroke-width="1" opacity=".55"/><path d="M724 396.2Q719.5 437.8 723.2 479.5" stroke="#c0847a" stroke-width=".7" opacity=".55"/><path d="M724 394.8Q721.6 424.1 722.6 453.5" stroke="#c0847a" stroke-width="1" opacity=".55"/><path d="M724.2 391.3Q720.4 430.9 720.9 470.7" stroke="#f6d6ce" stroke-width=".7" opacity=".55"/><path d="M724.3 390.7Q720 419.9 720.9 449.4" stroke="#c0847a" stroke-width="1" opacity=".55"/><path d="M724.1 394Q719.6 425.5 719.3 457.4" stroke="#c0847a" stroke-width=".7" opacity=".55"/><path d="M724.2 393.5Q720.8 416.3 719.7 439.3" stroke="#c0847a" stroke-width="1" opacity=".55"/><path d="M725.2 384.6Q717.6 417.5 717.2 451.3" stroke="#f6d6ce" stroke-width=".7" opacity=".55"/><path d="M724.3 392.2Q718 418.4 716.5 445.4" stroke="#c0847a" stroke-width="1" opacity=".55"/><path d="M725.5 385.6Q717.6 413.6 715.3 442.6" stroke="#c0847a" stroke-width=".7" opacity=".55"/><path d="M724.4 391.5Q718.2 410.6 716 430.6" stroke="#c0847a" stroke-width="1" opacity=".55"/></g><path d="M712 376C711.3 381.8 709.7 378.6 710 393.3C710.3 408 711.3 403.3 713 420C714.7 436.7 712 426.6 715 443.3C718 460 717 453.3 722 470C727 486.7 724 476.6 730 493.3C736 510 732.7 502.4 740 520C747.3 537.6 748 537.3 752 546" fill="none" stroke="#1b1b1d" stroke-width="1.4"/><path d="M712 376C721.3 376.8 717.3 375.3 740 378.5C762.7 381.7 766.7 383.2 780 385.5" fill="none" stroke="#1b1b1d" stroke-width="1.2"/></g><clipPath id="cRb"><path d="M916.7 124.6C919.1 132.7 920.9 131.9 924 148.9C927.1 165.9 926.4 156.2 926 175.6C925.6 195 925.9 187 922.8 207.2C919.7 227.4 922 216.9 916.7 236.3C911.4 255.7 915.1 246.1 907 265.5C898.9 284.9 902.2 277.3 892.4 294.6C882.6 311.9 887.8 305.6 877.5 317.4C867.2 329.2 876.9 320.8 861.4 330C845.9 339.2 854.5 335.7 831 345C807.5 354.3 817.7 349.7 791 358C764.3 366.3 764.3 366 751 370L741 342C750.5 338 752.9 336 769.6 330C786.3 324 775.8 327.8 791 324C806.2 320.2 800.3 322.3 815.3 318.6C830.3 314.9 823.4 318 836 312.8C848.6 307.6 842.3 311.5 853 303C863.7 294.5 856.6 301.5 868.1 287.4C879.6 273.3 876.2 279.2 887.5 260.6C898.8 242 894.8 249.3 902.1 231.5C909.4 213.7 905.8 223.4 909.4 207.2C913 191 911 199.1 913 182.9C915 166.7 914.5 176.2 915.5 158.6C916.5 141 915.8 139.5 916 130Z"/></clipPath><path d="M916.7 124.6C919.1 132.7 920.9 131.9 924 148.9C927.1 165.9 926.4 156.2 926 175.6C925.6 195 925.9 187 922.8 207.2C919.7 227.4 922 216.9 916.7 236.3C911.4 255.7 915.1 246.1 907 265.5C898.9 284.9 902.2 277.3 892.4 294.6C882.6 311.9 887.8 305.6 877.5 317.4C867.2 329.2 876.9 320.8 861.4 330C845.9 339.2 854.5 335.7 831 345C807.5 354.3 817.7 349.7 791 358C764.3 366.3 764.3 366 751 370L741 342C750.5 338 752.9 336 769.6 330C786.3 324 775.8 327.8 791 324C806.2 320.2 800.3 322.3 815.3 318.6C830.3 314.9 823.4 318 836 312.8C848.6 307.6 842.3 311.5 853 303C863.7 294.5 856.6 301.5 868.1 287.4C879.6 273.3 876.2 279.2 887.5 260.6C898.8 242 894.8 249.3 902.1 231.5C909.4 213.7 905.8 223.4 909.4 207.2C913 191 911 199.1 913 182.9C915 166.7 914.5 176.2 915.5 158.6C916.5 141 915.8 139.5 916 130Z" fill="url(#gPinkH)" /><g clip-path="url(#cRb)" fill="none" stroke-linecap="round" ><path d="M925.5 164.6C925.6 169.1 926 169.1 925.7 178.2C925.4 187.3 925.6 182.8 924.6 191.9C923.7 201 924.2 196.4 922.9 205.5C921.5 214.5 922.4 210 920.5 218.9C918.7 227.9 919.6 223.4 917.4 232.2C915.2 241.1 916.5 236.8 913.8 245.5C911.2 254.2 912.6 249.9 909.4 258.4C906.2 266.9 908 262.8 904.2 271.1C900.5 279.4 902.4 275.3 898.1 283.3C893.9 291.4 896.1 287.4 891.5 295.3C886.9 303.1 889.4 299.4 884.3 306.9C879.2 314.5 882.4 311.3 876.2 317.9C870.1 324.6 873.3 321.6 865.9 326.8C858.6 332.1 862.1 329.3 854 333.6C846 338 850.2 336.1 841.9 339.8C833.5 343.6 837.6 341.7 829.1 344.9C820.5 348.1 824.8 346.5 816.2 349.4C807.5 352.2 807.4 352.1 803.1 353.4" stroke="#c0847a" stroke-width="1.7" opacity="0.8"/><path d="M923.8 165C923.8 169.5 924.2 169.5 923.7 178.4C923.2 187.4 923.4 182.9 922.4 191.9C921.4 200.8 922.1 196.3 920.7 205.2C919.3 214.1 920.1 209.7 918.2 218.4C916.4 227.2 917.5 222.9 915.1 231.5C912.8 240.2 914.1 235.9 911.3 244.4C908.5 253 910.1 248.8 906.8 257.1C903.5 265.4 905.2 261.3 901.4 269.4C897.5 277.5 899.5 273.5 895.2 281.4C890.9 289.3 893.2 285.4 888.5 293.1C883.8 300.7 886.4 297 881.2 304.3C876 311.6 879.1 308.6 872.9 314.9C866.7 321.3 869.8 318.3 862.5 323.4C855.1 328.4 858.8 326 850.9 330.1C843 334.3 847 332.3 838.8 335.9C830.5 339.4 834.6 337.6 826.2 340.7C817.8 343.8 817.8 343.7 813.6 345.2" stroke="#c0847a" stroke-width="1.1" opacity="0.55"/><path d="M919.6 138.9C920.4 143.3 920.8 143.2 921.9 152C922.9 160.8 922.6 156.4 922.8 165.3C922.9 174.1 922.9 169.7 922.4 178.6C921.8 187.4 922.1 183 921.1 191.8C920.1 200.7 920.8 196.3 919.4 205.1C918 213.8 918.9 209.5 917 218.2C915.1 226.9 916.1 222.5 913.7 231.1C911.3 239.6 912.6 235.4 909.8 243.8C906.9 252.2 908.5 248.1 905.1 256.3C901.7 264.5 903.6 260.5 899.6 268.4C895.7 276.4 897.7 272.4 893.3 280.1C889 287.9 891.3 284.1 886.6 291.6C881.9 299.2 884.4 295.6 879.2 302.7C873.9 309.8 877 306.7 870.8 313C864.6 319.3 867.9 316.6 860.7 321.5C853.4 326.5 856.9 324 848.9 328C841 331.9 844.9 329.8 836.8 333.3C828.6 336.8 832.9 335.4 824.6 338.3C816.3 341.3 820.4 339.8 811.8 342.3C803.3 344.7 807.4 343.3 798.9 345.7C790.3 348.1 794.5 346.8 786.1 349.5C777.6 352.1 781.8 350.8 773.4 353.6C765 356.5 765 356.5 760.9 358" stroke="#c0847a" stroke-width="1.1" opacity="0.8"/><path d="M921.6 165.5C921.5 169.9 921.8 169.9 921.3 178.7C920.7 187.5 920.9 183.1 919.9 191.8C918.9 200.6 919.6 196.2 918.2 204.9C916.7 213.6 917.5 209.3 915.6 217.9C913.7 226.5 914.9 222.3 912.4 230.7C910 239.1 911.1 234.9 908.1 243.2C905.1 251.4 906.9 247.4 903.5 255.5C900 263.6 901.8 259.6 897.9 267.4C893.9 275.3 896.1 271.4 891.6 279C887.2 286.6 889.4 282.8 884.6 290.2C879.9 297.6 882.5 294.1 877.3 301.2C872.1 308.2 875.2 305.2 869 311.4C862.9 317.6 866.1 314.9 858.8 319.7C851.5 324.6 855 322.1 847.2 326C839.3 329.8 843.3 328 835.2 331.3C827.1 334.6 831.1 333 822.8 335.8C814.5 338.6 818.7 337.2 810.2 339.7C801.7 342.1 801.7 341.9 797.4 343" stroke="#c0847a" stroke-width="1.7" opacity="0.55"/><path d="M918.6 139.9C919.2 144.1 919.6 144.1 920.3 152.7C921 161.4 920.7 157.1 920.7 165.8C920.6 174.4 920.8 170.1 920.2 178.8C919.5 187.5 919.8 183.2 918.8 191.8C917.7 200.5 918.4 196.2 917 204.8C915.6 213.4 916.5 209.1 914.5 217.6C912.6 226.1 913.8 222 911.2 230.3C908.6 238.6 909.8 234.4 906.7 242.6C903.7 250.7 905.5 246.8 902.1 254.8C898.6 262.8 900.4 258.9 896.4 266.6C892.4 274.3 894.5 270.5 890 277.9C885.5 285.4 887.7 281.6 882.9 288.9C878.1 296.2 880.9 292.9 875.7 299.8C870.5 306.8 873.4 303.7 867.2 309.8C861 315.8 864.3 313.2 857.1 317.9C849.8 322.7 853.2 320.2 845.4 324C837.6 327.8 841.7 326.2 833.6 329.3C825.5 332.4 829.5 330.9 821.2 333.4C812.8 336 817 334.7 808.6 337C800.1 339.2 804.2 337.9 795.8 340.2C787.4 342.6 791.7 341.4 783.4 344.1C775.1 346.7 779.2 345.4 771 348.2C762.7 351 762.7 351 758.6 352.4" stroke="#c0847a" stroke-width="1.1" opacity="0.8"/><path d="M916.3 127.9C916.8 132.1 917 132 917.9 140.5C918.9 148.9 918.8 144.7 919.2 153.2C919.6 161.7 919.5 157.5 919.2 166.1C919 174.7 919.1 170.4 918.4 179C917.7 187.5 918.2 183.3 917.2 191.8C916.1 200.4 916.7 196.1 915.3 204.6C913.8 213.1 914.7 208.9 912.7 217.3C910.7 225.6 911.9 221.5 909.3 229.7C906.7 237.9 908 233.8 904.9 241.8C901.8 249.9 903.5 245.9 899.9 253.7C896.3 261.5 898.2 257.7 894.1 265.3C890.1 272.8 892.2 269.1 887.7 276.4C883.1 283.7 885.4 280 880.5 287.1C875.6 294.2 878.5 291 873.1 297.7C867.8 304.4 870.7 301.4 864.5 307.3C858.3 313.2 861.5 310.6 854.4 315.3C847.3 320.1 851 318 843.2 321.6C835.4 325.1 839.1 323.1 831 326C822.9 328.8 827.1 327.6 818.9 330.1C810.7 332.5 814.7 331.2 806.4 333.3C798 335.5 802.2 334.3 793.9 336.6C785.6 338.9 785.6 339 781.5 340.2" stroke="#c0847a" stroke-width="1.1" opacity="0.55"/><path d="M917.4 141C917.6 145.2 918 145.2 918.2 153.6C918.4 162.1 918.3 157.9 917.9 166.4C917.6 174.9 917.8 170.6 917.1 179.1C916.3 187.6 916.8 183.4 915.7 191.8C914.6 200.2 915.3 196.1 913.8 204.4C912.3 212.8 913.3 208.7 911.2 216.9C909.2 225.2 910.4 221.1 907.7 229.2C905 237.3 906.4 233.3 903.1 241.1C899.9 249 901.7 245.1 898 252.8C894.3 260.4 896.2 256.7 892 264C887.8 271.4 889.8 267.7 885.3 274.9C880.8 282.1 883.3 278.6 878.4 285.6C873.6 292.6 876.1 289.1 870.7 295.7C865.4 302.3 868.6 299.6 862.4 305.4C856.2 311.2 859.3 308.4 852.1 313C845 317.6 848.7 315.7 841 319.1C833.2 322.5 836.9 320.6 828.8 323.2C820.8 325.8 824.9 324.6 816.7 326.9C808.6 329.3 812.7 328.1 804.5 330.3C796.3 332.5 800.4 331.3 792.2 333.5C783.9 335.7 788 334.4 779.8 336.8C771.6 339.2 775.6 337.7 767.6 340.7C759.6 343.6 759.7 343.9 755.8 345.6" stroke="#c0847a" stroke-width="1.7" opacity="0.8"/><path d="M916.7 141.7C916.8 145.8 917.1 145.8 917.1 154.2C917 162.5 917.1 158.4 916.5 166.7C916 175.1 916.2 170.9 915.4 179.3C914.5 187.6 914.9 183.5 913.9 191.8C912.8 200.1 913.6 196 912.1 204.2C910.6 212.5 911.4 208.4 909.3 216.5C907.2 224.6 908.5 220.7 905.8 228.6C903 236.5 904.4 232.6 901.1 240.3C897.8 248 899.6 244.2 895.8 251.7C892 259.2 894 255.5 889.7 262.7C885.5 269.9 887.6 266.3 883 273.3C878.4 280.3 880.8 276.9 875.9 283.7C871 290.5 873.7 287.3 868.3 293.7C862.8 300.1 865.9 297.3 859.6 302.9C853.4 308.5 856.6 306 849.6 310.5C842.5 314.9 846.1 313 838.5 316.3C830.8 319.6 834.7 318 826.6 320.4C818.6 322.7 822.4 321.3 814.3 323.4C806.2 325.4 810.3 324.5 802.2 326.6C794.1 328.6 798.2 327.5 790 329.7C781.9 331.8 785.9 330.5 777.9 333C769.9 335.5 770 335.8 766 337.2" stroke="#c0847a" stroke-width="1.1" opacity="0.55"/><path d="M916 129.9C916 134.1 916 134.1 916 142.3C915.9 150.6 916.1 146.5 915.8 154.7C915.5 163 915.8 158.8 915.1 167.1C914.4 175.3 914.7 171.2 913.7 179.4C912.7 187.7 913.3 183.6 912.1 191.8C911 200 911.8 195.9 910.3 204C908.8 212.2 909.8 208.2 907.6 216.2C905.4 224.1 906.6 220.2 903.8 228C900.9 235.7 902.5 231.9 899.1 239.5C895.8 247 897.6 243.3 893.6 250.6C889.7 257.9 891.7 254.3 887.4 261.3C883 268.4 885.3 265 880.6 271.8C876 278.6 878.4 275.3 873.3 281.8C868.2 288.3 870.8 285.1 865.4 291.4C859.9 297.6 863 294.9 857 300.5C850.9 306 854.1 303.7 847.2 308.1C840.2 312.4 843.7 310.6 836.1 313.6C828.4 316.7 832.1 315 824.1 317.2C816.1 319.4 820.2 318.3 812 320.1C803.9 321.9 807.8 320.6 799.7 322.5C791.7 324.3 791.8 324.6 787.8 325.6" stroke="#c0847a" stroke-width="1.1" opacity="0.8"/><path d="M916.7 124.7C918.1 129 918.4 128.9 921 137.7C923.5 146.4 922.7 142 924.3 150.9C925.9 159.9 925.3 155.4 925.7 164.5C926.2 173.6 926.1 169.1 925.7 178.2C925.4 187.4 925.6 182.8 924.6 191.9C923.7 201 924.3 196.4 923 205.5C921.7 214.5 922.4 210 920.7 219C918.9 227.9 920 223.5 917.7 232.3C915.4 241.2 916.5 236.7 913.8 245.5C911.2 254.2 912.9 250 909.7 258.5C906.5 267.1 908.1 262.8 904.3 271.1C900.4 279.4 902.4 275.2 898.1 283.3C893.9 291.4 896 287.4 891.6 295.3C887.1 303.3 889.8 299.6 884.7 307.2C879.6 314.8 882.6 311.5 876.4 318.1C870.2 324.7 873.5 321.8 866.1 327C858.7 332.2 862.1 329.3 854.1 333.7C846.1 338 850.3 336.2 842 340.1C833.8 343.9 837.8 341.9 829.3 345.2C820.8 348.6 825.2 347.2 816.5 350C807.9 352.9 812.1 351.3 803.3 353.9C794.5 356.4 794.5 356.4 790.1 357.7" stroke="#f6d6ce" stroke-width="1.1" opacity="0.8"/><path d="M916.5 126.1C917.5 130.4 917.8 130.3 919.6 138.9C921.4 147.6 920.8 143.2 921.9 152C922.9 160.8 922.5 156.4 922.6 165.3C922.8 174.1 922.8 169.7 922.3 178.6C921.8 187.4 922.1 183 921.1 191.8C920.1 200.7 920.8 196.3 919.4 205.1C918 213.8 918.8 209.5 916.8 218.1C914.9 226.8 916 222.5 913.6 231.1C911.2 239.6 912.5 235.4 909.6 243.8C906.7 252.1 908.4 248.1 905 256.3C901.6 264.4 903.4 260.4 899.5 268.3C895.6 276.3 897.6 272.4 893.3 280.1C889 287.9 891.2 284 886.5 291.6C881.8 299.1 884.5 295.6 879.3 302.8C874.1 310 877.2 306.9 871 313.2C864.7 319.4 867.9 316.5 860.6 321.5C853.3 326.5 857 324.1 849 328.1C841.1 332 845 330 836.8 333.3C828.5 336.7 832.8 335.2 824.4 338.1C816.1 341.1 820.3 339.6 811.7 342.1C803.2 344.6 807.4 343.2 798.8 345.6C790.2 348 794.5 346.7 786 349.4C777.6 352.2 777.7 352.4 773.5 353.9" stroke="#f6d6ce" stroke-width="1.1" opacity="0.8"/><path d="M918.9 166.2C918.7 170.4 918.9 170.4 918.1 179C917.4 187.5 917.8 183.3 916.7 191.8C915.7 200.3 916.4 196.1 915 204.6C913.5 213 914.4 208.8 912.5 217.2C910.5 225.6 911.7 221.5 909 229.6C906.4 237.8 907.7 233.7 904.6 241.7C901.4 249.7 903.2 245.8 899.6 253.6C896 261.3 897.9 257.5 893.7 265C889.5 272.5 891.6 268.8 887.1 276C882.5 283.3 884.9 279.7 880.1 286.8C875.2 293.9 877.8 290.4 872.5 297.2C867.3 304 870.5 301.3 864.3 307.1C858.1 313 861.2 310.2 853.9 314.8C846.6 319.4 850.3 317.2 842.5 320.8C834.8 324.4 838.8 322.8 830.7 325.6C822.7 328.5 826.6 327 818.4 329.3C810.1 331.7 814.2 330.4 805.9 332.7C797.7 334.9 801.8 333.6 793.5 336C785.3 338.3 789.4 337 781.2 339.6C773 342.2 773 342.3 768.9 343.7" stroke="#f6d6ce" stroke-width="1.1" opacity="0.8"/><path d="M916.3 142.1C916.3 146.2 916.4 146.2 916.3 154.5C916.1 162.8 916.3 158.7 915.7 166.9C915.1 175.2 915.4 171.1 914.4 179.4C913.4 187.6 914 183.5 912.8 191.8C911.7 200 912.5 195.9 910.9 204.1C909.4 212.3 910.4 208.3 908.2 216.3C906.1 224.3 907.2 220.4 904.5 228.2C901.7 236 903.2 232.2 899.9 239.8C896.5 247.4 898.2 243.6 894.3 251C890.5 258.3 892.5 254.7 888.2 261.9C883.9 269 886.1 265.5 881.4 272.3C876.7 279.2 879.1 275.7 874.1 282.4C869.2 289.1 872 286 866.6 292.3C861.2 298.7 864.2 295.9 858 301.4C851.8 306.9 855 304.5 848 308.9C841 313.3 844.7 311.5 837 314.6C829.3 317.8 833.1 316.2 825 318.3C816.9 320.5 820.9 319.2 812.8 321.1C804.6 323.1 808.8 322.2 800.7 324.1C792.6 326 792.6 325.9 788.5 326.8" stroke="#f6d6ce" stroke-width="1.1" opacity="0.8"/></g><clipPath id="cLb"><path d="M714.3 124.6C711.9 132.7 710.1 131.9 707 148.9C703.9 165.9 704.6 156.2 705 175.6C705.4 195 705.1 187 708.2 207.2C711.3 227.4 709 216.9 714.3 236.3C719.6 255.7 715.9 246.1 724 265.5C732.1 284.9 728.8 277.3 738.6 294.6C748.4 311.9 743.2 305.6 753.5 317.4C763.8 329.2 754.1 320.8 769.6 330C785.1 339.2 776.5 335.7 800 345C823.5 354.3 813.3 349.7 840 358C866.7 366.3 866.7 366 880 370L890 342C880.5 338 878.1 336 861.4 330C844.7 324 855.2 327.8 840 324C824.8 320.2 830.7 322.3 815.7 318.6C800.7 314.9 807.6 318 795 312.8C782.4 307.6 788.7 311.5 778 303C767.3 294.5 774.4 301.5 762.9 287.4C751.4 273.3 754.8 279.2 743.5 260.6C732.2 242 736.2 249.3 728.9 231.5C721.6 213.7 725.2 223.4 721.6 207.2C718 191 720 199.1 718 182.9C716 166.7 716.5 176.2 715.5 158.6C714.5 141 715.2 139.5 715 130Z"/></clipPath><path d="M714.3 124.6C711.9 132.7 710.1 131.9 707 148.9C703.9 165.9 704.6 156.2 705 175.6C705.4 195 705.1 187 708.2 207.2C711.3 227.4 709 216.9 714.3 236.3C719.6 255.7 715.9 246.1 724 265.5C732.1 284.9 728.8 277.3 738.6 294.6C748.4 311.9 743.2 305.6 753.5 317.4C763.8 329.2 754.1 320.8 769.6 330C785.1 339.2 776.5 335.7 800 345C823.5 354.3 813.3 349.7 840 358C866.7 366.3 866.7 366 880 370L890 342C880.5 338 878.1 336 861.4 330C844.7 324 855.2 327.8 840 324C824.8 320.2 830.7 322.3 815.7 318.6C800.7 314.9 807.6 318 795 312.8C782.4 307.6 788.7 311.5 778 303C767.3 294.5 774.4 301.5 762.9 287.4C751.4 273.3 754.8 279.2 743.5 260.6C732.2 242 736.2 249.3 728.9 231.5C721.6 213.7 725.2 223.4 721.6 207.2C718 191 720 199.1 718 182.9C716 166.7 716.5 176.2 715.5 158.6C714.5 141 715.2 139.5 715 130Z" fill="url(#gPinkH)" /><g clip-path="url(#cLb)" fill="none" stroke-linecap="round" ><path d="M706.9 151C706.5 155.5 706 155.5 705.5 164.6C705 173.7 705.2 169.2 705.5 178.3C705.9 187.4 705.6 182.8 706.6 191.9C707.6 200.9 707.1 196.4 708.5 205.4C709.9 214.4 709 209.9 710.8 218.9C712.6 227.8 711.6 223.4 713.8 232.2C716.1 241 714.8 236.6 717.5 245.3C720.2 254 718.8 249.7 721.9 258.2C725.1 266.8 723.3 262.6 727.1 270.9C730.8 279.2 729 275 733.2 283.1C737.5 291.2 735.2 287.3 739.8 295.1C744.4 302.9 742 299.1 747 306.6C752.1 314.2 748.7 311.2 754.9 317.8C761.2 324.3 758.2 321 765.6 326.2C773.1 331.4 769.2 329 777.2 333.3C785.2 337.7 781.3 335.4 789.6 339.2C797.9 343 793.6 341.4 802.1 344.7C810.6 347.9 806.3 346.3 815 349.1C823.7 351.8 819.5 350.2 828.2 352.9C836.9 355.6 836.8 355.8 841.1 357.3" stroke="#c0847a" stroke-width="1.7" opacity="0.8"/><path d="M706.5 178.4C706.9 182.9 706.8 182.9 707.8 191.9C708.8 200.8 708.3 196.4 709.6 205.3C710.9 214.2 710 209.8 711.8 218.7C713.6 227.5 712.6 223.1 714.9 231.8C717.3 240.6 715.9 236.3 718.7 244.9C721.4 253.4 719.9 249.2 723.2 257.6C726.5 266 724.8 261.8 728.6 270C732.4 278.2 730.4 274.2 734.6 282.2C738.9 290.1 736.9 286 741.5 293.8C746.1 301.6 743.3 298 748.4 305.5C753.4 313 750.3 309.9 756.6 316.2C762.9 322.6 759.8 319.5 767.2 324.6C774.7 329.7 770.9 327.3 778.9 331.5C786.8 335.8 782.8 333.7 791.1 337.4C799.3 341 795.2 339.3 803.6 342.4C812.1 345.5 807.9 344 816.4 346.8C825 349.5 820.8 348 829.4 350.7C838 353.4 838 353.4 842.3 354.8" stroke="#c0847a" stroke-width="1.1" opacity="0.55"/><path d="M708.7 178.6C709.1 183 708.9 183 709.9 191.8C710.8 200.7 710.2 196.3 711.7 205.1C713.1 213.8 712.3 209.5 714.2 218.1C716.1 226.8 715 222.5 717.4 231.1C719.8 239.6 718.4 235.4 721.3 243.8C724.1 252.2 722.6 248.1 726 256.3C729.4 264.4 727.5 260.4 731.5 268.4C735.4 276.3 733.4 272.4 737.8 280.1C742.2 287.8 740 283.9 744.7 291.4C749.4 298.9 746.8 295.4 751.9 302.7C756.9 309.9 753.8 307 760 313.2C766.2 319.4 763.2 316.4 770.6 321.3C777.9 326.3 774.2 324 782.1 328C789.9 332 786 330 794.2 333.4C802.4 336.8 798.2 335.3 806.6 338.2C814.9 341.1 815.1 340.8 819.3 342.1" stroke="#c0847a" stroke-width="1.1" opacity="0.8"/><path d="M709.3 165.5C709.4 169.9 709.1 169.9 709.7 178.7C710.3 187.5 710.1 183.1 711.1 191.8C712.1 200.6 711.3 196.2 712.7 204.9C714.1 213.6 713.3 209.3 715.3 217.9C717.2 226.5 716.1 222.3 718.6 230.7C721.1 239.1 719.8 234.9 722.8 243.2C725.7 251.5 723.9 247.5 727.4 255.6C730.8 263.7 729 259.6 733 267.5C737 275.3 734.9 271.5 739.3 279.1C743.7 286.7 741.5 282.9 746.2 290.3C751 297.7 748.3 294.2 753.6 301.2C758.9 308.2 755.9 305.2 762.1 311.3C768.3 317.5 764.9 314.8 772.2 319.7C779.4 324.6 776 322 783.9 325.9C791.7 329.8 787.6 328.2 795.7 331.4C803.9 334.6 800 332.9 808.3 335.6C816.7 338.3 812.4 337 820.8 339.6C829.2 342.2 825 340.9 833.5 343.3C842 345.7 837.8 344.3 846.3 346.7C854.8 349.2 850.6 347.8 858.9 350.7C867.2 353.6 867.1 353.9 871.2 355.4" stroke="#c0847a" stroke-width="1.7" opacity="0.55"/><path d="M710.4 165.8C710.6 170.1 710.4 170.1 711 178.8C711.6 187.5 711.2 183.2 712.3 191.8C713.4 200.5 712.7 196.2 714.2 204.8C715.7 213.3 714.8 209.1 716.9 217.6C718.9 226 717.7 221.8 720.2 230.2C722.7 238.5 721.4 234.4 724.3 242.6C727.3 250.7 725.6 246.8 729.1 254.7C732.6 262.7 730.7 258.8 734.8 266.4C738.9 274.1 736.9 270.3 741.4 277.7C745.9 285.1 743.6 281.4 748.4 288.7C753.2 296 750.5 292.5 755.7 299.5C760.9 306.5 757.8 303.6 763.9 309.6C770.1 315.7 767 312.9 774.2 317.6C781.5 322.4 777.9 320.2 785.7 323.9C793.6 327.6 789.7 325.7 797.8 328.8C805.9 331.8 801.7 330.6 810 333.1C818.3 335.7 814.3 334.1 822.8 336.4C831.2 338.7 827 337.4 835.3 339.9C843.7 342.4 839.4 341.2 847.7 343.8C856 346.5 856 346.5 860.2 347.9" stroke="#c0847a" stroke-width="1.1" opacity="0.8"/><path d="M713.3 140.7C712.9 144.9 712.6 144.9 712.3 153.4C712 161.9 712 157.7 712.3 166.2C712.6 174.8 712.4 170.5 713.1 179C713.8 187.5 713.4 183.3 714.4 191.8C715.5 200.3 714.8 196.1 716.3 204.5C717.8 213 716.9 208.8 719 217.1C721.1 225.4 719.9 221.3 722.5 229.5C725.1 237.6 723.6 233.6 726.8 241.6C729.9 249.5 728.4 245.5 732 253.3C735.7 261 733.6 257.3 737.7 264.8C741.8 272.3 739.7 268.6 744.2 275.8C748.8 283.1 746.4 279.5 751.4 286.5C756.3 293.4 753.8 290 759.1 296.7C764.4 303.4 761.2 300.6 767.4 306.5C773.5 312.4 770.3 309.8 777.5 314.4C784.7 319 781.1 316.8 788.9 320.3C796.7 323.8 792.9 322 800.9 324.8C809 327.6 804.9 326.2 813.1 328.6C821.3 331.1 821.3 330.9 825.4 332.1" stroke="#c0847a" stroke-width="1.1" opacity="0.55"/><path d="M714.3 179.1C714.8 183.4 714.6 183.4 715.7 191.8C716.7 200.2 716 196.1 717.5 204.4C719 212.7 718.2 208.6 720.2 216.8C722.3 225.1 721.1 221 723.8 229.1C726.4 237.1 724.9 233.2 728.1 241C731.4 248.8 729.7 244.9 733.5 252.5C737.2 260.1 735.2 256.4 739.4 263.8C743.6 271.1 741.4 267.5 746.1 274.6C750.7 281.7 748.3 278.2 753.3 285.1C758.2 291.9 755.6 288.7 760.9 295.3C766.2 301.8 763.1 299.1 769.2 304.8C775.4 310.6 772.2 308 779.3 312.5C786.4 317.1 782.8 315.1 790.5 318.6C798.2 322 794.3 320.3 802.4 322.9C810.4 325.6 806.4 324.2 814.6 326.4C822.8 328.6 818.7 327.5 827 329.5C835.2 331.5 835.3 331.4 839.5 332.4" stroke="#c0847a" stroke-width="1.7" opacity="0.8"/><path d="M714.1 154.2C714.3 158.4 714 158.4 714.6 166.8C715.2 175.1 715 171 715.9 179.3C716.7 187.6 716.2 183.5 717.2 191.8C718.3 200.1 717.5 196 719.1 204.2C720.6 212.5 719.7 208.4 721.8 216.5C724 224.6 722.7 220.6 725.5 228.5C728.2 236.4 726.9 232.5 730.2 240.2C733.5 247.9 731.7 244.1 735.4 251.6C739.1 259.1 737.1 255.5 741.3 262.7C745.6 269.9 743.4 266.3 748.2 273.2C752.9 280.1 750.5 276.7 755.6 283.4C760.6 290.1 757.9 286.9 763.3 293.3C768.7 299.7 765.6 297 771.7 302.6C777.9 308.2 774.8 305.6 781.8 310.1C788.8 314.6 785.2 312.6 792.8 316C800.4 319.3 796.6 317.7 804.6 320.1C812.6 322.4 808.7 321.1 816.9 323.1C825 325.1 821 324 829.1 326C837.2 328 833.1 327.1 841.2 329.1C849.4 331.2 849.4 331.2 853.5 332.2" stroke="#c0847a" stroke-width="1.1" opacity="0.55"/><path d="M714.9 142.2C714.8 146.3 714.6 146.3 714.8 154.5C715 162.8 714.9 158.7 715.6 167C716.2 175.3 715.9 171.1 716.9 179.4C717.8 187.6 717.2 183.5 718.3 191.8C719.5 200 718.7 195.9 720.2 204.1C721.8 212.3 720.8 208.2 723 216.2C725.2 224.3 724 220.3 726.8 228.1C729.7 235.9 728.1 232.1 731.5 239.6C734.9 247.2 733.2 243.5 736.9 250.8C740.7 258.2 738.6 254.7 742.9 261.8C747.1 268.9 745 265.4 749.8 272.2C754.6 278.9 752.1 275.6 757.2 282.2C762.3 288.7 759.6 285.5 765 291.9C770.4 298.2 767.2 295.5 773.4 301.1C779.5 306.6 776.3 304.2 783.4 308.5C790.4 312.8 786.9 310.9 794.6 314C802.3 317 798.5 315.4 806.5 317.7C814.4 320 810.3 319 818.4 321C826.4 322.9 822.5 321.8 830.6 323.5C838.8 325.3 834.8 324.2 842.8 326.3C850.8 328.4 846.8 327.2 854.7 329.7C862.7 332.2 862.6 332.4 866.5 333.7" stroke="#c0847a" stroke-width="1.1" opacity="0.8"/><path d="M706.7 150.9C706.2 155.5 705.9 155.5 705.3 164.6C704.8 173.7 704.8 169.1 705.1 178.2C705.4 187.3 705.3 182.8 706.3 191.9C707.3 201 706.8 196.4 708.2 205.5C709.5 214.5 708.6 210 710.3 219C712.1 227.9 711.2 223.4 713.4 232.3C715.7 241.2 714.3 236.8 717 245.5C719.7 254.3 718.3 249.9 721.5 258.4C724.8 267 723 262.8 726.7 271.1C730.4 279.5 728.4 275.4 732.6 283.5C736.8 291.6 734.6 287.6 739.2 295.5C743.8 303.4 741.2 299.7 746.3 307.2C751.5 314.7 748.4 311.5 754.6 318.1C760.8 324.6 757.6 321.7 765 326.9C772.5 332.1 769 329.2 777 333.6C784.9 338 780.7 336.2 788.9 340.1C797.2 344 793.1 342 801.6 345.3C810.1 348.7 810.2 348.5 814.5 350" stroke="#f6d6ce" stroke-width="1.1" opacity="0.8"/><path d="M709.7 165.6C709.9 170 709.8 170 710.4 178.7C711 187.5 710.5 183.1 711.5 191.8C712.5 200.5 711.9 196.2 713.3 204.9C714.8 213.5 713.9 209.2 715.8 217.8C717.8 226.3 716.6 222.1 719.2 230.5C721.7 238.9 720.5 234.7 723.4 242.9C726.4 251.1 724.7 247.1 728.1 255.2C731.6 263.2 729.8 259.3 733.8 267C737.8 274.8 735.8 270.9 740.3 278.5C744.7 286 742.5 282.2 747.2 289.6C752 296.9 749.3 293.5 754.5 300.5C759.7 307.5 756.6 304.5 762.8 310.7C769 316.8 765.7 314.1 773 318.9C780.3 323.7 776.7 321.3 784.6 325.1C792.5 328.9 788.4 327.2 796.6 330.3C804.8 333.4 800.8 331.8 809.1 334.4C817.5 337.1 817.5 336.9 821.7 338.2" stroke="#f6d6ce" stroke-width="1.1" opacity="0.8"/><path d="M712.7 179C713.2 183.3 713.1 183.3 714.1 191.8C715.1 200.3 714.3 196.1 715.8 204.6C717.3 213.1 716.4 208.9 718.5 217.2C720.5 225.6 719.3 221.4 721.9 229.6C724.5 237.8 723.1 233.8 726.2 241.8C729.4 249.8 727.7 245.8 731.4 253.6C735 261.4 733.1 257.5 737.1 265.1C741.2 272.7 739.1 268.9 743.6 276.3C748.1 283.6 745.7 280 750.6 287C755.5 294.1 753 290.6 758.3 297.4C763.6 304.1 760.4 301.3 766.5 307.3C772.6 313.2 769.4 310.6 776.6 315.2C783.8 319.9 780.3 317.6 788.1 321.2C795.9 324.8 791.9 323.1 800 326C808 328.9 804 327.5 812.3 329.9C820.5 332.2 820.6 332.1 824.7 333.1" stroke="#f6d6ce" stroke-width="1.1" opacity="0.8"/><path d="M716 167.1C716.4 171.2 716.4 171.2 717.3 179.4C718.2 187.7 717.6 183.6 718.7 191.8C719.9 200 719.1 195.9 720.7 204C722.3 212.2 721.3 208.2 723.5 216.1C725.7 224.1 724.4 220.2 727.2 228C730 235.8 728.4 232 731.8 239.5C735.3 247 733.6 243.2 737.5 250.6C741.3 257.9 739.1 254.4 743.4 261.5C747.6 268.6 745.5 265.1 750.3 271.8C755 278.6 752.6 275.3 757.7 281.8C762.8 288.3 760.2 285.1 765.7 291.3C771.1 297.5 768.1 294.8 774.2 300.4C780.3 305.9 777 303.5 784 307.9C790.9 312.3 787.3 310.5 794.9 313.6C802.6 316.7 798.8 315 806.8 317.2C814.8 319.4 810.8 318.3 818.9 320.2C827 322 823 321 831.1 322.8C839.2 324.5 835.3 323.3 843.3 325.4C851.3 327.4 847.2 326.5 855.1 328.9C863 331.4 859.2 329.9 867 332.8C874.7 335.7 874.6 336 878.4 337.6" stroke="#f6d6ce" stroke-width="1.1" opacity="0.8"/></g><path d="M714.3 124.6C711.9 132.7 710.1 131.9 707 148.9C703.9 165.9 704.6 156.2 705 175.6C705.4 195 705.1 187 708.2 207.2C711.3 227.4 709 216.9 714.3 236.3C719.6 255.7 715.9 246.1 724 265.5C732.1 284.9 728.8 277.3 738.6 294.6C748.4 311.9 743.2 305.6 753.5 317.4C763.8 329.2 764.2 325.8 769.6 330" fill="none" stroke="#1b1b1d" stroke-width="1.6" stroke-linecap="round"/><path d="M715 130C715.2 139.5 714.5 141 715.5 158.6C716.5 176.2 716 166.7 718 182.9C720 199.1 718 191 721.6 207.2C725.2 223.4 721.6 213.7 728.9 231.5C736.2 249.3 732.2 242 743.5 260.6C754.8 279.2 751.4 273.3 762.9 287.4C774.4 301.5 767.3 294.5 778 303C788.7 311.5 782.4 307.6 795 312.8C807.6 318 808.8 316.7 815.7 318.6" fill="none" stroke="#1b1b1d" stroke-width="1.6" stroke-linecap="round"/><path d="M916.7 124.6C919.1 132.7 920.9 131.9 924 148.9C927.1 165.9 926.4 156.2 926 175.6C925.6 195 925.9 187 922.8 207.2C919.7 227.4 922 216.9 916.7 236.3C911.4 255.7 915.1 246.1 907 265.5C898.9 284.9 902.2 277.3 892.4 294.6C882.6 311.9 887.8 305.6 877.5 317.4C867.2 329.2 866.8 325.8 861.4 330" fill="none" stroke="#1b1b1d" stroke-width="1.6" stroke-linecap="round"/><path d="M916 130C915.8 139.5 916.5 141 915.5 158.6C914.5 176.2 915 166.7 913 182.9C911 199.1 913 191 909.4 207.2C905.8 223.4 909.4 213.7 902.1 231.5C894.8 249.3 898.8 242 887.5 260.6C876.2 279.2 879.6 273.3 868.1 287.4C856.6 301.5 863.7 294.5 853 303C842.3 311.5 848.6 307.6 836 312.8C823.4 318 822.2 316.7 815.3 318.6" fill="none" stroke="#1b1b1d" stroke-width="1.6" stroke-linecap="round"/><path d="M795 312.8C801.9 314.7 800.7 314.9 815.7 318.6C830.7 322.3 824.8 320.2 840 324C855.2 327.8 854.3 328 861.4 330" fill="none" stroke="#1b1b1d" stroke-width="1.3" stroke-linecap="round"/><path d="M769.6 330C764.2 331.9 766.5 329.3 753.5 335.8C740.5 342.3 742.8 341.2 730.5 349.6C718.2 358 721.3 357.2 716.7 361" fill="none" stroke="#1b1b1d" stroke-width="1.4" stroke-linecap="round"/><path d="M861.4 330C866.8 331.9 864.5 329.3 877.5 335.8C890.5 342.3 888.2 341.2 900.5 349.6C912.8 358 909.7 357.2 914.3 361" fill="none" stroke="#1b1b1d" stroke-width="1.4" stroke-linecap="round"/><clipPath id="cArch"><path d="M716 361L730.5 349.6L753.5 335.8L769.6 330L795 328L815.7 324L836 328L861.4 330L877.5 335.8L900.5 349.6L914.3 361L914 390L716 390Z"/></clipPath><g clip-path="url(#cMass)"><g clip-path="url(#cArch)"><path d="M724.6 343C770 326.1 860 326.8 904.2 343" stroke="#f6d6ce" stroke-width="1" opacity=".8" fill="none"/><path d="M722.3 345.7C770 330.2 860 329 910.7 345.7" stroke="#c0847a" stroke-width="1.3" opacity=".8" fill="none"/><path d="M717.6 348.4C770 332.4 860 333.2 905.7 348.4" stroke="#c0847a" stroke-width="1" opacity=".8" fill="none"/><path d="M726.8 351.1C770 334.9 860 335.6 912.6 351.1" stroke="#f6d6ce" stroke-width="1.3" opacity=".8" fill="none"/><path d="M720.1 353.8C770 338.1 860 338.3 908.1 353.8" stroke="#c0847a" stroke-width="1" opacity=".8" fill="none"/><path d="M717.2 356.5C770 340 860 339.9 910.1 356.5" stroke="#c0847a" stroke-width="1.3" opacity=".8" fill="none"/><path d="M727.3 359.2C770 342.6 860 344 901.7 359.2" stroke="#f6d6ce" stroke-width="1" opacity=".8" fill="none"/><path d="M716.8 361.9C770 345.7 860 345.9 913.7 361.9" stroke="#c0847a" stroke-width="1.3" opacity=".8" fill="none"/><path d="M721.9 364.6C770 349.4 860 347.8 905.6 364.6" stroke="#c0847a" stroke-width="1" opacity=".8" fill="none"/><path d="M717.7 367.3C770 351.5 860 352.1 911.2 367.3" stroke="#f6d6ce" stroke-width="1.3" opacity=".8" fill="none"/><path d="M716.1 370C770 353.2 860 354.1 913.8 370" stroke="#c0847a" stroke-width="1" opacity=".8" fill="none"/><path d="M717.2 372.7C770 356.7 860 357.5 908.1 372.7" stroke="#c0847a" stroke-width="1.3" opacity=".8" fill="none"/><path d="M721.6 375.4C770 359.7 860 358.6 905.9 375.4" stroke="#f6d6ce" stroke-width="1" opacity=".8" fill="none"/><path d="M718.4 378.1C770 362.3 860 363 913.2 378.1" stroke="#c0847a" stroke-width="1.3" opacity=".8" fill="none"/><path d="M723.8 380.8C770 365 860 364.1 910.2 380.8" stroke="#c0847a" stroke-width="1" opacity=".8" fill="none"/><path d="M729.9 383.5C770 368.5 860 366.7 904.1 383.5" stroke="#f6d6ce" stroke-width="1.3" opacity=".8" fill="none"/></g></g><path d="M716 376C722.3 377 722.5 378.7 735 379C747.5 379.3 735.8 380 753.5 377C771.2 374 767.3 373 788 370C808.7 367 796.5 367.5 815.7 368C834.9 368.5 824.2 367.6 845.6 371.5C867 375.4 862.9 376.4 880 379.6C897.1 382.8 885.7 382.9 897 381C908.3 379.1 908.3 376.3 914 374" fill="none" stroke="#1b1b1d" stroke-width="1.5" stroke-linejoin="round"/><circle cx="721" cy="367" r="9" fill="#fff" opacity=".8" filter="url(#blur3)"/><circle cx="721" cy="367" r="6" fill="#cfdde9" opacity=".85" filter="url(#blur2)"/><circle cx="910" cy="366" r="9" fill="#fff" opacity=".8" filter="url(#blur3)"/><circle cx="910" cy="366" r="6" fill="#cfdde9" opacity=".85" filter="url(#blur2)"/><path d="M717 357C709 360 708 370 713 377C716 381 722 382 726 380" fill="none" stroke="#1b1b1d" stroke-width="1.4"/><path d="M914 357C922 360 924 368 920 374" fill="none" stroke="#1b1b1d" stroke-width="1.4"/><path d="M817.3 294V653" stroke="#1f7fc6" stroke-width="3.6" stroke-dasharray="5.2 5.98" stroke-dashoffset="3.18" fill="none"/><path d="M788 373.5C792 386 804 391.5 815.7 391.5C828 391.5 840 386 843.3 373.5C828 369 804 369 788 373.5Z" fill="#8aa1b7" stroke="#1b1b1d" stroke-width="1.3"/><g mask="url(#fadeNB)"><path d="M723.7 726.9L721.7 719.7L720 712.6L719 705.3L718.6 698L718.4 690.4L718.4 682.9L718.4 675.3L718.5 667.7L718.7 660.1L719 652.6L719.5 645.1L720.1 637.6L720.9 630L721.6 622.3L722.1 614.6L722.3 606.8L721.9 599L721.3 591.2L720.4 583.5L719.3 575.9L718.1 568.3L716.8 560.8L715.5 553.2L714 545.6L712.2 538.1L710.1 530.7L708.1 523.3L706 516L703.9 508.7L702.2 501.6L701.3 494.5L701.1 487.2L701.6 480.2L703.3 473.6L706.7 467.4L710.6 461.1L714.7 454.7L718.9 448.5L723.2 442.2L722.2 436.8L716.8 437.8L712.5 444.1L708.2 450.4L704 456.9L699.9 463.5L696.1 470.8L693.9 478.9L693.3 487.1L693.6 495.1L694.5 503L696.3 510.7L698.5 518.1L700.6 525.4L702.6 532.7L704.6 540.1L706.4 547.3L707.8 554.7L709.1 562.1L710.4 569.6L711.6 577.1L712.6 584.5L713.5 592L714.1 599.4L714.5 606.9L714.3 614.3L713.8 621.7L713.1 629.3L712.4 636.8L711.7 644.5L711.2 652.2L710.9 659.9L710.7 667.6L710.6 675.2L710.6 682.9L710.6 690.5L710.8 698.3L711.2 706.1L712.3 714L714.1 721.7L716.3 729.1L721.1 731.7Z" fill="#f8dd33" stroke="#8d7a2a" stroke-width="1.1" stroke-linejoin="round"/><path d="M723.3 441.1L724 438.9L724.8 436.7L725.5 434.5L726.3 432.2L727 430L727.7 427.7L728.5 425.5L729.2 423.2L729.9 420.9L730.6 418.6L731.2 416.3L731.9 414L732.5 411.7L733 409.3L733.6 407L734 404.6L734.5 402.3L734.9 399.9L735.3 397.6L735.6 395.3L736 392.9L736.4 390.6L736.7 388.3L737.1 385.9L737.5 383.6L737.9 381.3L738.3 379.1L738.8 376.8L739.3 374.5L739.9 372.3L740.5 370.1L741.3 367.9L742.1 365.8L743 363.8L744.1 361.9L745.3 360.1L746.8 358.4L748.4 356.8L750 355.1L750.1 353L748 352.9L746.2 354.5L744.5 356.2L742.8 358L741.2 360L739.9 362.2L738.8 364.3L737.8 366.6L736.9 368.9L736.1 371.2L735.5 373.5L734.8 375.8L734.2 378.1L733.6 380.5L733.1 382.8L732.6 385.1L732.2 387.4L731.7 389.8L731.2 392.1L730.8 394.4L730.3 396.7L729.8 399L729.3 401.2L728.8 403.5L728.2 405.8L727.6 408L727 410.2L726.3 412.4L725.6 414.6L724.9 416.8L724.1 419L723.3 421.2L722.5 423.4L721.7 425.6L720.9 427.8L720.1 430L719.2 432.2L718.4 434.4L717.5 436.6L716.7 438.9L718.9 443.3Z" fill="#f8dd33" stroke="#8d7a2a" stroke-width="1.1" stroke-linejoin="round"/><path d="M717.8 447.5L718.8 446.3L719.8 445L720.8 443.8L721.8 442.6L722.8 441.3L723.8 440.1L724.8 438.9L725.8 437.7L726.8 436.5L727.8 435.3L728.8 434.1L729.8 432.9L730.9 431.8L731.9 430.7L733 429.6L734.1 428.4L735.3 427.3L736.4 426.2L737.5 425L738.6 423.8L739.7 422.6L740.7 421.4L741.7 420.1L742.7 418.9L743.7 417.7L744.7 416.5L745.8 415.3L746.8 414.2L747.9 413.1L749 412.1L750.1 411.1L751.3 410.2L752.6 409.3L753.9 408.4L755.2 407.6L756.5 406.8L757.9 406L759.3 405.2L760.6 404.3L761 402.7L759.4 402.3L758 403L756.6 403.8L755.2 404.6L753.9 405.4L752.5 406.2L751.1 407L749.7 407.9L748.4 408.9L747.1 409.9L745.8 411L744.6 412.1L743.5 413.3L742.4 414.4L741.3 415.6L740.3 416.8L739.2 418L738.2 419.2L737.1 420.3L736 421.5L735 422.6L733.9 423.6L732.7 424.7L731.6 425.8L730.4 426.9L729.2 428L728.1 429.1L726.9 430.3L725.8 431.4L724.7 432.6L723.7 433.8L722.6 435L721.6 436.2L720.5 437.4L719.5 438.6L718.4 439.8L717.4 440.9L716.3 442.1L715.3 443.3L714.2 444.5L714.5 447.8Z" fill="#f8dd33" stroke="#8d7a2a" stroke-width="1.1" stroke-linejoin="round"/><path d="M704.2 468L705.1 467.4L705.9 466.8L706.8 466.2L707.6 465.7L708.4 465.1L709.2 464.5L710.1 464L710.9 463.5L711.7 462.9L712.5 462.4L713.4 462L714.2 461.5L715 461.1L715.9 460.7L716.8 460.3L717.7 460L718.6 459.7L719.5 459.4L720.4 459.2L721.4 458.9L722.3 458.7L723.3 458.5L724.2 458.3L725.2 458.1L726.2 457.9L727.2 457.7L728.2 457.5L729.1 457.4L730.1 457.2L731.1 457.1L732.1 457L733.1 456.8L734.1 456.7L735.1 456.6L736.1 456.6L737.1 456.5L738.1 456.4L739.1 456.3L740.1 456.2L741.2 454.9L739.9 453.8L738.9 453.8L737.9 453.9L736.9 453.9L735.9 453.9L734.9 454L733.9 454L732.8 454.1L731.8 454.1L730.8 454.2L729.8 454.3L728.7 454.4L727.7 454.5L726.7 454.6L725.7 454.8L724.7 454.9L723.7 455L722.7 455.2L721.6 455.4L720.6 455.5L719.6 455.7L718.6 456L717.6 456.2L716.5 456.5L715.5 456.8L714.5 457.2L713.5 457.5L712.5 458L711.5 458.4L710.6 458.9L709.7 459.4L708.8 459.9L707.9 460.4L707 460.9L706.1 461.5L705.2 462L704.3 462.5L703.5 463L702.6 463.5L701.8 464L701 467.2Z" fill="#f8dd33" stroke="#8d7a2a" stroke-width="1.1" stroke-linejoin="round"/><path d="M723.7 726.9L721.7 719.7L720 712.6L719 705.3L718.6 698L718.4 690.4L718.4 682.9L718.4 675.3L718.5 667.7L718.7 660.1L719 652.6L719.5 645.1L720.1 637.6L720.9 630L721.6 622.3L722.1 614.6L722.3 606.8L721.9 599L721.3 591.2L720.4 583.5L719.3 575.9L718.1 568.3L716.8 560.8L715.5 553.2L714 545.6L712.2 538.1L710.1 530.7L708.1 523.3L706 516L703.9 508.7L702.2 501.6L701.3 494.5L701.1 487.2L701.6 480.2L703.3 473.6L706.7 467.4L710.6 461.1L714.7 454.7L718.9 448.5L723.2 442.2L722.2 436.8L716.8 437.8L712.5 444.1L708.2 450.4L704 456.9L699.9 463.5L696.1 470.8L693.9 478.9L693.3 487.1L693.6 495.1L694.5 503L696.3 510.7L698.5 518.1L700.6 525.4L702.6 532.7L704.6 540.1L706.4 547.3L707.8 554.7L709.1 562.1L710.4 569.6L711.6 577.1L712.6 584.5L713.5 592L714.1 599.4L714.5 606.9L714.3 614.3L713.8 621.7L713.1 629.3L712.4 636.8L711.7 644.5L711.2 652.2L710.9 659.9L710.7 667.6L710.6 675.2L710.6 682.9L710.6 690.5L710.8 698.3L711.2 706.1L712.3 714L714.1 721.7L716.3 729.1L721.1 731.7Z" fill="#f8dd33"/><path d="M723.3 441.1L724 438.9L724.8 436.7L725.5 434.5L726.3 432.2L727 430L727.7 427.7L728.5 425.5L729.2 423.2L729.9 420.9L730.6 418.6L731.2 416.3L731.9 414L732.5 411.7L733 409.3L733.6 407L734 404.6L734.5 402.3L734.9 399.9L735.3 397.6L735.6 395.3L736 392.9L736.4 390.6L736.7 388.3L737.1 385.9L737.5 383.6L737.9 381.3L738.3 379.1L738.8 376.8L739.3 374.5L739.9 372.3L740.5 370.1L741.3 367.9L742.1 365.8L743 363.8L744.1 361.9L745.3 360.1L746.8 358.4L748.4 356.8L750 355.1L750.1 353L748 352.9L746.2 354.5L744.5 356.2L742.8 358L741.2 360L739.9 362.2L738.8 364.3L737.8 366.6L736.9 368.9L736.1 371.2L735.5 373.5L734.8 375.8L734.2 378.1L733.6 380.5L733.1 382.8L732.6 385.1L732.2 387.4L731.7 389.8L731.2 392.1L730.8 394.4L730.3 396.7L729.8 399L729.3 401.2L728.8 403.5L728.2 405.8L727.6 408L727 410.2L726.3 412.4L725.6 414.6L724.9 416.8L724.1 419L723.3 421.2L722.5 423.4L721.7 425.6L720.9 427.8L720.1 430L719.2 432.2L718.4 434.4L717.5 436.6L716.7 438.9L718.9 443.3Z" fill="#f8dd33"/><path d="M717.8 447.5L718.8 446.3L719.8 445L720.8 443.8L721.8 442.6L722.8 441.3L723.8 440.1L724.8 438.9L725.8 437.7L726.8 436.5L727.8 435.3L728.8 434.1L729.8 432.9L730.9 431.8L731.9 430.7L733 429.6L734.1 428.4L735.3 427.3L736.4 426.2L737.5 425L738.6 423.8L739.7 422.6L740.7 421.4L741.7 420.1L742.7 418.9L743.7 417.7L744.7 416.5L745.8 415.3L746.8 414.2L747.9 413.1L749 412.1L750.1 411.1L751.3 410.2L752.6 409.3L753.9 408.4L755.2 407.6L756.5 406.8L757.9 406L759.3 405.2L760.6 404.3L761 402.7L759.4 402.3L758 403L756.6 403.8L755.2 404.6L753.9 405.4L752.5 406.2L751.1 407L749.7 407.9L748.4 408.9L747.1 409.9L745.8 411L744.6 412.1L743.5 413.3L742.4 414.4L741.3 415.6L740.3 416.8L739.2 418L738.2 419.2L737.1 420.3L736 421.5L735 422.6L733.9 423.6L732.7 424.7L731.6 425.8L730.4 426.9L729.2 428L728.1 429.1L726.9 430.3L725.8 431.4L724.7 432.6L723.7 433.8L722.6 435L721.6 436.2L720.5 437.4L719.5 438.6L718.4 439.8L717.4 440.9L716.3 442.1L715.3 443.3L714.2 444.5L714.5 447.8Z" fill="#f8dd33"/><path d="M704.2 468L705.1 467.4L705.9 466.8L706.8 466.2L707.6 465.7L708.4 465.1L709.2 464.5L710.1 464L710.9 463.5L711.7 462.9L712.5 462.4L713.4 462L714.2 461.5L715 461.1L715.9 460.7L716.8 460.3L717.7 460L718.6 459.7L719.5 459.4L720.4 459.2L721.4 458.9L722.3 458.7L723.3 458.5L724.2 458.3L725.2 458.1L726.2 457.9L727.2 457.7L728.2 457.5L729.1 457.4L730.1 457.2L731.1 457.1L732.1 457L733.1 456.8L734.1 456.7L735.1 456.6L736.1 456.6L737.1 456.5L738.1 456.4L739.1 456.3L740.1 456.2L741.2 454.9L739.9 453.8L738.9 453.8L737.9 453.9L736.9 453.9L735.9 453.9L734.9 454L733.9 454L732.8 454.1L731.8 454.1L730.8 454.2L729.8 454.3L728.7 454.4L727.7 454.5L726.7 454.6L725.7 454.8L724.7 454.9L723.7 455L722.7 455.2L721.6 455.4L720.6 455.5L719.6 455.7L718.6 456L717.6 456.2L716.5 456.5L715.5 456.8L714.5 457.2L713.5 457.5L712.5 458L711.5 458.4L710.6 458.9L709.7 459.4L708.8 459.9L707.9 460.4L707 460.9L706.1 461.5L705.2 462L704.3 462.5L703.5 463L702.6 463.5L701.8 464L701 467.2Z" fill="#f8dd33"/><path d="M718.8 728C717.1 720.1 715.5 728.9 713.8 704.3C712.1 679.7 712.7 687.6 713.8 654.3C714.9 621 718.2 637.6 717.1 604.3C716 571 714.9 580.2 710.5 554.3C706.1 528.4 708.4 544.8 703.8 526.7C699.2 508.6 699 516.7 696.8 500C694.6 483.3 694.2 490 697.1 476.7C700 463.4 698.3 472.2 705.5 460C712.7 447.8 714.4 446.7 718.8 440" fill="none" stroke="#fbe978" stroke-width="2" opacity=".7"/></g><path d="M951.9 165.3L829.3 294.3" stroke="#fff" stroke-width="4.6" opacity=".9"/><path d="M820.3 303.7L825.4 284.4L829.3 294.3L839.3 297.6Z" fill="#fff" stroke="#fff" stroke-width="2.4" stroke-linejoin="miter"/><path d="M979.5 136.3L829.3 294.3" stroke="#111" stroke-width="2.4"/><path d="M820.3 303.7L825.4 284.4L829.3 294.3L839.3 297.6Z" fill="#111"/><path d="M948.9 543.6L831.4 479.5" stroke="#fff" stroke-width="4.6" opacity=".9"/><path d="M820 473.3L840 473.3L831.4 479.5L830.8 490.1Z" fill="#fff" stroke="#fff" stroke-width="2.4" stroke-linejoin="miter"/><path d="M984 562.8L831.4 479.5" stroke="#111" stroke-width="2.4"/><path d="M820 473.3L840 473.3L831.4 479.5L830.8 490.1Z" fill="#111"/><g stroke-linecap="butt"><path d="M522 69L385.5 68.7" stroke="#fff" stroke-width="3" opacity=".8"/><path d="M611 69L763 68.5" stroke="#fff" stroke-width="3" opacity=".8"/><path d="M487 176L362 176" stroke="#fff" stroke-width="3" opacity=".8"/><path d="M602 176L711.5 176" stroke="#fff" stroke-width="3" opacity=".8"/><path d="M425 250L323 249.5" stroke="#fff" stroke-width="3" opacity=".8"/><path d="M601.7 312.8L748.3 326" stroke="#fff" stroke-width="3" opacity=".8"/><path d="M574.2 338.8L783.3 343.3" stroke="#fff" stroke-width="3" opacity=".8"/><path d="M484 425.3L403 429" stroke="#fff" stroke-width="3" opacity=".8"/><path d="M616.4 424.3L771 428.6" stroke="#fff" stroke-width="3" opacity=".8"/><path d="M458.7 471L383.5 474.7" stroke="#fff" stroke-width="3" opacity=".8"/><path d="M627.7 472.3L700.4 479.3" stroke="#fff" stroke-width="3" opacity=".8"/><path d="M467.2 507L372 506" stroke="#fff" stroke-width="3" opacity=".8"/><path d="M617.6 509L725 511.7" stroke="#fff" stroke-width="3" opacity=".8"/><path d="M509.4 588.5L382 606" stroke="#fff" stroke-width="3" opacity=".8"/><path d="M586.4 587.6L736 618.7" stroke="#fff" stroke-width="3" opacity=".8"/><path d="M497.2 691.5L373 703.3" stroke="#fff" stroke-width="3" opacity=".8"/><path d="M592 691.5L716.7 702.7" stroke="#fff" stroke-width="3" opacity=".8"/><path d="M87 366.7L203.9 323.3" stroke="#fff" stroke-width="3" opacity=".8"/><path d="M147.6 437L256.7 376.8" stroke="#fff" stroke-width="3" opacity=".8"/><path d="M147.6 512.8L298 444" stroke="#fff" stroke-width="3" opacity=".8"/><path d="M164.4 570.4L267.4 523.7" stroke="#fff" stroke-width="3" opacity=".8"/><circle cx="385.5" cy="68.7" r="3.3" fill="#fff" opacity=".8"/><circle cx="763" cy="68.5" r="3.3" fill="#fff" opacity=".8"/><circle cx="362" cy="176" r="3.3" fill="#fff" opacity=".8"/><circle cx="711.5" cy="176" r="3.3" fill="#fff" opacity=".8"/><circle cx="323" cy="249.5" r="3.3" fill="#fff" opacity=".8"/><circle cx="748.3" cy="326" r="3.3" fill="#fff" opacity=".8"/><circle cx="783.3" cy="343.3" r="3.3" fill="#fff" opacity=".8"/><circle cx="403" cy="429" r="3.3" fill="#fff" opacity=".8"/><circle cx="771" cy="428.6" r="3.3" fill="#fff" opacity=".8"/><circle cx="383.5" cy="474.7" r="3.3" fill="#fff" opacity=".8"/><circle cx="700.4" cy="479.3" r="3.3" fill="#fff" opacity=".8"/><circle cx="372" cy="506" r="3.3" fill="#fff" opacity=".8"/><circle cx="725" cy="511.7" r="3.3" fill="#fff" opacity=".8"/><circle cx="382" cy="606" r="3.3" fill="#fff" opacity=".8"/><circle cx="736" cy="618.7" r="3.3" fill="#fff" opacity=".8"/><circle cx="373" cy="703.3" r="3.3" fill="#fff" opacity=".8"/><circle cx="716.7" cy="702.7" r="3.3" fill="#fff" opacity=".8"/><circle cx="203.9" cy="323.3" r="3.3" fill="#fff" opacity=".8"/><circle cx="256.7" cy="376.8" r="3.3" fill="#fff" opacity=".8"/><circle cx="298" cy="444" r="3.3" fill="#fff" opacity=".8"/><circle cx="267.4" cy="523.7" r="3.3" fill="#fff" opacity=".8"/><path d="M522 69L385.5 68.7" stroke="#1a1a1a" stroke-width="1.45"/><circle cx="385.5" cy="68.7" r="2.5" fill="#1a1a1a"/><path d="M611 69L763 68.5" stroke="#1a1a1a" stroke-width="1.45"/><circle cx="763" cy="68.5" r="2.5" fill="#1a1a1a"/><path d="M487 176L362 176" stroke="#1a1a1a" stroke-width="1.45"/><circle cx="362" cy="176" r="2.5" fill="#1a1a1a"/><path d="M602 176L711.5 176" stroke="#1a1a1a" stroke-width="1.45"/><circle cx="711.5" cy="176" r="2.5" fill="#1a1a1a"/><path d="M425 250L323 249.5" stroke="#1a1a1a" stroke-width="1.45"/><circle cx="323" cy="249.5" r="2.5" fill="#1a1a1a"/><path d="M601.7 312.8L748.3 326" stroke="#1a1a1a" stroke-width="1.45"/><circle cx="748.3" cy="326" r="2.5" fill="#1a1a1a"/><path d="M574.2 338.8L783.3 343.3" stroke="#1a1a1a" stroke-width="1.45"/><circle cx="783.3" cy="343.3" r="2.5" fill="#1a1a1a"/><path d="M484 425.3L403 429" stroke="#1a1a1a" stroke-width="1.45"/><circle cx="403" cy="429" r="2.5" fill="#1a1a1a"/><path d="M616.4 424.3L771 428.6" stroke="#1a1a1a" stroke-width="1.45"/><circle cx="771" cy="428.6" r="2.5" fill="#1a1a1a"/><path d="M458.7 471L383.5 474.7" stroke="#1a1a1a" stroke-width="1.45"/><circle cx="383.5" cy="474.7" r="2.5" fill="#1a1a1a"/><path d="M627.7 472.3L700.4 479.3" stroke="#1a1a1a" stroke-width="1.45"/><circle cx="700.4" cy="479.3" r="2.5" fill="#1a1a1a"/><path d="M467.2 507L372 506" stroke="#1a1a1a" stroke-width="1.45"/><circle cx="372" cy="506" r="2.5" fill="#1a1a1a"/><path d="M617.6 509L725 511.7" stroke="#1a1a1a" stroke-width="1.45"/><circle cx="725" cy="511.7" r="2.5" fill="#1a1a1a"/><path d="M509.4 588.5L382 606" stroke="#1a1a1a" stroke-width="1.45"/><circle cx="382" cy="606" r="2.5" fill="#1a1a1a"/><path d="M586.4 587.6L736 618.7" stroke="#1a1a1a" stroke-width="1.45"/><circle cx="736" cy="618.7" r="2.5" fill="#1a1a1a"/><path d="M497.2 691.5L373 703.3" stroke="#1a1a1a" stroke-width="1.45"/><circle cx="373" cy="703.3" r="2.5" fill="#1a1a1a"/><path d="M592 691.5L716.7 702.7" stroke="#1a1a1a" stroke-width="1.45"/><circle cx="716.7" cy="702.7" r="2.5" fill="#1a1a1a"/><path d="M87 366.7L203.9 323.3" stroke="#1a1a1a" stroke-width="1.45"/><circle cx="203.9" cy="323.3" r="2.5" fill="#1a1a1a"/><path d="M147.6 437L256.7 376.8" stroke="#1a1a1a" stroke-width="1.45"/><circle cx="256.7" cy="376.8" r="2.5" fill="#1a1a1a"/><path d="M147.6 512.8L298 444" stroke="#1a1a1a" stroke-width="1.45"/><circle cx="298" cy="444" r="2.5" fill="#1a1a1a"/><path d="M164.4 570.4L267.4 523.7" stroke="#1a1a1a" stroke-width="1.45"/><circle cx="267.4" cy="523.7" r="2.5" fill="#1a1a1a"/></g><g font-family="'Liberation Sans', sans-serif" font-size="22" fill="#1a1a1a" stroke="#1a1a1a" stroke-width="0.25"><text x="528.3" y="76" textLength="75.7" lengthAdjust="spacingAndGlyphs">Epiglottic</text><text x="529.9" y="102.5" textLength="72.4" lengthAdjust="spacingAndGlyphs">cartilage</text><text x="492.9" y="182.5" textLength="103.9" lengthAdjust="spacingAndGlyphs">Aryepiglottic</text><text x="429.9" y="256.5" textLength="121.9" lengthAdjust="spacingAndGlyphs">Thyroepiglottic</text><text x="483.4" y="296" textLength="84" lengthAdjust="spacingAndGlyphs">Arytenoid:</text><text x="505.4" y="318.3" textLength="90.4" lengthAdjust="spacingAndGlyphs">Transverse</text><text x="505.4" y="345.8" textLength="62.9" lengthAdjust="spacingAndGlyphs">Oblique</text><text x="513.9" y="407" textLength="73.3" lengthAdjust="spacingAndGlyphs">Posterior</text><text x="491.6" y="433.5" textLength="117.6" lengthAdjust="spacingAndGlyphs">cricoarytenoid</text><text x="463.4" y="478.7" textLength="159.6" lengthAdjust="spacingAndGlyphs">Inferior laryngeal n.</text><text x="473.3" y="514.5" textLength="139.3" lengthAdjust="spacingAndGlyphs">Cricothyroid joint</text><text x="513.9" y="594" textLength="65.7" lengthAdjust="spacingAndGlyphs">Trachea</text><text x="503.8" y="698.2" textLength="81.8" lengthAdjust="spacingAndGlyphs">Recurrent</text><text x="495.7" y="724.7" textLength="96.5" lengthAdjust="spacingAndGlyphs">laryngeal n.</text><text x="18.3" y="371.3" textLength="61.4" lengthAdjust="spacingAndGlyphs">Thyroid</text><text x="17.7" y="397.8" textLength="113.9" lengthAdjust="spacingAndGlyphs">cartilage (cut)</text><text x="17.7" y="445.5" textLength="123.7" lengthAdjust="spacingAndGlyphs">Thyroarytenoid</text><text x="23.8" y="493.5" textLength="57" lengthAdjust="spacingAndGlyphs">Lateral</text><text x="23.8" y="520" textLength="117.6" lengthAdjust="spacingAndGlyphs">cricoarytenoid</text><text x="20.4" y="576" textLength="133.2" lengthAdjust="spacingAndGlyphs">Cricoid cartilage</text><text x="981.3" y="134" textLength="43.8" lengthAdjust="spacingAndGlyphs">Cut 8</text><text x="986.3" y="572.5" textLength="44.3" lengthAdjust="spacingAndGlyphs">Cut 9</text></g><g font-family="'Liberation Sans', sans-serif" font-size="31.5" font-weight="bold" fill="#1a1a1a" stroke="#1a1a1a" stroke-width="0.9"><text x="185" y="755" textLength="27.5" lengthAdjust="spacingAndGlyphs">A.</text><text x="671.5" y="754" textLength="28.5" lengthAdjust="spacingAndGlyphs">B.</text></g><rect x="1.5" y="1.5" width="1046" height="779" fill="none" stroke="#cf837b" stroke-width="3"/><rect x="0.5" y="0.5" width="1048" height="781" fill="none" stroke="#e3b3ad" stroke-width="1"/></svg></body></html>
